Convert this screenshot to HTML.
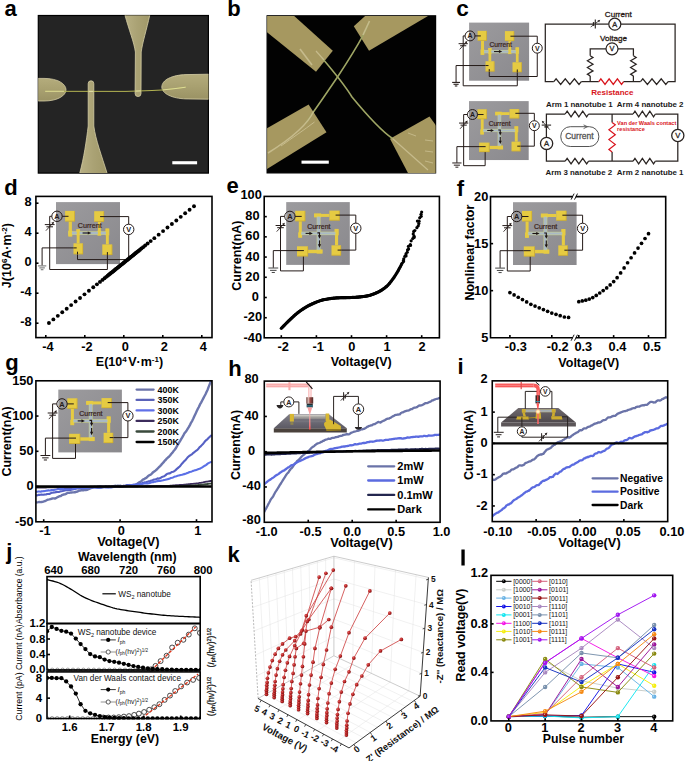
<!DOCTYPE html>
<html><head><meta charset="utf-8"><title>Figure</title>
<style>
html,body{margin:0;padding:0;background:#fff;}
body{width:685px;height:761px;overflow:hidden;font-family:"Liberation Sans",sans-serif;}
svg{display:block;}
svg text{font-family:"Liberation Sans",sans-serif;}
</style></head><body>
<svg width="685" height="761" viewBox="0 0 685 761">
<rect x="0" y="0" width="685" height="761" fill="#ffffff"/>
<text x="4.6" y="16.3" font-size="22" font-weight="bold" text-anchor="start" fill="#000" >a</text>
<defs><clipPath id="ca"><rect x="38.3" y="15.5" width="170.1" height="157.6"/></clipPath>
<linearGradient id="gel" x1="0" y1="0" x2="0" y2="1"><stop offset="0" stop-color="#b4ac7c"/><stop offset="0.5" stop-color="#a8a070"/><stop offset="1" stop-color="#9a9264"/></linearGradient>
<linearGradient id="gev" x1="0" y1="0" x2="1" y2="0"><stop offset="0" stop-color="#b8b084"/><stop offset="0.5" stop-color="#aaa274"/><stop offset="1" stop-color="#a09868"/></linearGradient></defs>
<rect x="38.3" y="15.5" width="170.1" height="157.6" fill="#242424" stroke="#000" stroke-width="1.2" />
<g clip-path="url(#ca)">
<path d="M124.9 15 L149.8 15 C146.5 30 142.6 42 141.2 52 L141 93.6 A2.95 2.95 0 0 1 135.1 93.6 L135.4 52 C134 42 129 30 124.9 15 Z" fill="url(#gev)" stroke="#d6cea6" stroke-width="0.8" />
<path d="M79.5 174 L107.3 174 C101.5 155 95.6 140 93.8 126 L93.8 83.6 A2.8 2.8 0 0 0 88.2 83.6 L88.2 126 C86.5 140 84 158 79.5 174 Z" fill="url(#gev)" stroke="#d6cea6" stroke-width="0.8" />
<path d="M38 78.4 L44 78.4 C58 78.4 66 84 66 89.7 C66 95.4 58 101 44 101 L38 101 Z" fill="url(#gel)" stroke="#d6cea6" stroke-width="0.8" />
<path d="M209 74.2 L186 74.6 C172 75 161.8 80 161.8 87 C161.8 93.5 172 98.5 186 98.9 L209 99.2 Z" fill="url(#gel)" stroke="#d6cea6" stroke-width="0.8" />
<polyline points="45.2,91.3 126,91.4 150,90.6 162,90 175,88.6 185.7,87.2" fill="none" stroke="#b4b452" stroke-width="1" />
<polyline points="45.2,91.3 64,91.3" fill="none" stroke="#e2e0a0" stroke-width="0.9" />
<polyline points="163,89.9 175,88.6 185.7,87.2" fill="none" stroke="#e2e0a0" stroke-width="0.9" />
<line x1="88.4" y1="91.35" x2="93.6" y2="91.35" stroke="#e8e6b0" stroke-width="1" />
<line x1="135.3" y1="91.1" x2="140.9" y2="90.9" stroke="#e8e6b0" stroke-width="1" />
</g>
<rect x="172.3" y="161.2" width="24.8" height="3.1" fill="#fff" stroke="none" stroke-width="1" />
<text x="227.3" y="16.2" font-size="22" font-weight="bold" text-anchor="start" fill="#000" >b</text>
<defs><clipPath id="cb"><rect x="267.1" y="15.8" width="168.5" height="157.1"/></clipPath></defs>
<rect x="267.1" y="15.8" width="168.5" height="157.1" fill="#020202" stroke="#000" stroke-width="1.2" />
<g clip-path="url(#cb)">
<polygon points="266,16 294.2,16 332.8,50.7 316,71.7 266,31.5" fill="#a69860" stroke="none" stroke-width="1" />
<polygon points="365.1,16 428,16 369,50.7 353.8,26.3" fill="#a69860" stroke="none" stroke-width="1" />
<polygon points="266,128.8 308.6,104.6 326.5,132.2 266,169.5" fill="#a69860" stroke="none" stroke-width="1" />
<polygon points="390,138.7 429.5,116.4 437,127 437,174 408.5,174" fill="#a69860" stroke="none" stroke-width="1" />
<path d="M322 58 C334 72 344 84 352 97 C366 114 380 130 392.5 138.5" fill="none" stroke="#9ea564" stroke-width="1.6" />
<path d="M369.2 21.6 C367 28 365 32 362.5 36.3 C355 50 346 64 337.5 77 C330 88 322 100 313.9 111.2 L306 123" fill="none" stroke="#9ea564" stroke-width="1.6" />
<line x1="300" y1="49" x2="312" y2="65" stroke="#c6bb8c" stroke-width="1.6" />
<line x1="316" y1="51" x2="324" y2="60" stroke="#c6bb8c" stroke-width="1.2" />
<line x1="369.5" y1="21" x2="363" y2="35" stroke="#c6bb8c" stroke-width="1.6" />
<path d="M313.5 111.5 C308 124 292 138 268 153" fill="none" stroke="#c6bb8c" stroke-width="1.5" />
<path d="M314.5 122 C304 130 292 138 281 146" fill="none" stroke="#c6bb8c" stroke-width="1" />
<line x1="392.5" y1="138.5" x2="428" y2="170" stroke="#c6bb8c" stroke-width="1.2" />
<line x1="408" y1="133" x2="416" y2="136" stroke="#c6bb8c" stroke-width="0.9" />
<line x1="425" y1="140" x2="433" y2="141" stroke="#c6bb8c" stroke-width="0.9" />
<line x1="425" y1="151" x2="433" y2="152" stroke="#c6bb8c" stroke-width="0.9" />
<line x1="425" y1="161" x2="433" y2="163" stroke="#c6bb8c" stroke-width="0.9" />
</g>
<rect x="301.5" y="160.6" width="27.3" height="3.1" fill="#fff" stroke="none" stroke-width="1" />
<text x="456.2" y="16.4" font-size="22.5" font-weight="bold" text-anchor="start" fill="#000" >c</text>
<defs><linearGradient id="gd1" x1="0" y1="0" x2="1" y2="1"><stop offset="0" stop-color="#9c9b9e"/><stop offset="1" stop-color="#8a898d"/></linearGradient></defs><rect x="469.1" y="22.6" width="60" height="58.12" fill="url(#gd1)" stroke="none" stroke-width="1" /><polyline points="465.06,35.91 463.19,35.91 463.19,85.79 517.29,85.79 517.29,69.47" fill="none" stroke="#241a18" stroke-width="1" /><line x1="458.6" y1="43.69" x2="467.79" y2="43.69" stroke="#241a18" stroke-width="1" /><line x1="460.1" y1="45.76" x2="466.29" y2="45.76" stroke="#241a18" stroke-width="1" /><line x1="459.63" y1="49.41" x2="466.01" y2="42.48" stroke="#241a18" stroke-width="0.85" /><polygon points="467.23,41.07 464.69,42.01 466.57,43.69" fill="#241a18" stroke="none" stroke-width="1" /><polyline points="488.51,65.54 456.07,65.54 456.07,82.04" fill="none" stroke="#241a18" stroke-width="1" /><line x1="452.15" y1="82.41" x2="459.99" y2="82.41" stroke="#241a18" stroke-width="1.1" /><line x1="453.49" y1="84.28" x2="458.65" y2="84.28" stroke="#241a18" stroke-width="1.1" /><line x1="454.82" y1="85.97" x2="457.32" y2="85.97" stroke="#241a18" stroke-width="1.1" /><polyline points="537.26,53.17 537.26,76.51 489.26,76.51 489.26,69.1" fill="none" stroke="#241a18" stroke-width="1" /><rect x="481.01" y="40.69" width="3" height="13.97" fill="#e6cb42" stroke="none" stroke-width="1" /><rect x="508.38" y="40.98" width="2.72" height="12.66" fill="#e6cb42" stroke="none" stroke-width="1" /><rect x="488.51" y="48.19" width="2.72" height="13.03" fill="#e6cb42" stroke="none" stroke-width="1" /><rect x="515.88" y="47.54" width="2.72" height="14.72" fill="#e6cb42" stroke="none" stroke-width="1" /><rect x="480.54" y="49.41" width="3.84" height="5.44" fill="#e6cb42" stroke="none" stroke-width="1" /><rect x="507.91" y="49.41" width="3.56" height="4.69" fill="#e6cb42" stroke="none" stroke-width="1" /><rect x="488.13" y="48.01" width="3.56" height="5.72" fill="#e6cb42" stroke="none" stroke-width="1" /><rect x="515.41" y="47.35" width="3.66" height="6.38" fill="#e6cb42" stroke="none" stroke-width="1" /><rect x="481.01" y="49.98" width="37.59" height="3.28" fill="#c9cf8a" stroke="none" stroke-width="1" /><rect x="481.48" y="50.54" width="36.66" height="2.16" fill="#a9b9c6" stroke="none" stroke-width="1" /><rect x="481.01" y="49.79" width="3" height="3.66" fill="#e6cb42" stroke="none" stroke-width="1" /><rect x="488.51" y="49.79" width="2.72" height="3.66" fill="#e6cb42" stroke="none" stroke-width="1" /><rect x="508.38" y="49.79" width="2.72" height="3.66" fill="#e6cb42" stroke="none" stroke-width="1" /><rect x="515.88" y="49.79" width="2.72" height="3.66" fill="#e6cb42" stroke="none" stroke-width="1" /><rect x="477.63" y="30.85" width="9.09" height="9.84" fill="#e6cb42" stroke="none" stroke-width="1" /><line x1="477.91" y1="40.46" x2="486.73" y2="40.46" stroke="#c8a426" stroke-width="0.56" /><line x1="486.49" y1="31.13" x2="486.49" y2="40.69" stroke="#c8a426" stroke-width="0.56" /><rect x="504.91" y="31.13" width="9.19" height="9.84" fill="#e6cb42" stroke="none" stroke-width="1" /><line x1="505.19" y1="40.74" x2="514.1" y2="40.74" stroke="#c8a426" stroke-width="0.56" /><line x1="513.87" y1="31.41" x2="513.87" y2="40.98" stroke="#c8a426" stroke-width="0.56" /><rect x="485.51" y="61.23" width="8.91" height="10.22" fill="#e6cb42" stroke="none" stroke-width="1" /><line x1="485.79" y1="71.21" x2="494.41" y2="71.21" stroke="#c8a426" stroke-width="0.56" /><line x1="494.18" y1="61.51" x2="494.18" y2="71.44" stroke="#c8a426" stroke-width="0.56" /><rect x="512.51" y="62.26" width="9.28" height="9.84" fill="#e6cb42" stroke="none" stroke-width="1" /><line x1="512.79" y1="71.87" x2="521.79" y2="71.87" stroke="#c8a426" stroke-width="0.56" /><line x1="521.55" y1="62.54" x2="521.55" y2="72.1" stroke="#c8a426" stroke-width="0.56" /><text x="500.69" y="46.79" font-size="6.75"  text-anchor="middle" fill="#3a2420" stroke="#3a2420" stroke-width="0.22">Current</text><line x1="494.04" y1="51.57" x2="499.66" y2="51.57" stroke="#1c1210" stroke-width="1.03" /><polygon points="502.19,51.57 498.91,50.07 498.91,53.07" fill="#1c1210" stroke="none" stroke-width="1" /><polyline points="475.01,35.91 480.82,35.91" fill="none" stroke="#241a18" stroke-width="1" /><polyline points="510.44,36.19 537.26,36.19 537.26,43.22" fill="none" stroke="#241a18" stroke-width="1" /><line x1="488.51" y1="65.54" x2="485.51" y2="65.54" stroke="#241a18" stroke-width="1" /><line x1="489.26" y1="69.1" x2="489.26" y2="71.44" stroke="#241a18" stroke-width="1" /><line x1="517.29" y1="69.47" x2="517.29" y2="72.1" stroke="#241a18" stroke-width="1" /><circle cx="470.04" cy="35.91" r="4.97" fill="none" stroke="#241a18" stroke-width="1" /><text x="470.04" y="38.41" font-size="6.94" font-weight="bold" text-anchor="middle" fill="#241a18" >A</text><circle cx="537.26" cy="48.19" r="4.97" fill="none" stroke="#241a18" stroke-width="1" /><text x="537.26" y="50.69" font-size="6.94" font-weight="bold" text-anchor="middle" fill="#241a18" >V</text>
<polyline points="553.8,81.6 545.3,81.6 545.3,24.1 593.6,24.1" fill="none" stroke="#2a2422" stroke-width="1.25" />
<polyline points="595.3,24.1 608.8,24.1" fill="none" stroke="#2a2422" stroke-width="1.25" />
<polyline points="620.2,24.1 675.1,24.1 675.1,81.6 668.1,81.6" fill="none" stroke="#2a2422" stroke-width="1.25" />
<line x1="595.3" y1="19.4" x2="595.3" y2="28.6" stroke="#2a2422" stroke-width="1.1" /><line x1="593.6" y1="22.1" x2="593.6" y2="25.9" stroke="#2a2422" stroke-width="1.5" /><line x1="590.7" y1="27" x2="598.9" y2="20.8" stroke="#2a2422" stroke-width="0.8" /><polygon points="600.2,19.8 597.5,20.5 599.1,22.4" fill="#2a2422" stroke="none" stroke-width="1" />
<circle cx="614.8" cy="24.2" r="6" fill="#fff" stroke="#2a2422" stroke-width="1.2" /><text x="614.8" y="26.86" font-size="7.4"  text-anchor="middle" fill="#2a2422" stroke="#2a2422" stroke-width="0.3">A</text>
<text x="618.3" y="16.6" font-size="8.1"  text-anchor="middle" fill="#2a1a16" stroke="#2a1a16" stroke-width="0.3">Current</text>
<text x="613.5" y="41.4" font-size="8.1"  text-anchor="middle" fill="#2a1a16" stroke="#2a1a16" stroke-width="0.3">Voltage</text>
<polyline points="606.3,48.8 590.2,48.8 590.2,55.8" fill="none" stroke="#2a2422" stroke-width="1.25" />
<polyline points="617.7,48.8 633.4,48.8 633.4,55.8" fill="none" stroke="#2a2422" stroke-width="1.25" />
<circle cx="612" cy="48.8" r="6" fill="#fff" stroke="#2a2422" stroke-width="1.2" /><text x="612" y="51.46" font-size="7.4"  text-anchor="middle" fill="#2a2422" stroke="#2a2422" stroke-width="0.3">V</text>
<polyline points="590.2,55.8 593,57.47 587.4,60.83 593,64.17 587.4,67.53 593,70.88 587.4,74.23 590.2,75.9" fill="none" stroke="#2a2422" stroke-width="1.25" stroke-linejoin="miter"/>
<polyline points="633.4,55.8 636.2,57.47 630.6,60.83 636.2,64.17 630.6,67.53 636.2,70.88 630.6,74.23 633.4,75.9" fill="none" stroke="#2a2422" stroke-width="1.25" stroke-linejoin="miter"/>
<line x1="590.2" y1="75.9" x2="590.2" y2="81.6" stroke="#2a2422" stroke-width="1.25" />
<line x1="633.4" y1="75.9" x2="633.4" y2="81.6" stroke="#2a2422" stroke-width="1.25" />
<polyline points="553.8,81.6 556.09,78.8 560.67,84.4 565.26,78.8 569.84,84.4 574.42,78.8 579.01,84.4 581.3,81.6" fill="none" stroke="#2a2422" stroke-width="1.25" stroke-linejoin="miter"/>
<line x1="581.3" y1="81.6" x2="598.8" y2="81.6" stroke="#2a2422" stroke-width="1.25" />
<polyline points="598.8,81.6 600.87,78.8 605,84.4 609.13,78.8 613.27,84.4 617.4,78.8 621.53,84.4 623.6,81.6" fill="none" stroke="#d8141c" stroke-width="1.3" stroke-linejoin="miter"/>
<line x1="623.6" y1="81.6" x2="640.5" y2="81.6" stroke="#2a2422" stroke-width="1.25" />
<polyline points="640.5,81.6 642.8,78.8 647.4,84.4 652,78.8 656.6,84.4 661.2,78.8 665.8,84.4 668.1,81.6" fill="none" stroke="#2a2422" stroke-width="1.25" stroke-linejoin="miter"/>
<text x="612.4" y="95" font-size="8" font-weight="bold" text-anchor="middle" fill="#d8141c" >Resistance</text>
<defs><linearGradient id="gd2" x1="0" y1="0" x2="1" y2="1"><stop offset="0" stop-color="#9c9b9e"/><stop offset="1" stop-color="#8a898d"/></linearGradient></defs><rect x="469" y="101.1" width="59.7" height="58.95" fill="url(#gd2)" stroke="none" stroke-width="1" /><polyline points="467.49,114.52 463.65,114.52 463.65,165.68 485.15,165.68 485.15,151.79" fill="none" stroke="#241a18" stroke-width="1" /><line x1="459.05" y1="123.07" x2="468.25" y2="123.07" stroke="#241a18" stroke-width="1" /><line x1="460.55" y1="125.13" x2="466.75" y2="125.13" stroke="#241a18" stroke-width="1" /><line x1="460.08" y1="128.79" x2="466.47" y2="121.84" stroke="#241a18" stroke-width="0.85" /><polygon points="467.69,120.44 465.15,121.38 467.03,123.07" fill="#241a18" stroke="none" stroke-width="1" /><polyline points="485.61,146.63 456.89,146.63 456.89,162.77" fill="none" stroke="#241a18" stroke-width="1" /><line x1="452.27" y1="162.96" x2="461.52" y2="162.96" stroke="#241a18" stroke-width="1" /><line x1="453.84" y1="165.17" x2="459.94" y2="165.17" stroke="#241a18" stroke-width="1" /><line x1="455.42" y1="167.16" x2="458.36" y2="167.16" stroke="#241a18" stroke-width="1" /><polyline points="534.33,130.67 534.33,146.16 517.25,146.16" fill="none" stroke="#241a18" stroke-width="1" /><rect x="480.83" y="119.03" width="2.82" height="15.21" fill="#e6cb42" stroke="none" stroke-width="1" /><rect x="480.26" y="129.45" width="3.66" height="5.07" fill="#e6cb42" stroke="none" stroke-width="1" /><rect x="495.19" y="112.18" width="14.36" height="2.82" fill="#e6cb42" stroke="none" stroke-width="1" /><rect x="495.19" y="111.71" width="6.57" height="3.75" fill="#e6cb42" stroke="none" stroke-width="1" /><rect x="489.46" y="145.88" width="13.42" height="3.19" fill="#e6cb42" stroke="none" stroke-width="1" /><rect x="497.63" y="145.5" width="5.44" height="3.94" fill="#e6cb42" stroke="none" stroke-width="1" /><rect x="514.81" y="126.54" width="2.91" height="15.11" fill="#e6cb42" stroke="none" stroke-width="1" /><rect x="514.34" y="126.26" width="3.94" height="6.01" fill="#e6cb42" stroke="none" stroke-width="1" /><rect x="482.99" y="128.88" width="32.38" height="3.19" fill="#c9cf8a" stroke="none" stroke-width="1" /><rect x="497.63" y="114.52" width="3.57" height="31.63" fill="#c9cf8a" stroke="none" stroke-width="1" /><rect x="483.46" y="129.45" width="31.45" height="2.07" fill="#a9b9c6" stroke="none" stroke-width="1" /><rect x="498.19" y="114.99" width="2.44" height="30.69" fill="#a9b9c6" stroke="none" stroke-width="1" /><rect x="477.45" y="109.27" width="9.39" height="9.76" fill="#e6cb42" stroke="none" stroke-width="1" /><line x1="477.73" y1="118.79" x2="486.83" y2="118.79" stroke="#c8a426" stroke-width="0.56" /><line x1="486.6" y1="109.55" x2="486.6" y2="119.03" stroke="#c8a426" stroke-width="0.56" /><rect x="509.55" y="109.08" width="9.57" height="9.29" fill="#e6cb42" stroke="none" stroke-width="1" /><line x1="509.83" y1="118.14" x2="519.13" y2="118.14" stroke="#c8a426" stroke-width="0.56" /><line x1="518.89" y1="109.36" x2="518.89" y2="118.37" stroke="#c8a426" stroke-width="0.56" /><rect x="479.14" y="142.59" width="10.33" height="9.39" fill="#e6cb42" stroke="none" stroke-width="1" /><line x1="479.42" y1="151.74" x2="489.46" y2="151.74" stroke="#c8a426" stroke-width="0.56" /><line x1="489.23" y1="142.87" x2="489.23" y2="151.98" stroke="#c8a426" stroke-width="0.56" /><rect x="511.52" y="141.65" width="8.92" height="9.57" fill="#e6cb42" stroke="none" stroke-width="1" /><line x1="511.8" y1="150.99" x2="520.44" y2="150.99" stroke="#c8a426" stroke-width="0.56" /><line x1="520.2" y1="141.93" x2="520.2" y2="151.23" stroke="#c8a426" stroke-width="0.56" /><text x="499.6" y="126.26" font-size="6.57"  text-anchor="middle" fill="#3a2420" stroke="#3a2420" stroke-width="0.22">Current</text><line x1="487.21" y1="130.48" x2="491.53" y2="130.48" stroke="#1c1210" stroke-width="1.03" /><polygon points="493.97,130.48 490.78,128.98 490.78,131.98" fill="#1c1210" stroke="none" stroke-width="1" /><polyline points="498.29,130.01 500.26,130.01 500.26,133.02" fill="none" stroke="#1c1210" stroke-width="1.03" /><polygon points="500.26,135.46 498.76,132.26 501.76,132.26" fill="#1c1210" stroke="none" stroke-width="1" /><line x1="500.26" y1="137.05" x2="500.26" y2="141.46" stroke="#1c1210" stroke-width="1.03" /><polygon points="500.26,143.9 498.76,140.71 501.76,140.71" fill="#1c1210" stroke="none" stroke-width="1" /><polyline points="477.45,114.52 483.55,114.52" fill="none" stroke="#241a18" stroke-width="1" /><polyline points="515.37,113.3 534.33,113.3 534.33,120.71" fill="none" stroke="#241a18" stroke-width="1" /><line x1="485.61" y1="146.63" x2="479.14" y2="146.63" stroke="#241a18" stroke-width="1" /><line x1="517.25" y1="146.16" x2="520.44" y2="146.16" stroke="#241a18" stroke-width="1" /><circle cx="472.47" cy="114.52" r="4.98" fill="none" stroke="#241a18" stroke-width="1" /><text x="472.47" y="117.02" font-size="6.95" font-weight="bold" text-anchor="middle" fill="#241a18" >A</text><circle cx="534.33" cy="125.69" r="4.98" fill="none" stroke="#241a18" stroke-width="1" /><text x="534.33" y="128.19" font-size="6.95" font-weight="bold" text-anchor="middle" fill="#241a18" >V</text>
<polyline points="565.2,114 546.4,114 546.4,137.3" fill="none" stroke="#2a2422" stroke-width="1.25" />
<polyline points="546.4,149.5 546.4,161.1 565.2,161.1" fill="none" stroke="#2a2422" stroke-width="1.25" />
<polyline points="565.2,114 567.15,111.2 571.05,116.8 574.95,111.2 578.85,116.8 582.75,111.2 586.65,116.8 588.6,114" fill="none" stroke="#2a2422" stroke-width="1.25" stroke-linejoin="miter"/>
<line x1="588.6" y1="114" x2="633.1" y2="114" stroke="#2a2422" stroke-width="1.25" />
<polyline points="633.1,114 634.96,111.2 638.67,116.8 642.39,111.2 646.11,116.8 649.83,111.2 653.54,116.8 655.4,114" fill="none" stroke="#2a2422" stroke-width="1.25" stroke-linejoin="miter"/>
<polyline points="655.4,114 677.8,114 677.8,129.4" fill="none" stroke="#2a2422" stroke-width="1.25" />
<polyline points="565.2,161.1 567.15,158.3 571.05,163.9 574.95,158.3 578.85,163.9 582.75,158.3 586.65,163.9 588.6,161.1" fill="none" stroke="#2a2422" stroke-width="1.25" stroke-linejoin="miter"/>
<line x1="588.6" y1="161.1" x2="633.1" y2="161.1" stroke="#2a2422" stroke-width="1.25" />
<polyline points="633.1,161.1 634.96,158.3 638.67,163.9 642.39,158.3 646.11,163.9 649.83,158.3 653.54,163.9 655.4,161.1" fill="none" stroke="#2a2422" stroke-width="1.25" stroke-linejoin="miter"/>
<polyline points="655.4,161.1 677.8,161.1 677.8,141.6" fill="none" stroke="#2a2422" stroke-width="1.25" />
<line x1="612.1" y1="114" x2="612.1" y2="122.4" stroke="#2a2422" stroke-width="1.25" />
<line x1="612.1" y1="151.9" x2="612.1" y2="161.1" stroke="#2a2422" stroke-width="1.25" />
<polyline points="612.1,122.4 615.3,124.86 608.9,129.78 615.3,134.69 608.9,139.61 615.3,144.53 608.9,149.44 612.1,151.9" fill="none" stroke="#d8141c" stroke-width="1.2" stroke-linejoin="miter"/>
<line x1="541.7" y1="125.1" x2="551.1" y2="125.1" stroke="#2a2422" stroke-width="1.1" /><line x1="544.4" y1="126.9" x2="548.4" y2="126.9" stroke="#2a2422" stroke-width="1.5" /><line x1="543" y1="122.1" x2="549.8" y2="129.7" stroke="#2a2422" stroke-width="0.8" /><polygon points="541.8,120.7 544.5,121.8 542.6,123.5" fill="#2a2422" stroke="none" stroke-width="1" />
<circle cx="546.6" cy="143.4" r="6.1" fill="#fff" stroke="#2a2422" stroke-width="1.3" /><text x="546.6" y="146.14" font-size="7.6"  text-anchor="middle" fill="#2a2422" stroke="#2a2422" stroke-width="0.3">A</text>
<circle cx="677.8" cy="135.5" r="6.1" fill="#fff" stroke="#2a2422" stroke-width="1.3" /><text x="677.8" y="138.24" font-size="7.6"  text-anchor="middle" fill="#2a2422" stroke="#2a2422" stroke-width="0.3">V</text>
<rect x="560.8" y="126.7" width="38" height="19.8" fill="none" stroke="#555" stroke-width="1" rx="9.5"/>
<polyline points="583.6,124.9 587.4,126.7 583.6,128.6" fill="none" stroke="#555" stroke-width="0.9" />
<text x="579.4" y="138.6" font-size="8.5"  text-anchor="middle" fill="#555" stroke="#555" stroke-width="0.3">Current</text>
<text x="617.1" y="125" font-size="5.6" font-weight="bold" text-anchor="start" fill="#d8141c" >Van der Waals contact</text>
<text x="617.1" y="131.4" font-size="5.6" font-weight="bold" text-anchor="start" fill="#d8141c" >resistance</text>
<text x="579.3" y="106.6" font-size="7.9" font-weight="bold" text-anchor="middle" fill="#1a1a1a" >Arm 1 nanotube 1</text>
<text x="650.2" y="106.6" font-size="7.9" font-weight="bold" text-anchor="middle" fill="#1a1a1a" >Arm 4 nanotube 2</text>
<text x="578.8" y="175" font-size="7.9" font-weight="bold" text-anchor="middle" fill="#1a1a1a" >Arm 3 nanotube 2</text>
<text x="650.2" y="175" font-size="7.9" font-weight="bold" text-anchor="middle" fill="#1a1a1a" >Arm 2 nanotube 1</text>
<text x="4.3" y="194.5" font-size="22" font-weight="bold" text-anchor="start" fill="#000" >d</text>
<defs><linearGradient id="gd3" x1="0" y1="0" x2="1" y2="1"><stop offset="0" stop-color="#9c9b9e"/><stop offset="1" stop-color="#8a898d"/></linearGradient></defs><rect x="56" y="202.1" width="64" height="62" fill="url(#gd3)" stroke="none" stroke-width="1" /><polyline points="51.8,216.3 49.7,216.3 49.7,269.5 107.4,269.5 107.4,252.1" fill="none" stroke="#241a18" stroke-width="1" /><line x1="44.8" y1="224.6" x2="54.6" y2="224.6" stroke="#241a18" stroke-width="1" /><line x1="46.4" y1="226.8" x2="53" y2="226.8" stroke="#241a18" stroke-width="1" /><line x1="45.9" y1="230.7" x2="52.7" y2="223.3" stroke="#241a18" stroke-width="0.85" /><polygon points="54,221.8 51.3,222.8 53.3,224.6" fill="#241a18" stroke="none" stroke-width="1" /><polyline points="76.7,247.9 42.1,247.9 42.1,265.5" fill="none" stroke="#241a18" stroke-width="1" /><line x1="37.92" y1="265.9" x2="46.28" y2="265.9" stroke="#777" stroke-width="1.1" /><line x1="39.34" y1="267.89" x2="44.86" y2="267.89" stroke="#777" stroke-width="1.1" /><line x1="40.77" y1="269.7" x2="43.43" y2="269.7" stroke="#777" stroke-width="1.1" /><polyline points="128.7,234.6 128.7,259.6 77.5,259.6 77.5,251.7" fill="none" stroke="#241a18" stroke-width="1" /><rect x="68.7" y="221.4" width="3.2" height="14.9" fill="#e6cb42" stroke="none" stroke-width="1" /><rect x="97.9" y="221.7" width="2.9" height="13.5" fill="#e6cb42" stroke="none" stroke-width="1" /><rect x="76.7" y="229.4" width="2.9" height="13.9" fill="#e6cb42" stroke="none" stroke-width="1" /><rect x="105.9" y="228.7" width="2.9" height="15.7" fill="#e6cb42" stroke="none" stroke-width="1" /><rect x="68.2" y="230.7" width="4.1" height="5.8" fill="#e6cb42" stroke="none" stroke-width="1" /><rect x="97.4" y="230.7" width="3.8" height="5" fill="#e6cb42" stroke="none" stroke-width="1" /><rect x="76.3" y="229.2" width="3.8" height="6.1" fill="#e6cb42" stroke="none" stroke-width="1" /><rect x="105.4" y="228.5" width="3.9" height="6.8" fill="#e6cb42" stroke="none" stroke-width="1" /><rect x="68.7" y="231.3" width="40.1" height="3.5" fill="#c9cf8a" stroke="none" stroke-width="1" /><rect x="69.2" y="231.9" width="39.1" height="2.3" fill="#a9b9c6" stroke="none" stroke-width="1" /><rect x="68.7" y="231.1" width="3.2" height="3.9" fill="#e6cb42" stroke="none" stroke-width="1" /><rect x="76.7" y="231.1" width="2.9" height="3.9" fill="#e6cb42" stroke="none" stroke-width="1" /><rect x="97.9" y="231.1" width="2.9" height="3.9" fill="#e6cb42" stroke="none" stroke-width="1" /><rect x="105.9" y="231.1" width="2.9" height="3.9" fill="#e6cb42" stroke="none" stroke-width="1" /><rect x="65.1" y="210.9" width="9.7" height="10.5" fill="#e6cb42" stroke="none" stroke-width="1" /><line x1="65.4" y1="221.15" x2="74.8" y2="221.15" stroke="#c8a426" stroke-width="0.6" /><line x1="74.55" y1="211.2" x2="74.55" y2="221.4" stroke="#c8a426" stroke-width="0.6" /><rect x="94.2" y="211.2" width="9.8" height="10.5" fill="#e6cb42" stroke="none" stroke-width="1" /><line x1="94.5" y1="221.45" x2="104" y2="221.45" stroke="#c8a426" stroke-width="0.6" /><line x1="103.75" y1="211.5" x2="103.75" y2="221.7" stroke="#c8a426" stroke-width="0.6" /><rect x="73.5" y="243.3" width="9.5" height="10.9" fill="#e6cb42" stroke="none" stroke-width="1" /><line x1="73.8" y1="253.95" x2="83" y2="253.95" stroke="#c8a426" stroke-width="0.6" /><line x1="82.75" y1="243.6" x2="82.75" y2="254.2" stroke="#c8a426" stroke-width="0.6" /><rect x="102.3" y="244.4" width="9.9" height="10.5" fill="#e6cb42" stroke="none" stroke-width="1" /><line x1="102.6" y1="254.65" x2="112.2" y2="254.65" stroke="#c8a426" stroke-width="0.6" /><line x1="111.95" y1="244.7" x2="111.95" y2="254.9" stroke="#c8a426" stroke-width="0.6" /><text x="89.7" y="227.9" font-size="7.2"  text-anchor="middle" fill="#3a2420" stroke="#3a2420" stroke-width="0.22">Current</text><line x1="82.6" y1="233" x2="88.6" y2="233" stroke="#1c1210" stroke-width="1.1" /><polygon points="91.3,233 87.8,231.4 87.8,234.6" fill="#1c1210" stroke="none" stroke-width="1" /><polyline points="62.2,216.3 68.5,216.3" fill="none" stroke="#241a18" stroke-width="1" /><polyline points="100.1,216.6 128.7,216.6 128.7,224.2" fill="none" stroke="#241a18" stroke-width="1" /><line x1="76.7" y1="247.9" x2="73.5" y2="247.9" stroke="#241a18" stroke-width="1" /><line x1="77.5" y1="251.7" x2="77.5" y2="254.2" stroke="#241a18" stroke-width="1" /><line x1="107.4" y1="252.1" x2="107.4" y2="254.9" stroke="#241a18" stroke-width="1" /><circle cx="57" cy="216.3" r="5.2" fill="none" stroke="#241a18" stroke-width="1" /><text x="57" y="218.96" font-size="7.4" font-weight="bold" text-anchor="middle" fill="#241a18" >A</text><circle cx="128.7" cy="229.4" r="5.2" fill="none" stroke="#241a18" stroke-width="1" /><text x="128.7" y="232.06" font-size="7.4" font-weight="bold" text-anchor="middle" fill="#241a18" >V</text>
<circle cx="122.92" cy="263.42" r="1.95" fill="#000" stroke="none" stroke-width="1" />
<circle cx="122.05" cy="264.13" r="1.95" fill="#000" stroke="none" stroke-width="1" />
<circle cx="121.17" cy="264.83" r="1.95" fill="#000" stroke="none" stroke-width="1" />
<circle cx="120.29" cy="265.54" r="1.95" fill="#000" stroke="none" stroke-width="1" />
<circle cx="119.41" cy="266.24" r="1.95" fill="#000" stroke="none" stroke-width="1" />
<circle cx="118.53" cy="266.95" r="1.95" fill="#000" stroke="none" stroke-width="1" />
<circle cx="117.66" cy="267.66" r="1.95" fill="#000" stroke="none" stroke-width="1" />
<circle cx="116.78" cy="268.36" r="1.95" fill="#000" stroke="none" stroke-width="1" />
<circle cx="115.9" cy="269.07" r="1.95" fill="#000" stroke="none" stroke-width="1" />
<circle cx="115.03" cy="269.78" r="1.95" fill="#000" stroke="none" stroke-width="1" />
<circle cx="114.15" cy="270.48" r="1.95" fill="#000" stroke="none" stroke-width="1" />
<circle cx="113.27" cy="271.19" r="1.95" fill="#000" stroke="none" stroke-width="1" />
<circle cx="112.39" cy="271.9" r="1.95" fill="#000" stroke="none" stroke-width="1" />
<circle cx="111.52" cy="272.6" r="1.95" fill="#000" stroke="none" stroke-width="1" />
<circle cx="110.64" cy="273.31" r="1.95" fill="#000" stroke="none" stroke-width="1" />
<circle cx="109.76" cy="274.01" r="1.95" fill="#000" stroke="none" stroke-width="1" />
<circle cx="108.8" cy="274.79" r="1.95" fill="#000" stroke="none" stroke-width="1" />
<circle cx="107.64" cy="275.72" r="1.95" fill="#000" stroke="none" stroke-width="1" />
<circle cx="106.23" cy="276.86" r="1.95" fill="#000" stroke="none" stroke-width="1" />
<circle cx="104.52" cy="278.23" r="1.95" fill="#000" stroke="none" stroke-width="1" />
<circle cx="102.46" cy="279.89" r="1.95" fill="#000" stroke="none" stroke-width="1" />
<circle cx="99.96" cy="281.9" r="1.95" fill="#000" stroke="none" stroke-width="1" />
<circle cx="96.93" cy="284.34" r="1.95" fill="#000" stroke="none" stroke-width="1" />
<circle cx="93.26" cy="287.3" r="1.95" fill="#000" stroke="none" stroke-width="1" />
<circle cx="88.93" cy="290.78" r="1.95" fill="#000" stroke="none" stroke-width="1" />
<circle cx="84.49" cy="294.36" r="1.95" fill="#000" stroke="none" stroke-width="1" />
<circle cx="80.04" cy="297.94" r="1.95" fill="#000" stroke="none" stroke-width="1" />
<circle cx="75.59" cy="301.52" r="1.95" fill="#000" stroke="none" stroke-width="1" />
<circle cx="71.15" cy="305.1" r="1.95" fill="#000" stroke="none" stroke-width="1" />
<circle cx="66.7" cy="308.68" r="1.95" fill="#000" stroke="none" stroke-width="1" />
<circle cx="62.26" cy="312.25" r="1.95" fill="#000" stroke="none" stroke-width="1" />
<circle cx="57.81" cy="315.83" r="1.95" fill="#000" stroke="none" stroke-width="1" />
<circle cx="53.37" cy="319.41" r="1.95" fill="#000" stroke="none" stroke-width="1" />
<circle cx="48.92" cy="322.99" r="1.95" fill="#000" stroke="none" stroke-width="1" />
<circle cx="123.8" cy="262.71" r="1.95" fill="#000" stroke="none" stroke-width="1" />
<circle cx="124.68" cy="262.01" r="1.95" fill="#000" stroke="none" stroke-width="1" />
<circle cx="125.55" cy="261.3" r="1.95" fill="#000" stroke="none" stroke-width="1" />
<circle cx="126.43" cy="260.59" r="1.95" fill="#000" stroke="none" stroke-width="1" />
<circle cx="127.31" cy="259.89" r="1.95" fill="#000" stroke="none" stroke-width="1" />
<circle cx="128.19" cy="259.18" r="1.95" fill="#000" stroke="none" stroke-width="1" />
<circle cx="129.06" cy="258.47" r="1.95" fill="#000" stroke="none" stroke-width="1" />
<circle cx="129.94" cy="257.77" r="1.95" fill="#000" stroke="none" stroke-width="1" />
<circle cx="130.82" cy="257.06" r="1.95" fill="#000" stroke="none" stroke-width="1" />
<circle cx="131.7" cy="256.36" r="1.95" fill="#000" stroke="none" stroke-width="1" />
<circle cx="132.57" cy="255.65" r="1.95" fill="#000" stroke="none" stroke-width="1" />
<circle cx="133.45" cy="254.94" r="1.95" fill="#000" stroke="none" stroke-width="1" />
<circle cx="134.33" cy="254.24" r="1.95" fill="#000" stroke="none" stroke-width="1" />
<circle cx="135.21" cy="253.53" r="1.95" fill="#000" stroke="none" stroke-width="1" />
<circle cx="136.09" cy="252.82" r="1.95" fill="#000" stroke="none" stroke-width="1" />
<circle cx="136.96" cy="252.12" r="1.95" fill="#000" stroke="none" stroke-width="1" />
<circle cx="137.84" cy="251.41" r="1.95" fill="#000" stroke="none" stroke-width="1" />
<circle cx="138.8" cy="250.64" r="1.95" fill="#000" stroke="none" stroke-width="1" />
<circle cx="139.96" cy="249.7" r="1.95" fill="#000" stroke="none" stroke-width="1" />
<circle cx="141.37" cy="248.57" r="1.95" fill="#000" stroke="none" stroke-width="1" />
<circle cx="143.08" cy="247.2" r="1.95" fill="#000" stroke="none" stroke-width="1" />
<circle cx="145.14" cy="245.53" r="1.95" fill="#000" stroke="none" stroke-width="1" />
<circle cx="147.64" cy="243.52" r="1.95" fill="#000" stroke="none" stroke-width="1" />
<circle cx="150.67" cy="241.08" r="1.95" fill="#000" stroke="none" stroke-width="1" />
<circle cx="154.34" cy="238.13" r="1.95" fill="#000" stroke="none" stroke-width="1" />
<circle cx="158.65" cy="234.66" r="1.95" fill="#000" stroke="none" stroke-width="1" />
<circle cx="163.07" cy="231.1" r="1.95" fill="#000" stroke="none" stroke-width="1" />
<circle cx="167.49" cy="227.55" r="1.95" fill="#000" stroke="none" stroke-width="1" />
<circle cx="171.9" cy="223.99" r="1.95" fill="#000" stroke="none" stroke-width="1" />
<circle cx="176.32" cy="220.43" r="1.95" fill="#000" stroke="none" stroke-width="1" />
<circle cx="180.74" cy="216.87" r="1.95" fill="#000" stroke="none" stroke-width="1" />
<circle cx="185.16" cy="213.32" r="1.95" fill="#000" stroke="none" stroke-width="1" />
<circle cx="189.58" cy="209.76" r="1.95" fill="#000" stroke="none" stroke-width="1" />
<circle cx="194" cy="206.2" r="1.95" fill="#000" stroke="none" stroke-width="1" />
<rect x="35.9" y="196.4" width="176.1" height="141.2" fill="none" stroke="#000" stroke-width="1.6" />
<line x1="35.9" y1="203.2" x2="38.5" y2="203.2" stroke="#000" stroke-width="1.6" /><line x1="35.9" y1="233.2" x2="38.5" y2="233.2" stroke="#000" stroke-width="1.6" /><line x1="35.9" y1="263.2" x2="38.5" y2="263.2" stroke="#000" stroke-width="1.6" /><line x1="35.9" y1="293.2" x2="38.5" y2="293.2" stroke="#000" stroke-width="1.6" /><line x1="35.9" y1="323.2" x2="38.5" y2="323.2" stroke="#000" stroke-width="1.6" />
<line x1="45.8" y1="337.6" x2="45.8" y2="335" stroke="#000" stroke-width="1.6" /><line x1="84.8" y1="337.6" x2="84.8" y2="335" stroke="#000" stroke-width="1.6" /><line x1="123.8" y1="337.6" x2="123.8" y2="335" stroke="#000" stroke-width="1.6" /><line x1="162.8" y1="337.6" x2="162.8" y2="335" stroke="#000" stroke-width="1.6" /><line x1="201.8" y1="337.6" x2="201.8" y2="335" stroke="#000" stroke-width="1.6" />
<text x="31.6" y="206.4" font-size="12.8" font-weight="bold" text-anchor="end" fill="#000" >8</text>
<text x="31.6" y="236.4" font-size="12.8" font-weight="bold" text-anchor="end" fill="#000" >4</text>
<text x="31.6" y="266.4" font-size="12.8" font-weight="bold" text-anchor="end" fill="#000" >0</text>
<text x="31.6" y="296.4" font-size="12.8" font-weight="bold" text-anchor="end" fill="#000" >-4</text>
<text x="31.6" y="326.4" font-size="12.8" font-weight="bold" text-anchor="end" fill="#000" >-8</text>
<text x="48" y="350.7" font-size="12.8" font-weight="bold" text-anchor="middle" fill="#000" >-4</text>
<text x="87" y="350.7" font-size="12.8" font-weight="bold" text-anchor="middle" fill="#000" >-2</text>
<text x="125.3" y="350.7" font-size="12.8" font-weight="bold" text-anchor="middle" fill="#000" >0</text>
<text x="164.3" y="350.7" font-size="12.8" font-weight="bold" text-anchor="middle" fill="#000" >2</text>
<text x="203.3" y="350.7" font-size="12.8" font-weight="bold" text-anchor="middle" fill="#000" >4</text>
<text x="10.6" y="255.6" font-size="12.5" font-weight="bold" text-anchor="middle" fill="#000" transform="rotate(-90 10.6 255.6)" >J(10<tspan font-size="8" dy="-4">6</tspan><tspan dy="4">A·m</tspan><tspan font-size="8" dy="-4">-2</tspan><tspan dy="4">)</tspan></text>
<text x="129.5" y="366.3" font-size="12.5" font-weight="bold" text-anchor="middle" fill="#000" >E(10<tspan font-size="8" dy="-4">4</tspan><tspan dy="4" dx="1.5">V·m</tspan><tspan font-size="8" dy="-4">-1</tspan><tspan dy="4">)</tspan></text>
<text x="226.6" y="193.3" font-size="22" font-weight="bold" text-anchor="start" fill="#000" >e</text>
<defs><linearGradient id="gd4" x1="0" y1="0" x2="1" y2="1"><stop offset="0" stop-color="#9c9b9e"/><stop offset="1" stop-color="#8a898d"/></linearGradient></defs><rect x="286.2" y="202.1" width="63.6" height="62.8" fill="url(#gd4)" stroke="none" stroke-width="1" /><polyline points="284.7,216.4 280.5,216.4 280.5,270.9 303.4,270.9 303.4,256.1" fill="none" stroke="#241a18" stroke-width="1" /><line x1="275.6" y1="225.5" x2="285.4" y2="225.5" stroke="#241a18" stroke-width="1" /><line x1="277.2" y1="227.7" x2="283.8" y2="227.7" stroke="#241a18" stroke-width="1" /><line x1="276.7" y1="231.6" x2="283.5" y2="224.2" stroke="#241a18" stroke-width="0.85" /><polygon points="284.8,222.7 282.1,223.7 284.1,225.5" fill="#241a18" stroke="none" stroke-width="1" /><polyline points="303.9,250.6 273.3,250.6 273.3,267.8" fill="none" stroke="#241a18" stroke-width="1" /><line x1="268.37" y1="268" x2="278.23" y2="268" stroke="#444" stroke-width="1" /><line x1="270.05" y1="270.35" x2="276.55" y2="270.35" stroke="#444" stroke-width="1" /><line x1="271.73" y1="272.48" x2="274.87" y2="272.48" stroke="#444" stroke-width="1" /><polyline points="355.8,233.5 355.8,250.1 337.6,250.1" fill="none" stroke="#241a18" stroke-width="1" /><rect x="298.8" y="221.2" width="3" height="16.2" fill="#e6cb42" stroke="none" stroke-width="1" /><rect x="298.2" y="232.3" width="3.9" height="5.4" fill="#e6cb42" stroke="none" stroke-width="1" /><rect x="314.1" y="213.9" width="15.3" height="3" fill="#e6cb42" stroke="none" stroke-width="1" /><rect x="314.1" y="213.4" width="7" height="4" fill="#e6cb42" stroke="none" stroke-width="1" /><rect x="308" y="249.8" width="14.3" height="3.4" fill="#e6cb42" stroke="none" stroke-width="1" /><rect x="316.7" y="249.4" width="5.8" height="4.2" fill="#e6cb42" stroke="none" stroke-width="1" /><rect x="335" y="229.2" width="3.1" height="16.1" fill="#e6cb42" stroke="none" stroke-width="1" /><rect x="334.5" y="228.9" width="4.2" height="6.4" fill="#e6cb42" stroke="none" stroke-width="1" /><rect x="301.1" y="231.7" width="34.5" height="3.4" fill="#c9cf8a" stroke="none" stroke-width="1" /><rect x="316.7" y="216.4" width="3.8" height="33.7" fill="#c9cf8a" stroke="none" stroke-width="1" /><rect x="301.6" y="232.3" width="33.5" height="2.2" fill="#a9b9c6" stroke="none" stroke-width="1" /><rect x="317.3" y="216.9" width="2.6" height="32.7" fill="#a9b9c6" stroke="none" stroke-width="1" /><rect x="295.2" y="210.8" width="10" height="10.4" fill="#e6cb42" stroke="none" stroke-width="1" /><line x1="295.5" y1="220.95" x2="305.2" y2="220.95" stroke="#c8a426" stroke-width="0.6" /><line x1="304.95" y1="211.1" x2="304.95" y2="221.2" stroke="#c8a426" stroke-width="0.6" /><rect x="329.4" y="210.6" width="10.2" height="9.9" fill="#e6cb42" stroke="none" stroke-width="1" /><line x1="329.7" y1="220.25" x2="339.6" y2="220.25" stroke="#c8a426" stroke-width="0.6" /><line x1="339.35" y1="210.9" x2="339.35" y2="220.5" stroke="#c8a426" stroke-width="0.6" /><rect x="297" y="246.3" width="11" height="10" fill="#e6cb42" stroke="none" stroke-width="1" /><line x1="297.3" y1="256.05" x2="308" y2="256.05" stroke="#c8a426" stroke-width="0.6" /><line x1="307.75" y1="246.6" x2="307.75" y2="256.3" stroke="#c8a426" stroke-width="0.6" /><rect x="331.5" y="245.3" width="9.5" height="10.2" fill="#e6cb42" stroke="none" stroke-width="1" /><line x1="331.8" y1="255.25" x2="341" y2="255.25" stroke="#c8a426" stroke-width="0.6" /><line x1="340.75" y1="245.6" x2="340.75" y2="255.5" stroke="#c8a426" stroke-width="0.6" /><text x="318.8" y="228.9" font-size="7"  text-anchor="middle" fill="#3a2420" stroke="#3a2420" stroke-width="0.22">Current</text><line x1="305.6" y1="233.4" x2="310.2" y2="233.4" stroke="#1c1210" stroke-width="1.1" /><polygon points="312.8,233.4 309.4,231.8 309.4,235" fill="#1c1210" stroke="none" stroke-width="1" /><polyline points="317.4,232.9 319.5,232.9 319.5,236.1" fill="none" stroke="#1c1210" stroke-width="1.1" /><polygon points="319.5,238.7 317.9,235.3 321.1,235.3" fill="#1c1210" stroke="none" stroke-width="1" /><line x1="319.5" y1="240.4" x2="319.5" y2="245.1" stroke="#1c1210" stroke-width="1.1" /><polygon points="319.5,247.7 317.9,244.3 321.1,244.3" fill="#1c1210" stroke="none" stroke-width="1" /><polyline points="295.1,216.4 301.7,216.4" fill="none" stroke="#241a18" stroke-width="1" /><polyline points="335.6,215.1 355.8,215.1 355.8,223.1" fill="none" stroke="#241a18" stroke-width="1" /><line x1="303.9" y1="250.6" x2="297" y2="250.6" stroke="#241a18" stroke-width="1" /><line x1="337.6" y1="250.1" x2="341" y2="250.1" stroke="#241a18" stroke-width="1" /><circle cx="289.9" cy="216.4" r="5.2" fill="none" stroke="#241a18" stroke-width="1" /><text x="289.9" y="219.06" font-size="7.4" font-weight="bold" text-anchor="middle" fill="#241a18" >A</text><circle cx="355.8" cy="228.3" r="5.2" fill="none" stroke="#241a18" stroke-width="1" /><text x="355.8" y="230.96" font-size="7.4" font-weight="bold" text-anchor="middle" fill="#241a18" >V</text>
<circle cx="281.3" cy="328.34" r="1.6" fill="#000" stroke="none" stroke-width="1" />
<circle cx="282" cy="327.62" r="1.6" fill="#000" stroke="none" stroke-width="1" />
<circle cx="282.7" cy="326.91" r="1.6" fill="#000" stroke="none" stroke-width="1" />
<circle cx="283.41" cy="326.19" r="1.6" fill="#000" stroke="none" stroke-width="1" />
<circle cx="284.11" cy="325.46" r="1.6" fill="#000" stroke="none" stroke-width="1" />
<circle cx="284.81" cy="324.74" r="1.6" fill="#000" stroke="none" stroke-width="1" />
<circle cx="285.51" cy="324.02" r="1.6" fill="#000" stroke="none" stroke-width="1" />
<circle cx="286.21" cy="323.31" r="1.6" fill="#000" stroke="none" stroke-width="1" />
<circle cx="286.92" cy="322.6" r="1.6" fill="#000" stroke="none" stroke-width="1" />
<circle cx="287.62" cy="321.91" r="1.6" fill="#000" stroke="none" stroke-width="1" />
<circle cx="288.32" cy="321.22" r="1.6" fill="#000" stroke="none" stroke-width="1" />
<circle cx="289.02" cy="320.55" r="1.6" fill="#000" stroke="none" stroke-width="1" />
<circle cx="289.72" cy="319.89" r="1.6" fill="#000" stroke="none" stroke-width="1" />
<circle cx="290.43" cy="319.22" r="1.6" fill="#000" stroke="none" stroke-width="1" />
<circle cx="291.13" cy="318.56" r="1.6" fill="#000" stroke="none" stroke-width="1" />
<circle cx="291.83" cy="317.89" r="1.6" fill="#000" stroke="none" stroke-width="1" />
<circle cx="292.53" cy="317.24" r="1.6" fill="#000" stroke="none" stroke-width="1" />
<circle cx="293.23" cy="316.58" r="1.6" fill="#000" stroke="none" stroke-width="1" />
<circle cx="293.94" cy="315.94" r="1.6" fill="#000" stroke="none" stroke-width="1" />
<circle cx="294.64" cy="315.31" r="1.6" fill="#000" stroke="none" stroke-width="1" />
<circle cx="295.34" cy="314.69" r="1.6" fill="#000" stroke="none" stroke-width="1" />
<circle cx="296.04" cy="314.09" r="1.6" fill="#000" stroke="none" stroke-width="1" />
<circle cx="296.74" cy="313.5" r="1.6" fill="#000" stroke="none" stroke-width="1" />
<circle cx="297.45" cy="312.93" r="1.6" fill="#000" stroke="none" stroke-width="1" />
<circle cx="298.15" cy="312.38" r="1.6" fill="#000" stroke="none" stroke-width="1" />
<circle cx="298.85" cy="311.86" r="1.6" fill="#000" stroke="none" stroke-width="1" />
<circle cx="299.55" cy="311.35" r="1.6" fill="#000" stroke="none" stroke-width="1" />
<circle cx="300.25" cy="310.84" r="1.6" fill="#000" stroke="none" stroke-width="1" />
<circle cx="300.96" cy="310.35" r="1.6" fill="#000" stroke="none" stroke-width="1" />
<circle cx="301.66" cy="309.86" r="1.6" fill="#000" stroke="none" stroke-width="1" />
<circle cx="302.36" cy="309.38" r="1.6" fill="#000" stroke="none" stroke-width="1" />
<circle cx="303.06" cy="308.91" r="1.6" fill="#000" stroke="none" stroke-width="1" />
<circle cx="303.76" cy="308.45" r="1.6" fill="#000" stroke="none" stroke-width="1" />
<circle cx="304.47" cy="308" r="1.6" fill="#000" stroke="none" stroke-width="1" />
<circle cx="305.17" cy="307.56" r="1.6" fill="#000" stroke="none" stroke-width="1" />
<circle cx="305.87" cy="307.14" r="1.6" fill="#000" stroke="none" stroke-width="1" />
<circle cx="306.57" cy="306.73" r="1.6" fill="#000" stroke="none" stroke-width="1" />
<circle cx="307.27" cy="306.33" r="1.6" fill="#000" stroke="none" stroke-width="1" />
<circle cx="307.98" cy="305.94" r="1.6" fill="#000" stroke="none" stroke-width="1" />
<circle cx="308.68" cy="305.57" r="1.6" fill="#000" stroke="none" stroke-width="1" />
<circle cx="309.38" cy="305.22" r="1.6" fill="#000" stroke="none" stroke-width="1" />
<circle cx="310.08" cy="304.88" r="1.6" fill="#000" stroke="none" stroke-width="1" />
<circle cx="310.78" cy="304.55" r="1.6" fill="#000" stroke="none" stroke-width="1" />
<circle cx="311.49" cy="304.22" r="1.6" fill="#000" stroke="none" stroke-width="1" />
<circle cx="312.19" cy="303.9" r="1.6" fill="#000" stroke="none" stroke-width="1" />
<circle cx="312.89" cy="303.57" r="1.6" fill="#000" stroke="none" stroke-width="1" />
<circle cx="313.59" cy="303.25" r="1.6" fill="#000" stroke="none" stroke-width="1" />
<circle cx="314.29" cy="302.94" r="1.6" fill="#000" stroke="none" stroke-width="1" />
<circle cx="315" cy="302.64" r="1.6" fill="#000" stroke="none" stroke-width="1" />
<circle cx="315.7" cy="302.34" r="1.6" fill="#000" stroke="none" stroke-width="1" />
<circle cx="316.4" cy="302.04" r="1.6" fill="#000" stroke="none" stroke-width="1" />
<circle cx="317.1" cy="301.76" r="1.6" fill="#000" stroke="none" stroke-width="1" />
<circle cx="317.8" cy="301.49" r="1.6" fill="#000" stroke="none" stroke-width="1" />
<circle cx="318.51" cy="301.23" r="1.6" fill="#000" stroke="none" stroke-width="1" />
<circle cx="319.21" cy="300.98" r="1.6" fill="#000" stroke="none" stroke-width="1" />
<circle cx="319.91" cy="300.74" r="1.6" fill="#000" stroke="none" stroke-width="1" />
<circle cx="320.61" cy="300.51" r="1.6" fill="#000" stroke="none" stroke-width="1" />
<circle cx="321.31" cy="300.3" r="1.6" fill="#000" stroke="none" stroke-width="1" />
<circle cx="322.02" cy="300.11" r="1.6" fill="#000" stroke="none" stroke-width="1" />
<circle cx="322.72" cy="299.93" r="1.6" fill="#000" stroke="none" stroke-width="1" />
<circle cx="323.42" cy="299.77" r="1.6" fill="#000" stroke="none" stroke-width="1" />
<circle cx="324.12" cy="299.62" r="1.6" fill="#000" stroke="none" stroke-width="1" />
<circle cx="324.82" cy="299.49" r="1.6" fill="#000" stroke="none" stroke-width="1" />
<circle cx="325.53" cy="299.36" r="1.6" fill="#000" stroke="none" stroke-width="1" />
<circle cx="326.23" cy="299.23" r="1.6" fill="#000" stroke="none" stroke-width="1" />
<circle cx="326.93" cy="299.11" r="1.6" fill="#000" stroke="none" stroke-width="1" />
<circle cx="327.63" cy="298.98" r="1.6" fill="#000" stroke="none" stroke-width="1" />
<circle cx="328.33" cy="298.87" r="1.6" fill="#000" stroke="none" stroke-width="1" />
<circle cx="329.04" cy="298.75" r="1.6" fill="#000" stroke="none" stroke-width="1" />
<circle cx="329.74" cy="298.65" r="1.6" fill="#000" stroke="none" stroke-width="1" />
<circle cx="330.44" cy="298.54" r="1.6" fill="#000" stroke="none" stroke-width="1" />
<circle cx="331.14" cy="298.44" r="1.6" fill="#000" stroke="none" stroke-width="1" />
<circle cx="331.84" cy="298.35" r="1.6" fill="#000" stroke="none" stroke-width="1" />
<circle cx="332.55" cy="298.26" r="1.6" fill="#000" stroke="none" stroke-width="1" />
<circle cx="333.25" cy="298.18" r="1.6" fill="#000" stroke="none" stroke-width="1" />
<circle cx="333.95" cy="298.11" r="1.6" fill="#000" stroke="none" stroke-width="1" />
<circle cx="334.65" cy="298.04" r="1.6" fill="#000" stroke="none" stroke-width="1" />
<circle cx="335.35" cy="297.98" r="1.6" fill="#000" stroke="none" stroke-width="1" />
<circle cx="336.06" cy="297.92" r="1.6" fill="#000" stroke="none" stroke-width="1" />
<circle cx="336.76" cy="297.87" r="1.6" fill="#000" stroke="none" stroke-width="1" />
<circle cx="337.46" cy="297.83" r="1.6" fill="#000" stroke="none" stroke-width="1" />
<circle cx="338.16" cy="297.8" r="1.6" fill="#000" stroke="none" stroke-width="1" />
<circle cx="338.86" cy="297.78" r="1.6" fill="#000" stroke="none" stroke-width="1" />
<circle cx="339.57" cy="297.76" r="1.6" fill="#000" stroke="none" stroke-width="1" />
<circle cx="340.27" cy="297.74" r="1.6" fill="#000" stroke="none" stroke-width="1" />
<circle cx="340.97" cy="297.72" r="1.6" fill="#000" stroke="none" stroke-width="1" />
<circle cx="341.67" cy="297.7" r="1.6" fill="#000" stroke="none" stroke-width="1" />
<circle cx="342.37" cy="297.69" r="1.6" fill="#000" stroke="none" stroke-width="1" />
<circle cx="343.08" cy="297.68" r="1.6" fill="#000" stroke="none" stroke-width="1" />
<circle cx="343.78" cy="297.66" r="1.6" fill="#000" stroke="none" stroke-width="1" />
<circle cx="344.48" cy="297.65" r="1.6" fill="#000" stroke="none" stroke-width="1" />
<circle cx="345.18" cy="297.64" r="1.6" fill="#000" stroke="none" stroke-width="1" />
<circle cx="345.88" cy="297.63" r="1.6" fill="#000" stroke="none" stroke-width="1" />
<circle cx="346.59" cy="297.62" r="1.6" fill="#000" stroke="none" stroke-width="1" />
<circle cx="347.29" cy="297.61" r="1.6" fill="#000" stroke="none" stroke-width="1" />
<circle cx="347.99" cy="297.6" r="1.6" fill="#000" stroke="none" stroke-width="1" />
<circle cx="348.69" cy="297.58" r="1.6" fill="#000" stroke="none" stroke-width="1" />
<circle cx="349.39" cy="297.56" r="1.6" fill="#000" stroke="none" stroke-width="1" />
<circle cx="350.1" cy="297.55" r="1.6" fill="#000" stroke="none" stroke-width="1" />
<circle cx="350.8" cy="297.52" r="1.6" fill="#000" stroke="none" stroke-width="1" />
<circle cx="351.5" cy="297.5" r="1.6" fill="#000" stroke="none" stroke-width="1" />
<circle cx="352.2" cy="297.47" r="1.6" fill="#000" stroke="none" stroke-width="1" />
<circle cx="352.9" cy="297.44" r="1.6" fill="#000" stroke="none" stroke-width="1" />
<circle cx="353.61" cy="297.4" r="1.6" fill="#000" stroke="none" stroke-width="1" />
<circle cx="354.31" cy="297.36" r="1.6" fill="#000" stroke="none" stroke-width="1" />
<circle cx="355.01" cy="297.32" r="1.6" fill="#000" stroke="none" stroke-width="1" />
<circle cx="355.71" cy="297.27" r="1.6" fill="#000" stroke="none" stroke-width="1" />
<circle cx="356.41" cy="297.22" r="1.6" fill="#000" stroke="none" stroke-width="1" />
<circle cx="357.12" cy="297.16" r="1.6" fill="#000" stroke="none" stroke-width="1" />
<circle cx="357.82" cy="297.1" r="1.6" fill="#000" stroke="none" stroke-width="1" />
<circle cx="358.52" cy="297.04" r="1.6" fill="#000" stroke="none" stroke-width="1" />
<circle cx="359.22" cy="296.97" r="1.6" fill="#000" stroke="none" stroke-width="1" />
<circle cx="359.92" cy="296.9" r="1.6" fill="#000" stroke="none" stroke-width="1" />
<circle cx="360.63" cy="296.83" r="1.6" fill="#000" stroke="none" stroke-width="1" />
<circle cx="361.33" cy="296.75" r="1.6" fill="#000" stroke="none" stroke-width="1" />
<circle cx="362.03" cy="296.66" r="1.6" fill="#000" stroke="none" stroke-width="1" />
<circle cx="362.73" cy="296.58" r="1.6" fill="#000" stroke="none" stroke-width="1" />
<circle cx="363.43" cy="296.48" r="1.6" fill="#000" stroke="none" stroke-width="1" />
<circle cx="364.14" cy="296.39" r="1.6" fill="#000" stroke="none" stroke-width="1" />
<circle cx="364.84" cy="296.29" r="1.6" fill="#000" stroke="none" stroke-width="1" />
<circle cx="365.54" cy="296.19" r="1.6" fill="#000" stroke="none" stroke-width="1" />
<circle cx="366.24" cy="296.08" r="1.6" fill="#000" stroke="none" stroke-width="1" />
<circle cx="366.94" cy="295.97" r="1.6" fill="#000" stroke="none" stroke-width="1" />
<circle cx="367.65" cy="295.83" r="1.6" fill="#000" stroke="none" stroke-width="1" />
<circle cx="368.35" cy="295.67" r="1.6" fill="#000" stroke="none" stroke-width="1" />
<circle cx="369.05" cy="295.49" r="1.6" fill="#000" stroke="none" stroke-width="1" />
<circle cx="369.75" cy="295.29" r="1.6" fill="#000" stroke="none" stroke-width="1" />
<circle cx="370.45" cy="295.08" r="1.6" fill="#000" stroke="none" stroke-width="1" />
<circle cx="371.16" cy="294.85" r="1.6" fill="#000" stroke="none" stroke-width="1" />
<circle cx="371.86" cy="294.61" r="1.6" fill="#000" stroke="none" stroke-width="1" />
<circle cx="372.56" cy="294.36" r="1.6" fill="#000" stroke="none" stroke-width="1" />
<circle cx="373.26" cy="294.09" r="1.6" fill="#000" stroke="none" stroke-width="1" />
<circle cx="373.96" cy="293.82" r="1.6" fill="#000" stroke="none" stroke-width="1" />
<circle cx="374.67" cy="293.54" r="1.6" fill="#000" stroke="none" stroke-width="1" />
<circle cx="375.37" cy="293.25" r="1.6" fill="#000" stroke="none" stroke-width="1" />
<circle cx="376.07" cy="292.95" r="1.6" fill="#000" stroke="none" stroke-width="1" />
<circle cx="376.77" cy="292.65" r="1.6" fill="#000" stroke="none" stroke-width="1" />
<circle cx="377.47" cy="292.33" r="1.6" fill="#000" stroke="none" stroke-width="1" />
<circle cx="378.18" cy="292" r="1.6" fill="#000" stroke="none" stroke-width="1" />
<circle cx="378.88" cy="291.65" r="1.6" fill="#000" stroke="none" stroke-width="1" />
<circle cx="379.58" cy="291.27" r="1.6" fill="#000" stroke="none" stroke-width="1" />
<circle cx="380.28" cy="290.88" r="1.6" fill="#000" stroke="none" stroke-width="1" />
<circle cx="380.98" cy="290.47" r="1.6" fill="#000" stroke="none" stroke-width="1" />
<circle cx="381.69" cy="290.03" r="1.6" fill="#000" stroke="none" stroke-width="1" />
<circle cx="382.39" cy="289.58" r="1.6" fill="#000" stroke="none" stroke-width="1" />
<circle cx="383.09" cy="289.1" r="1.6" fill="#000" stroke="none" stroke-width="1" />
<circle cx="383.79" cy="288.6" r="1.6" fill="#000" stroke="none" stroke-width="1" />
<circle cx="384.49" cy="288.08" r="1.6" fill="#000" stroke="none" stroke-width="1" />
<circle cx="385.2" cy="287.54" r="1.6" fill="#000" stroke="none" stroke-width="1" />
<circle cx="385.9" cy="286.97" r="1.6" fill="#000" stroke="none" stroke-width="1" />
<circle cx="386.6" cy="286.38" r="1.6" fill="#000" stroke="none" stroke-width="1" />
<circle cx="387.3" cy="285.73" r="1.6" fill="#000" stroke="none" stroke-width="1" />
<circle cx="388" cy="285.02" r="1.6" fill="#000" stroke="none" stroke-width="1" />
<circle cx="388.71" cy="284.26" r="1.6" fill="#000" stroke="none" stroke-width="1" />
<circle cx="389.41" cy="283.46" r="1.6" fill="#000" stroke="none" stroke-width="1" />
<circle cx="390.11" cy="282.6" r="1.6" fill="#000" stroke="none" stroke-width="1" />
<circle cx="390.81" cy="281.72" r="1.6" fill="#000" stroke="none" stroke-width="1" />
<circle cx="391.51" cy="280.79" r="1.6" fill="#000" stroke="none" stroke-width="1" />
<circle cx="392.22" cy="279.84" r="1.6" fill="#000" stroke="none" stroke-width="1" />
<circle cx="392.92" cy="278.87" r="1.6" fill="#000" stroke="none" stroke-width="1" />
<circle cx="393.62" cy="277.88" r="1.6" fill="#000" stroke="none" stroke-width="1" />
<circle cx="394.32" cy="276.88" r="1.6" fill="#000" stroke="none" stroke-width="1" />
<circle cx="395.02" cy="275.84" r="1.6" fill="#000" stroke="none" stroke-width="1" />
<circle cx="395.73" cy="274.75" r="1.6" fill="#000" stroke="none" stroke-width="1" />
<circle cx="396.43" cy="273.62" r="1.6" fill="#000" stroke="none" stroke-width="1" />
<circle cx="397.13" cy="272.44" r="1.6" fill="#000" stroke="none" stroke-width="1" />
<circle cx="397.83" cy="271.22" r="1.6" fill="#000" stroke="none" stroke-width="1" />
<circle cx="398.53" cy="269.96" r="1.6" fill="#000" stroke="none" stroke-width="1" />
<circle cx="399.24" cy="268.67" r="1.6" fill="#000" stroke="none" stroke-width="1" />
<circle cx="399.94" cy="267.35" r="1.6" fill="#000" stroke="none" stroke-width="1" />
<circle cx="400.64" cy="266.01" r="1.6" fill="#000" stroke="none" stroke-width="1" />
<circle cx="401.34" cy="264.64" r="1.6" fill="#000" stroke="none" stroke-width="1" />
<circle cx="402.04" cy="263.25" r="1.6" fill="#000" stroke="none" stroke-width="1" />
<circle cx="403.51" cy="261.57" r="1.6" fill="#000" stroke="none" stroke-width="1" />
<circle cx="403.46" cy="260.53" r="1.6" fill="#000" stroke="none" stroke-width="1" />
<circle cx="403.79" cy="258.81" r="1.6" fill="#000" stroke="none" stroke-width="1" />
<circle cx="404.85" cy="256.37" r="1.6" fill="#000" stroke="none" stroke-width="1" />
<circle cx="406.01" cy="255.95" r="1.6" fill="#000" stroke="none" stroke-width="1" />
<circle cx="405.97" cy="253.94" r="1.6" fill="#000" stroke="none" stroke-width="1" />
<circle cx="407.19" cy="252.24" r="1.6" fill="#000" stroke="none" stroke-width="1" />
<circle cx="407.55" cy="249.96" r="1.6" fill="#000" stroke="none" stroke-width="1" />
<circle cx="408.61" cy="249.03" r="1.6" fill="#000" stroke="none" stroke-width="1" />
<circle cx="408.39" cy="246.45" r="1.6" fill="#000" stroke="none" stroke-width="1" />
<circle cx="410.51" cy="245.46" r="1.6" fill="#000" stroke="none" stroke-width="1" />
<circle cx="410.29" cy="244.52" r="1.6" fill="#000" stroke="none" stroke-width="1" />
<circle cx="411.15" cy="240.85" r="1.6" fill="#000" stroke="none" stroke-width="1" />
<circle cx="412.79" cy="238.48" r="1.6" fill="#000" stroke="none" stroke-width="1" />
<circle cx="414.15" cy="237.44" r="1.6" fill="#000" stroke="none" stroke-width="1" />
<circle cx="414.04" cy="236.2" r="1.6" fill="#000" stroke="none" stroke-width="1" />
<circle cx="413.24" cy="233.95" r="1.6" fill="#000" stroke="none" stroke-width="1" />
<circle cx="413.75" cy="231.38" r="1.6" fill="#000" stroke="none" stroke-width="1" />
<circle cx="414.84" cy="230.49" r="1.6" fill="#000" stroke="none" stroke-width="1" />
<circle cx="416.88" cy="227.66" r="1.6" fill="#000" stroke="none" stroke-width="1" />
<circle cx="418.26" cy="225.8" r="1.6" fill="#000" stroke="none" stroke-width="1" />
<circle cx="418.84" cy="223.57" r="1.6" fill="#000" stroke="none" stroke-width="1" />
<circle cx="417.42" cy="221.1" r="1.6" fill="#000" stroke="none" stroke-width="1" />
<circle cx="419.06" cy="221.18" r="1.6" fill="#000" stroke="none" stroke-width="1" />
<circle cx="419.72" cy="217.85" r="1.6" fill="#000" stroke="none" stroke-width="1" />
<circle cx="421.16" cy="216.28" r="1.6" fill="#000" stroke="none" stroke-width="1" />
<circle cx="421.04" cy="214.34" r="1.6" fill="#000" stroke="none" stroke-width="1" />
<circle cx="421.64" cy="212.12" r="1.6" fill="#000" stroke="none" stroke-width="1" />
<rect x="264.2" y="196.4" width="175.2" height="141.4" fill="none" stroke="#000" stroke-width="1.6" />
<line x1="264.2" y1="216.62" x2="266.8" y2="216.62" stroke="#000" stroke-width="1.6" /><line x1="264.2" y1="236.84" x2="266.8" y2="236.84" stroke="#000" stroke-width="1.6" /><line x1="264.2" y1="257.06" x2="266.8" y2="257.06" stroke="#000" stroke-width="1.6" /><line x1="264.2" y1="277.28" x2="266.8" y2="277.28" stroke="#000" stroke-width="1.6" /><line x1="264.2" y1="297.5" x2="266.8" y2="297.5" stroke="#000" stroke-width="1.6" /><line x1="264.2" y1="317.72" x2="266.8" y2="317.72" stroke="#000" stroke-width="1.6" />
<line x1="281.3" y1="337.8" x2="281.3" y2="335.2" stroke="#000" stroke-width="1.6" /><line x1="316.4" y1="337.8" x2="316.4" y2="335.2" stroke="#000" stroke-width="1.6" /><line x1="351.5" y1="337.8" x2="351.5" y2="335.2" stroke="#000" stroke-width="1.6" /><line x1="386.6" y1="337.8" x2="386.6" y2="335.2" stroke="#000" stroke-width="1.6" /><line x1="421.7" y1="337.8" x2="421.7" y2="335.2" stroke="#000" stroke-width="1.6" />
<text x="261.8" y="198.9" font-size="12.8" font-weight="bold" text-anchor="end" fill="#000" >100</text>
<text x="259.5" y="220.22" font-size="12.8" font-weight="bold" text-anchor="end" fill="#000" >80</text>
<text x="259.5" y="240.44" font-size="12.8" font-weight="bold" text-anchor="end" fill="#000" >60</text>
<text x="259.5" y="260.66" font-size="12.8" font-weight="bold" text-anchor="end" fill="#000" >40</text>
<text x="259.5" y="280.88" font-size="12.8" font-weight="bold" text-anchor="end" fill="#000" >20</text>
<text x="258.9" y="301.1" font-size="12.8" font-weight="bold" text-anchor="end" fill="#000" >0</text>
<text x="262" y="321.32" font-size="12.8" font-weight="bold" text-anchor="end" fill="#000" >-20</text>
<text x="262" y="341.54" font-size="12.8" font-weight="bold" text-anchor="end" fill="#000" >-40</text>
<text x="283.1" y="350.7" font-size="12.8" font-weight="bold" text-anchor="middle" fill="#000" >-2</text>
<text x="318.2" y="350.7" font-size="12.8" font-weight="bold" text-anchor="middle" fill="#000" >-1</text>
<text x="351.9" y="350.7" font-size="12.8" font-weight="bold" text-anchor="middle" fill="#000" >0</text>
<text x="387" y="350.7" font-size="12.8" font-weight="bold" text-anchor="middle" fill="#000" >1</text>
<text x="422.1" y="350.7" font-size="12.8" font-weight="bold" text-anchor="middle" fill="#000" >2</text>
<text x="241" y="255.6" font-size="12.5" font-weight="bold" text-anchor="middle" fill="#000" transform="rotate(-90 241 255.6)" >Current(nA)</text>
<text x="361.2" y="366.3" font-size="12.5" font-weight="bold" text-anchor="middle" fill="#000" >Voltage(V)</text>
<text x="456.8" y="196.1" font-size="22" font-weight="bold" text-anchor="start" fill="#000" >f</text>
<defs><linearGradient id="gd5" x1="0" y1="0" x2="1" y2="1"><stop offset="0" stop-color="#9c9b9e"/><stop offset="1" stop-color="#8a898d"/></linearGradient></defs><rect x="513" y="202.2" width="63.6" height="62.8" fill="url(#gd5)" stroke="none" stroke-width="1" /><polyline points="511.5,216.5 507.3,216.5 507.3,271 530.2,271 530.2,256.2" fill="none" stroke="#241a18" stroke-width="1" /><line x1="502.4" y1="225.6" x2="512.2" y2="225.6" stroke="#241a18" stroke-width="1" /><line x1="504" y1="227.8" x2="510.6" y2="227.8" stroke="#241a18" stroke-width="1" /><line x1="503.5" y1="231.7" x2="510.3" y2="224.3" stroke="#241a18" stroke-width="0.85" /><polygon points="511.6,222.8 508.9,223.8 510.9,225.6" fill="#241a18" stroke="none" stroke-width="1" /><polyline points="530.7,250.7 500.1,250.7 500.1,267.9" fill="none" stroke="#241a18" stroke-width="1" /><line x1="495.17" y1="268.1" x2="505.03" y2="268.1" stroke="#444" stroke-width="1" /><line x1="496.85" y1="270.45" x2="503.35" y2="270.45" stroke="#444" stroke-width="1" /><line x1="498.53" y1="272.58" x2="501.67" y2="272.58" stroke="#444" stroke-width="1" /><polyline points="582.6,233.6 582.6,250.2 564.4,250.2" fill="none" stroke="#241a18" stroke-width="1" /><rect x="525.6" y="221.3" width="3" height="16.2" fill="#e6cb42" stroke="none" stroke-width="1" /><rect x="525" y="232.4" width="3.9" height="5.4" fill="#e6cb42" stroke="none" stroke-width="1" /><rect x="540.9" y="214" width="15.3" height="3" fill="#e6cb42" stroke="none" stroke-width="1" /><rect x="540.9" y="213.5" width="7" height="4" fill="#e6cb42" stroke="none" stroke-width="1" /><rect x="534.8" y="249.9" width="14.3" height="3.4" fill="#e6cb42" stroke="none" stroke-width="1" /><rect x="543.5" y="249.5" width="5.8" height="4.2" fill="#e6cb42" stroke="none" stroke-width="1" /><rect x="561.8" y="229.3" width="3.1" height="16.1" fill="#e6cb42" stroke="none" stroke-width="1" /><rect x="561.3" y="229" width="4.2" height="6.4" fill="#e6cb42" stroke="none" stroke-width="1" /><rect x="527.9" y="231.8" width="34.5" height="3.4" fill="#c9cf8a" stroke="none" stroke-width="1" /><rect x="543.5" y="216.5" width="3.8" height="33.7" fill="#c9cf8a" stroke="none" stroke-width="1" /><rect x="528.4" y="232.4" width="33.5" height="2.2" fill="#a9b9c6" stroke="none" stroke-width="1" /><rect x="544.1" y="217" width="2.6" height="32.7" fill="#a9b9c6" stroke="none" stroke-width="1" /><rect x="522" y="210.9" width="10" height="10.4" fill="#e6cb42" stroke="none" stroke-width="1" /><line x1="522.3" y1="221.05" x2="532" y2="221.05" stroke="#c8a426" stroke-width="0.6" /><line x1="531.75" y1="211.2" x2="531.75" y2="221.3" stroke="#c8a426" stroke-width="0.6" /><rect x="556.2" y="210.7" width="10.2" height="9.9" fill="#e6cb42" stroke="none" stroke-width="1" /><line x1="556.5" y1="220.35" x2="566.4" y2="220.35" stroke="#c8a426" stroke-width="0.6" /><line x1="566.15" y1="211" x2="566.15" y2="220.6" stroke="#c8a426" stroke-width="0.6" /><rect x="523.8" y="246.4" width="11" height="10" fill="#e6cb42" stroke="none" stroke-width="1" /><line x1="524.1" y1="256.15" x2="534.8" y2="256.15" stroke="#c8a426" stroke-width="0.6" /><line x1="534.55" y1="246.7" x2="534.55" y2="256.4" stroke="#c8a426" stroke-width="0.6" /><rect x="558.3" y="245.4" width="9.5" height="10.2" fill="#e6cb42" stroke="none" stroke-width="1" /><line x1="558.6" y1="255.35" x2="567.8" y2="255.35" stroke="#c8a426" stroke-width="0.6" /><line x1="567.55" y1="245.7" x2="567.55" y2="255.6" stroke="#c8a426" stroke-width="0.6" /><text x="545.6" y="229" font-size="7"  text-anchor="middle" fill="#3a2420" stroke="#3a2420" stroke-width="0.22">Current</text><line x1="532.4" y1="233.5" x2="537" y2="233.5" stroke="#1c1210" stroke-width="1.1" /><polygon points="539.6,233.5 536.2,231.9 536.2,235.1" fill="#1c1210" stroke="none" stroke-width="1" /><polyline points="544.2,233 546.3,233 546.3,236.2" fill="none" stroke="#1c1210" stroke-width="1.1" /><polygon points="546.3,238.8 544.7,235.4 547.9,235.4" fill="#1c1210" stroke="none" stroke-width="1" /><line x1="546.3" y1="240.5" x2="546.3" y2="245.2" stroke="#1c1210" stroke-width="1.1" /><polygon points="546.3,247.8 544.7,244.4 547.9,244.4" fill="#1c1210" stroke="none" stroke-width="1" /><polyline points="521.9,216.5 528.5,216.5" fill="none" stroke="#241a18" stroke-width="1" /><polyline points="562.4,215.2 582.6,215.2 582.6,223.2" fill="none" stroke="#241a18" stroke-width="1" /><line x1="530.7" y1="250.7" x2="523.8" y2="250.7" stroke="#241a18" stroke-width="1" /><line x1="564.4" y1="250.2" x2="567.8" y2="250.2" stroke="#241a18" stroke-width="1" /><circle cx="516.7" cy="216.5" r="5.2" fill="none" stroke="#241a18" stroke-width="1" /><text x="516.7" y="219.16" font-size="7.4" font-weight="bold" text-anchor="middle" fill="#241a18" >A</text><circle cx="582.6" cy="228.4" r="5.2" fill="none" stroke="#241a18" stroke-width="1" /><text x="582.6" y="231.06" font-size="7.4" font-weight="bold" text-anchor="middle" fill="#241a18" >V</text>
<circle cx="509.9" cy="292.55" r="1.85" fill="#000" stroke="none" stroke-width="1" />
<circle cx="514.09" cy="294.9" r="1.85" fill="#000" stroke="none" stroke-width="1" />
<circle cx="518.28" cy="297.25" r="1.85" fill="#000" stroke="none" stroke-width="1" />
<circle cx="522.47" cy="299.6" r="1.85" fill="#000" stroke="none" stroke-width="1" />
<circle cx="526.66" cy="301.95" r="1.85" fill="#000" stroke="none" stroke-width="1" />
<circle cx="530.85" cy="304.31" r="1.85" fill="#000" stroke="none" stroke-width="1" />
<circle cx="535.04" cy="306.05" r="1.85" fill="#000" stroke="none" stroke-width="1" />
<circle cx="539.23" cy="307.8" r="1.85" fill="#000" stroke="none" stroke-width="1" />
<circle cx="543.42" cy="309.55" r="1.85" fill="#000" stroke="none" stroke-width="1" />
<circle cx="547.61" cy="311.3" r="1.85" fill="#000" stroke="none" stroke-width="1" />
<circle cx="551.8" cy="313.05" r="1.85" fill="#000" stroke="none" stroke-width="1" />
<circle cx="555.99" cy="314.37" r="1.85" fill="#000" stroke="none" stroke-width="1" />
<circle cx="560.18" cy="315.69" r="1.85" fill="#000" stroke="none" stroke-width="1" />
<circle cx="564.37" cy="317" r="1.85" fill="#000" stroke="none" stroke-width="1" />
<circle cx="568.56" cy="317.47" r="1.85" fill="#000" stroke="none" stroke-width="1" />
<circle cx="578.8" cy="301.67" r="1.85" fill="#000" stroke="none" stroke-width="1" />
<circle cx="582.28" cy="300.9" r="1.85" fill="#000" stroke="none" stroke-width="1" />
<circle cx="585.77" cy="300.13" r="1.85" fill="#000" stroke="none" stroke-width="1" />
<circle cx="589.25" cy="299.12" r="1.85" fill="#000" stroke="none" stroke-width="1" />
<circle cx="592.74" cy="297.53" r="1.85" fill="#000" stroke="none" stroke-width="1" />
<circle cx="596.23" cy="295.38" r="1.85" fill="#000" stroke="none" stroke-width="1" />
<circle cx="599.71" cy="293.02" r="1.85" fill="#000" stroke="none" stroke-width="1" />
<circle cx="603.19" cy="290.57" r="1.85" fill="#000" stroke="none" stroke-width="1" />
<circle cx="606.68" cy="287.91" r="1.85" fill="#000" stroke="none" stroke-width="1" />
<circle cx="610.16" cy="284.96" r="1.85" fill="#000" stroke="none" stroke-width="1" />
<circle cx="613.65" cy="281.62" r="1.85" fill="#000" stroke="none" stroke-width="1" />
<circle cx="617.13" cy="277.65" r="1.85" fill="#000" stroke="none" stroke-width="1" />
<circle cx="620.62" cy="272.97" r="1.85" fill="#000" stroke="none" stroke-width="1" />
<circle cx="624.11" cy="267.91" r="1.85" fill="#000" stroke="none" stroke-width="1" />
<circle cx="627.59" cy="262.73" r="1.85" fill="#000" stroke="none" stroke-width="1" />
<circle cx="631.08" cy="257.75" r="1.85" fill="#000" stroke="none" stroke-width="1" />
<circle cx="634.56" cy="252.94" r="1.85" fill="#000" stroke="none" stroke-width="1" />
<circle cx="638.04" cy="248.12" r="1.85" fill="#000" stroke="none" stroke-width="1" />
<circle cx="641.53" cy="243.3" r="1.85" fill="#000" stroke="none" stroke-width="1" />
<circle cx="645.01" cy="238.48" r="1.85" fill="#000" stroke="none" stroke-width="1" />
<circle cx="648.5" cy="233.66" r="1.85" fill="#000" stroke="none" stroke-width="1" />
<polyline points="572.8,196.6 490.5,196.6 490.5,337.7 572.8,337.7" fill="none" stroke="#000" stroke-width="1.6" />
<polyline points="575.8,196.6 665.7,196.6 665.7,337.7 575.8,337.7" fill="none" stroke="#000" stroke-width="1.6" />
<line x1="571.1" y1="199.6" x2="574.1" y2="193.6" stroke="#000" stroke-width="0.9" />
<line x1="574.5" y1="199.6" x2="577.5" y2="193.6" stroke="#000" stroke-width="0.9" />
<line x1="571.1" y1="340.7" x2="574.1" y2="334.7" stroke="#000" stroke-width="0.9" />
<line x1="574.5" y1="340.7" x2="577.5" y2="334.7" stroke="#000" stroke-width="0.9" />
<line x1="490.5" y1="243.63" x2="493.1" y2="243.63" stroke="#000" stroke-width="1.6" /><line x1="490.5" y1="290.66" x2="493.1" y2="290.66" stroke="#000" stroke-width="1.6" />
<line x1="509.9" y1="337.7" x2="509.9" y2="335.1" stroke="#000" stroke-width="1.6" /><line x1="551.8" y1="337.7" x2="551.8" y2="335.1" stroke="#000" stroke-width="1.6" /><line x1="578.8" y1="337.7" x2="578.8" y2="335.1" stroke="#000" stroke-width="1.6" /><line x1="613.65" y1="337.7" x2="613.65" y2="335.1" stroke="#000" stroke-width="1.6" /><line x1="648.5" y1="337.7" x2="648.5" y2="335.1" stroke="#000" stroke-width="1.6" />
<text x="488.3" y="200.5" font-size="12.8" font-weight="bold" text-anchor="end" fill="#000" >20</text>
<text x="488.3" y="247.53" font-size="12.8" font-weight="bold" text-anchor="end" fill="#000" >15</text>
<text x="488.3" y="294.56" font-size="12.8" font-weight="bold" text-anchor="end" fill="#000" >10</text>
<text x="488.3" y="341.6" font-size="12.8" font-weight="bold" text-anchor="end" fill="#000" >5</text>
<text x="515.9" y="350.7" font-size="12.8" font-weight="bold" text-anchor="middle" fill="#000" >-0.3</text>
<text x="557.7" y="350.7" font-size="12.8" font-weight="bold" text-anchor="middle" fill="#000" >-0.2</text>
<text x="583.3" y="350.7" font-size="12.8" font-weight="bold" text-anchor="middle" fill="#000" >0.3</text>
<text x="617.5" y="350.7" font-size="12.8" font-weight="bold" text-anchor="middle" fill="#000" >0.4</text>
<text x="652" y="350.7" font-size="12.8" font-weight="bold" text-anchor="middle" fill="#000" >0.5</text>
<text x="473.8" y="252.6" font-size="12.5" font-weight="bold" text-anchor="middle" fill="#000" transform="rotate(-90 473.8 252.6)" >Nonlinear factor</text>
<text x="588.8" y="366.5" font-size="12.5" font-weight="bold" text-anchor="middle" fill="#000" >Voltage(V)</text>
<text x="5.2" y="370.2" font-size="22" font-weight="bold" text-anchor="start" fill="#000" >g</text>
<defs><clipPath id="cg"><rect x="35.9" y="380.8" width="176.1" height="141"/></clipPath></defs>
<defs><linearGradient id="gd6" x1="0" y1="0" x2="1" y2="1"><stop offset="0" stop-color="#9c9b9e"/><stop offset="1" stop-color="#8a898d"/></linearGradient></defs><rect x="58.3" y="389.6" width="63.6" height="62.8" fill="url(#gd6)" stroke="none" stroke-width="1" /><polyline points="56.8,403.9 52.6,403.9 52.6,458.4 75.5,458.4 75.5,443.6" fill="none" stroke="#241a18" stroke-width="1" /><line x1="47.7" y1="413" x2="57.5" y2="413" stroke="#241a18" stroke-width="1" /><line x1="49.3" y1="415.2" x2="55.9" y2="415.2" stroke="#241a18" stroke-width="1" /><line x1="48.8" y1="419.1" x2="55.6" y2="411.7" stroke="#241a18" stroke-width="0.85" /><polygon points="56.9,410.2 54.2,411.2 56.2,413" fill="#241a18" stroke="none" stroke-width="1" /><polyline points="76,438.1 45.4,438.1 45.4,455.3" fill="none" stroke="#241a18" stroke-width="1" /><line x1="40.47" y1="455.5" x2="50.33" y2="455.5" stroke="#241a18" stroke-width="1" /><line x1="42.15" y1="457.85" x2="48.65" y2="457.85" stroke="#241a18" stroke-width="1" /><line x1="43.83" y1="459.98" x2="46.97" y2="459.98" stroke="#241a18" stroke-width="1" /><polyline points="127.9,421 127.9,437.6 109.7,437.6" fill="none" stroke="#241a18" stroke-width="1" /><rect x="70.9" y="408.7" width="3" height="16.2" fill="#e6cb42" stroke="none" stroke-width="1" /><rect x="70.3" y="419.8" width="3.9" height="5.4" fill="#e6cb42" stroke="none" stroke-width="1" /><rect x="86.2" y="401.4" width="15.3" height="3" fill="#e6cb42" stroke="none" stroke-width="1" /><rect x="86.2" y="400.9" width="7" height="4" fill="#e6cb42" stroke="none" stroke-width="1" /><rect x="80.1" y="437.3" width="14.3" height="3.4" fill="#e6cb42" stroke="none" stroke-width="1" /><rect x="88.8" y="436.9" width="5.8" height="4.2" fill="#e6cb42" stroke="none" stroke-width="1" /><rect x="107.1" y="416.7" width="3.1" height="16.1" fill="#e6cb42" stroke="none" stroke-width="1" /><rect x="106.6" y="416.4" width="4.2" height="6.4" fill="#e6cb42" stroke="none" stroke-width="1" /><rect x="73.2" y="419.2" width="34.5" height="3.4" fill="#c9cf8a" stroke="none" stroke-width="1" /><rect x="88.8" y="403.9" width="3.8" height="33.7" fill="#c9cf8a" stroke="none" stroke-width="1" /><rect x="73.7" y="419.8" width="33.5" height="2.2" fill="#a9b9c6" stroke="none" stroke-width="1" /><rect x="89.4" y="404.4" width="2.6" height="32.7" fill="#a9b9c6" stroke="none" stroke-width="1" /><rect x="67.3" y="398.3" width="10" height="10.4" fill="#e6cb42" stroke="none" stroke-width="1" /><line x1="67.6" y1="408.45" x2="77.3" y2="408.45" stroke="#c8a426" stroke-width="0.6" /><line x1="77.05" y1="398.6" x2="77.05" y2="408.7" stroke="#c8a426" stroke-width="0.6" /><rect x="101.5" y="398.1" width="10.2" height="9.9" fill="#e6cb42" stroke="none" stroke-width="1" /><line x1="101.8" y1="407.75" x2="111.7" y2="407.75" stroke="#c8a426" stroke-width="0.6" /><line x1="111.45" y1="398.4" x2="111.45" y2="408" stroke="#c8a426" stroke-width="0.6" /><rect x="69.1" y="433.8" width="11" height="10" fill="#e6cb42" stroke="none" stroke-width="1" /><line x1="69.4" y1="443.55" x2="80.1" y2="443.55" stroke="#c8a426" stroke-width="0.6" /><line x1="79.85" y1="434.1" x2="79.85" y2="443.8" stroke="#c8a426" stroke-width="0.6" /><rect x="103.6" y="432.8" width="9.5" height="10.2" fill="#e6cb42" stroke="none" stroke-width="1" /><line x1="103.9" y1="442.75" x2="113.1" y2="442.75" stroke="#c8a426" stroke-width="0.6" /><line x1="112.85" y1="433.1" x2="112.85" y2="443" stroke="#c8a426" stroke-width="0.6" /><text x="90.9" y="416.4" font-size="7"  text-anchor="middle" fill="#3a2420" stroke="#3a2420" stroke-width="0.22">Current</text><line x1="77.7" y1="420.9" x2="82.3" y2="420.9" stroke="#1c1210" stroke-width="1.1" /><polygon points="84.9,420.9 81.5,419.3 81.5,422.5" fill="#1c1210" stroke="none" stroke-width="1" /><polyline points="89.5,420.4 91.6,420.4 91.6,423.6" fill="none" stroke="#1c1210" stroke-width="1.1" /><polygon points="91.6,426.2 90,422.8 93.2,422.8" fill="#1c1210" stroke="none" stroke-width="1" /><line x1="91.6" y1="427.9" x2="91.6" y2="432.6" stroke="#1c1210" stroke-width="1.1" /><polygon points="91.6,435.2 90,431.8 93.2,431.8" fill="#1c1210" stroke="none" stroke-width="1" /><polyline points="67.2,403.9 73.8,403.9" fill="none" stroke="#241a18" stroke-width="1" /><polyline points="107.7,402.6 127.9,402.6 127.9,410.6" fill="none" stroke="#241a18" stroke-width="1" /><line x1="76" y1="438.1" x2="69.1" y2="438.1" stroke="#241a18" stroke-width="1" /><line x1="109.7" y1="437.6" x2="113.1" y2="437.6" stroke="#241a18" stroke-width="1" /><circle cx="62" cy="403.9" r="5.2" fill="none" stroke="#241a18" stroke-width="1" /><text x="62" y="406.56" font-size="7.4" font-weight="bold" text-anchor="middle" fill="#241a18" >A</text><circle cx="127.9" cy="415.8" r="5.2" fill="none" stroke="#241a18" stroke-width="1" /><text x="127.9" y="418.46" font-size="7.4" font-weight="bold" text-anchor="middle" fill="#241a18" >V</text>
<g clip-path="url(#cg)">
<polyline points="36.06,502.54 37.17,502.34 38.28,502.15 39.38,501.92 40.49,502.12 41.6,501.97 42.71,501.83 43.81,501.48 44.92,501.02 46.03,500.54 47.14,499.95 48.24,499.56 49.35,499.33 50.46,499.04 51.57,498.76 52.67,498.39 53.78,498.38 54.89,498.51 56,498.14 57.1,497.37 58.21,496.8 59.32,496.27 60.43,496.14 61.53,495.4 62.64,494.8 63.75,494.49 64.86,494.41 65.96,493.96 67.07,493.07 68.18,492.85 69.29,492.76 70.39,492.57 71.5,492.56 72.61,492.39 73.72,492.41 74.82,492.28 75.93,491.8 77.04,491.72 78.15,491.2 79.25,490.58 80.36,490.49 81.47,490.19 82.58,490.3 83.69,490.24 84.79,489.77 85.9,490.12 87.01,489.94 88.12,489.28 89.22,488.86 90.33,488.41 91.44,487.9 92.55,487.5 93.65,487.17 94.76,486.84 95.87,487.25 96.98,487.4 98.08,487.85 99.19,487.77 100.3,487.72 101.41,487.47 102.51,487.24 103.62,486.96 104.73,486.77 105.84,486.35 106.94,486.69 108.05,486.81 109.16,486.39 110.27,486.86 111.37,486.54 112.48,486.56 113.59,486.23 114.7,485.91 115.8,485.82 116.91,486 118.02,485.72 119.13,486.07 120.23,485.72 121.34,486.21 122.45,486.17 123.56,486.06 124.66,486.18 125.77,486.03 126.88,485.36 127.99,485.4 129.1,485.07 130.2,485.38 131.31,485.39 132.42,485.06 133.53,484.87 134.63,484.93 135.74,484.53 136.85,484.1 137.96,483.15 139.06,482.36 140.17,481.87 141.28,481.26 142.39,480.08 143.49,479.35 144.6,478.82 145.71,478.13 146.82,477.43 147.92,476.26 149.03,475.33 150.14,474.94 151.25,474.3 152.35,473 153.46,471.96 154.57,471.17 155.68,470.44 156.78,469.53 157.89,468.25 159,467.17 160.11,466.09 161.21,464.87 162.32,463.53 163.43,462.48 164.54,460.96 165.64,460.01 166.75,458.59 167.86,457.57 168.97,456.78 170.07,455.54 171.18,454.02 172.29,452.91 173.4,451.33 174.5,450.06 175.61,448.53 176.72,446.63 177.83,444.64 178.94,442.79 180.04,441.06 181.15,439.17 182.26,437.28 183.37,435.35 184.47,433.3 185.58,431.89 186.69,430.49 187.8,428.69 188.9,426.88 190.01,424.85 191.12,422.58 192.23,420.85 193.33,418.56 194.44,416.03 195.55,413.67 196.66,411.27 197.76,408.93 198.87,407.02 199.98,404.44 201.09,402.58 202.19,400.5 203.3,398.35 204.41,396.28 205.52,394.28 206.62,391.79 207.73,389.46 208.84,386.34 209.95,383.61 211.05,380.96 212.16,378.48" fill="none" stroke="#6c76ad" stroke-width="2.4" stroke-linejoin="round"/>
<polyline points="36.06,495.58 37.17,495.36 38.27,494.91 39.38,494.84 40.48,494.78 41.59,494.49 42.69,494.69 43.8,494.61 44.9,494.44 46.01,494.51 47.11,494.06 48.22,494 49.32,493.92 50.43,493.47 51.53,492.79 52.64,492.78 53.74,492.41 54.85,492.44 55.95,492.11 57.06,491.93 58.16,491.97 59.27,491.91 60.37,491.38 61.48,491.29 62.58,491.02 63.69,490.72 64.79,490.44 65.9,490.1 67,490.19 68.11,490.16 69.21,490.04 70.32,489.85 71.43,489.67 72.53,489.48 73.64,489.26 74.74,489.04 75.85,488.66 76.95,488.55 78.06,488.48 79.16,488.37 80.27,488.21 81.37,488.25 82.48,487.91 83.58,487.85 84.69,487.61 85.79,487.47 86.9,487.39 88,487.12 89.11,487.03 90.21,487.32 91.32,487.5 92.42,487.58 93.53,487.27 94.63,487.2 95.74,487 96.84,486.87 97.95,486.59 99.05,486.51 100.16,486.23 101.26,486.41 102.37,486.49 103.47,486.72 104.58,486.79 105.68,486.61 106.79,486.54 107.9,487.1 109,486.93 110.11,487.08 111.21,486.92 112.32,486.63 113.42,486.86 114.53,487.01 115.63,486.77 116.74,486.73 117.84,486.46 118.95,486.75 120.05,487.03 121.16,486.61 122.26,486.32 123.37,485.92 124.47,485.84 125.58,485.54 126.68,485.17 127.79,485.1 128.89,485.3 130,485.31 131.1,485.35 132.21,485.11 133.31,485.15 134.42,485.11 135.52,484.9 136.63,484.73 137.73,484.27 138.84,483.99 139.94,483.99 141.05,483.59 142.16,483.25 143.26,482.77 144.37,482.4 145.47,482.52 146.58,482.09 147.68,481.68 148.79,481.32 149.89,481.23 151,480.65 152.1,480.52 153.21,479.79 154.31,479.51 155.42,479.27 156.52,478.89 157.63,478.38 158.73,478.67 159.84,478.2 160.94,477.76 162.05,476.94 163.15,476.59 164.26,476.19 165.36,475.4 166.47,474.4 167.57,473.72 168.68,473.41 169.78,473.38 170.89,472.59 171.99,471.92 173.1,471.72 174.2,471.28 175.31,470.36 176.41,469.36 177.52,468.33 178.63,467.39 179.73,466.54 180.84,465.14 181.94,463.7 183.05,462.48 184.15,461.36 185.26,460.18 186.36,458.94 187.47,457.6 188.57,456.55 189.68,455.61 190.78,454.98 191.89,454.27 192.99,453.17 194.1,452.31 195.2,451.47 196.31,450.71 197.41,449.97 198.52,448.54 199.62,447.12 200.73,446.31 201.83,445.15 202.94,444 204.04,442.69 205.15,441.06 206.25,440.17 207.36,439.33 208.46,438.06 209.57,437.02 210.67,435.96 211.78,434.94" fill="none" stroke="#5560c4" stroke-width="2.1" stroke-linejoin="round"/>
<polyline points="36.06,491.73 37.17,491.69 38.27,491.57 39.38,491.44 40.48,491.68 41.59,491.39 42.69,491.19 43.8,491.16 44.9,490.96 46.01,490.77 47.11,490.66 48.22,490.36 49.32,490.49 50.43,490.36 51.53,490.14 52.64,489.96 53.74,490.05 54.85,489.72 55.95,489.55 57.06,489.32 58.16,489.05 59.27,488.95 60.37,489.03 61.48,488.8 62.58,489.12 63.69,488.94 64.79,488.86 65.9,489.07 67,488.88 68.11,488.84 69.21,488.68 70.32,488.6 71.43,488.72 72.53,488.75 73.64,488.47 74.74,488.35 75.85,488.16 76.95,488.09 78.06,487.85 79.16,487.67 80.27,487.59 81.37,487.89 82.48,488.23 83.58,488.12 84.69,487.94 85.79,487.85 86.9,487.94 88,487.63 89.11,487.39 90.21,487.16 91.32,487.14 92.42,487.36 93.53,487.4 94.63,487.46 95.74,487.58 96.84,487.59 97.95,487.44 99.05,487.48 100.16,487.63 101.26,487.58 102.37,487.21 103.47,487.27 104.58,487.32 105.68,487.54 106.79,487.57 107.9,487.36 109,487.44 110.11,487.41 111.21,487.36 112.32,487.21 113.42,486.88 114.53,486.56 115.63,486.49 116.74,486.28 117.84,486.3 118.95,486.23 120.05,486.36 121.16,486.37 122.26,486.36 123.37,486.21 124.47,486.25 125.58,486.25 126.68,486.19 127.79,485.92 128.89,485.73 130,485.55 131.1,485.39 132.21,485.1 133.31,484.87 134.42,484.67 135.52,484.5 136.63,484.56 137.73,484.58 138.84,484.26 139.94,484.07 141.05,484.01 142.16,483.9 143.26,483.82 144.37,483.54 145.47,483.33 146.58,483.55 147.68,483.42 148.79,483.27 149.89,482.89 151,482.6 152.1,482.27 153.21,482.16 154.31,481.84 155.42,481.65 156.52,481.27 157.63,481.14 158.73,481.06 159.84,480.99 160.94,480.7 162.05,480.47 163.15,480.31 164.26,479.98 165.36,479.82 166.47,479.51 167.57,479.18 168.68,478.88 169.78,478.53 170.89,478.05 171.99,477.84 173.1,477.4 174.2,476.84 175.31,476.5 176.41,476.19 177.52,475.83 178.63,475.57 179.73,475.19 180.84,474.93 181.94,474.82 183.05,474.43 184.15,474.1 185.26,473.87 186.36,473.38 187.47,473.08 188.57,472.54 189.68,472.02 190.78,471.78 191.89,471.4 192.99,470.88 194.1,470.57 195.2,470.2 196.31,469.89 197.41,469.59 198.52,469.05 199.62,468.67 200.73,468.18 201.83,467.6 202.94,466.87 204.04,466.1 205.15,465.53 206.25,464.85 207.36,463.92 208.46,463.17 209.57,462.63 210.67,462.14 211.78,461.73" fill="none" stroke="#5a6fe6" stroke-width="2.1" stroke-linejoin="round"/>
<polyline points="36.06,487.65 37.17,487.65 38.27,487.65 39.38,487.68 40.48,487.68 41.59,487.67 42.69,487.64 43.8,487.6 44.9,487.53 46.01,487.49 47.11,487.41 48.22,487.32 49.32,487.29 50.43,487.21 51.53,487.24 52.64,487.28 53.74,487.24 54.85,487.23 55.95,487.27 57.06,487.24 58.16,487.26 59.27,487.2 60.37,487.19 61.48,487.21 62.58,487.21 63.69,487.21 64.79,487.29 65.9,487.29 67,487.21 68.11,487.27 69.21,487.29 70.32,487.29 71.43,487.25 72.53,487.14 73.64,487.09 74.74,487.11 75.85,486.98 76.95,486.96 78.06,486.94 79.16,486.95 80.27,486.95 81.37,486.98 82.48,487.03 83.58,487 84.69,486.97 85.79,486.98 86.9,486.92 88,486.96 89.11,486.95 90.21,486.93 91.32,487.03 92.42,487.09 93.53,487.06 94.63,487.09 95.74,487.06 96.84,487.01 97.95,487 99.05,486.88 100.16,486.84 101.26,486.91 102.37,486.88 103.47,486.83 104.58,486.79 105.68,486.77 106.79,486.82 107.9,486.76 109,486.59 110.11,486.62 111.21,486.61 112.32,486.65 113.42,486.65 114.53,486.63 115.63,486.61 116.74,486.7 117.84,486.63 118.95,486.61 120.05,486.57 121.16,486.54 122.26,486.53 123.37,486.52 124.47,486.46 125.58,486.44 126.68,486.41 127.79,486.41 128.89,486.43 130,486.39 131.1,486.4 132.21,486.4 133.31,486.39 134.42,486.39 135.52,486.4 136.63,486.34 137.73,486.41 138.84,486.34 139.94,486.34 141.05,486.34 142.16,486.32 143.26,486.3 144.37,486.28 145.47,486.2 146.58,486.23 147.68,486.25 148.79,486.27 149.89,486.26 151,486.23 152.1,486.21 153.21,486.2 154.31,486.15 155.42,486.07 156.52,486 157.63,485.97 158.73,485.96 159.84,485.97 160.94,485.92 162.05,485.95 163.15,486.02 164.26,485.97 165.36,485.97 166.47,485.89 167.57,485.86 168.68,485.8 169.78,485.72 170.89,485.59 171.99,485.58 173.1,485.43 174.2,485.43 175.31,485.27 176.41,485.23 177.52,485.19 178.63,485.15 179.73,485 180.84,485.01 181.94,484.93 183.05,484.86 184.15,484.73 185.26,484.62 186.36,484.5 187.47,484.38 188.57,484.26 189.68,484.12 190.78,484.02 191.89,483.96 192.99,483.79 194.1,483.66 195.2,483.57 196.31,483.43 197.41,483.3 198.52,483.15 199.62,482.92 200.73,482.79 201.83,482.6 202.94,482.39 204.04,482.15 205.15,481.95 206.25,481.73 207.36,481.59 208.46,481.35 209.57,481.16 210.67,481.01 211.78,480.86" fill="none" stroke="#3c2c5c" stroke-width="1.8" stroke-linejoin="round"/>
<polyline points="36.06,487.16 37.17,487.16 38.27,487.16 39.38,487.17 40.48,487.2 41.59,487.18 42.69,487.19 43.8,487.12 44.9,487.13 46.01,487.09 47.11,487.05 48.22,487.09 49.32,487.13 50.43,487.07 51.53,486.99 52.64,486.97 53.74,487 54.85,486.98 55.95,486.94 57.06,486.87 58.16,486.84 59.27,486.86 60.37,486.85 61.48,486.8 62.58,486.84 63.69,486.83 64.79,486.86 65.9,486.91 67,486.94 68.11,486.94 69.21,486.96 70.32,486.93 71.43,486.92 72.53,486.88 73.64,486.83 74.74,486.85 75.85,486.8 76.95,486.78 78.06,486.82 79.16,486.82 80.27,486.81 81.37,486.82 82.48,486.79 83.58,486.82 84.69,486.8 85.79,486.81 86.9,486.83 88,486.81 89.11,486.81 90.21,486.74 91.32,486.72 92.42,486.71 93.53,486.64 94.63,486.56 95.74,486.6 96.84,486.62 97.95,486.63 99.05,486.69 100.16,486.65 101.26,486.67 102.37,486.71 103.47,486.61 104.58,486.62 105.68,486.64 106.79,486.54 107.9,486.61 109,486.59 110.11,486.57 111.21,486.61 112.32,486.56 113.42,486.53 114.53,486.53 115.63,486.46 116.74,486.42 117.84,486.45 118.95,486.48 120.05,486.55 121.16,486.53 122.26,486.62 123.37,486.62 124.47,486.58 125.58,486.59 126.68,486.58 127.79,486.53 128.89,486.53 130,486.49 131.1,486.52 132.21,486.59 133.31,486.56 134.42,486.5 135.52,486.51 136.63,486.53 137.73,486.49 138.84,486.45 139.94,486.47 141.05,486.43 142.16,486.45 143.26,486.39 144.37,486.39 145.47,486.44 146.58,486.48 147.68,486.42 148.79,486.44 149.89,486.45 151,486.42 152.1,486.35 153.21,486.3 154.31,486.21 155.42,486.29 156.52,486.35 157.63,486.32 158.73,486.37 159.84,486.41 160.94,486.39 162.05,486.44 163.15,486.35 164.26,486.28 165.36,486.34 166.47,486.32 167.57,486.32 168.68,486.26 169.78,486.27 170.89,486.27 171.99,486.27 173.1,486.2 174.2,486.12 175.31,486.09 176.41,486.12 177.52,486.05 178.63,485.98 179.73,485.96 180.84,485.92 181.94,485.88 183.05,485.82 184.15,485.75 185.26,485.72 186.36,485.69 187.47,485.66 188.57,485.56 189.68,485.54 190.78,485.5 191.89,485.48 192.99,485.42 194.1,485.33 195.2,485.21 196.31,485.19 197.41,485.11 198.52,485 199.62,484.88 200.73,484.75 201.83,484.67 202.94,484.58 204.04,484.4 205.15,484.26 206.25,484.13 207.36,484 208.46,483.87 209.57,483.7 210.67,483.53 211.78,483.42" fill="none" stroke="#3a4a3c" stroke-width="1.8" stroke-linejoin="round"/>
<polyline points="36.06,486.55 211.78,486.55" fill="none" stroke="#000" stroke-width="2.6" stroke-linejoin="round"/>
</g>
<rect x="35.9" y="380.8" width="176.1" height="141" fill="none" stroke="#000" stroke-width="1.6" />
<line x1="35.9" y1="416.05" x2="38.5" y2="416.05" stroke="#000" stroke-width="1.6" /><line x1="35.9" y1="451.3" x2="38.5" y2="451.3" stroke="#000" stroke-width="1.6" /><line x1="35.9" y1="486.55" x2="38.5" y2="486.55" stroke="#000" stroke-width="1.6" />
<line x1="43.7" y1="521.8" x2="43.7" y2="519.2" stroke="#000" stroke-width="1.6" /><line x1="120.1" y1="521.8" x2="120.1" y2="519.2" stroke="#000" stroke-width="1.6" /><line x1="196.5" y1="521.8" x2="196.5" y2="519.2" stroke="#000" stroke-width="1.6" />
<text x="33.5" y="384.7" font-size="12.8" font-weight="bold" text-anchor="end" fill="#000" >150</text>
<text x="33.5" y="419.95" font-size="12.8" font-weight="bold" text-anchor="end" fill="#000" >100</text>
<text x="33.5" y="455.2" font-size="12.8" font-weight="bold" text-anchor="end" fill="#000" >50</text>
<text x="33.5" y="490.45" font-size="12.8" font-weight="bold" text-anchor="end" fill="#000" >0</text>
<text x="33.5" y="525.7" font-size="12.8" font-weight="bold" text-anchor="end" fill="#000" >-50</text>
<text x="45" y="534.8" font-size="12.8" font-weight="bold" text-anchor="middle" fill="#000" >-1</text>
<text x="121.4" y="534.8" font-size="12.8" font-weight="bold" text-anchor="middle" fill="#000" >0</text>
<text x="197.8" y="534.8" font-size="12.8" font-weight="bold" text-anchor="middle" fill="#000" >1</text>
<text x="10.9" y="441.5" font-size="12.5" font-weight="bold" text-anchor="middle" fill="#000" transform="rotate(-90 10.9 441.5)" >Current(nA)</text>
<text x="128.4" y="546.2" font-size="12.8" font-weight="bold" text-anchor="middle" fill="#000" >Voltage(V)</text>
<line x1="136.6" y1="389.6" x2="153.6" y2="389.6" stroke="#6a72a8" stroke-width="2.3" stroke-linecap="round"/>
<text x="157.6" y="392.9" font-size="8.9" font-weight="bold" text-anchor="start" fill="#000" >400K</text>
<line x1="136.6" y1="399.9" x2="153.6" y2="399.9" stroke="#5a62b8" stroke-width="2.3" stroke-linecap="round"/>
<text x="157.6" y="403.2" font-size="8.9" font-weight="bold" text-anchor="start" fill="#000" >350K</text>
<line x1="136.6" y1="410.4" x2="153.6" y2="410.4" stroke="#6070e8" stroke-width="2.3" stroke-linecap="round"/>
<text x="157.6" y="413.7" font-size="8.9" font-weight="bold" text-anchor="start" fill="#000" >300K</text>
<line x1="136.6" y1="420.9" x2="153.6" y2="420.9" stroke="#3c2c5c" stroke-width="2.3" stroke-linecap="round"/>
<text x="157.6" y="424.2" font-size="8.9" font-weight="bold" text-anchor="start" fill="#000" >250K</text>
<line x1="136.6" y1="431.5" x2="153.6" y2="431.5" stroke="#3a4a3c" stroke-width="2.3" stroke-linecap="round"/>
<text x="157.6" y="434.8" font-size="8.9" font-weight="bold" text-anchor="start" fill="#000" >200K</text>
<line x1="136.6" y1="442" x2="153.6" y2="442" stroke="#000" stroke-width="2.3" stroke-linecap="round"/>
<text x="157.6" y="445.3" font-size="8.9" font-weight="bold" text-anchor="start" fill="#000" >150K</text>
<text x="228.2" y="375.6" font-size="22" font-weight="bold" text-anchor="start" fill="#000" >h</text>
<defs><clipPath id="ch"><rect x="264.3" y="381.1" width="175.8" height="141.2"/></clipPath></defs>
<g clip-path="url(#ch)">
<polyline points="264.3,511.93 265.1,510.12 265.91,508.93 266.71,507.16 267.51,505.85 268.31,504.18 269.12,502.77 269.92,501.27 270.72,499.61 271.52,498.46 272.33,497.59 273.13,496.37 273.93,494.78 274.74,493.2 275.54,491.8 276.34,490.68 277.14,489.49 277.95,488.2 278.75,486.95 279.55,485.39 280.35,484.23 281.16,483.01 281.96,481.74 282.76,480.46 283.57,479.15 284.37,477.97 285.17,476.62 285.97,475.25 286.78,474.14 287.58,473.12 288.38,472.53 289.18,471.09 289.99,470.07 290.79,468.73 291.59,468.25 292.4,467.28 293.2,466.08 294,464.87 294.8,463.9 295.61,463.02 296.41,462.2 297.21,460.93 298.02,460.35 298.82,459.6 299.62,459.01 300.42,458.04 301.23,457.06 302.03,456.24 302.83,455.43 303.63,454.86 304.44,454.24 305.24,453.48 306.04,452.65 306.85,452.1 307.65,451.68 308.45,450.94 309.25,450.28 310.06,449.44 310.86,448.58 311.66,447.76 312.46,447.04 313.27,446.67 314.07,446.15 314.87,445.27 315.68,444.72 316.48,444.04 317.28,443.64 318.08,443.26 318.89,443.03 319.69,442.73 320.49,442.37 321.29,441.81 322.1,441.54 322.9,440.89 323.7,440.84 324.51,440.1 325.31,439.94 326.11,439.5 326.91,439.32 327.72,439.03 328.52,438.66 329.32,438.85 330.12,438.84 330.93,438.57 331.73,438.02 332.53,437.83 333.34,437.88 334.14,437.82 334.94,437.47 335.74,437.15 336.55,437.1 337.35,436.88 338.15,436.82 338.95,436.27 339.76,436.18 340.56,435.81 341.36,435.83 342.17,435.64 342.97,435.02 343.77,435.02 344.57,434.69 345.38,434.65 346.18,434.33 346.98,434.01 347.78,434.34 348.59,434.33 349.39,434.21 350.19,433.48 351,432.87 351.8,432.51 352.6,432.29 353.4,431.99 354.21,431.7 355.01,431.49 355.81,431.28 356.62,431 357.42,430.63 358.22,430.82 359.02,430.43 359.83,430.13 360.63,429.52 361.43,429.4 362.23,429.32 363.04,429.06 363.84,428.97 364.64,428.68 365.45,428.07 366.25,427.69 367.05,426.96 367.85,426.73 368.66,426.13 369.46,425.88 370.26,425.62 371.06,425.32 371.87,425.28 372.67,424.63 373.47,424.45 374.28,424.05 375.08,423.98 375.88,423.33 376.68,422.91 377.49,422.36 378.29,421.97 379.09,422.2 379.89,422.29 380.7,422.57 381.5,421.72 382.3,421.37 383.11,420.9 383.91,420.74 384.71,420.32 385.51,419.85 386.32,419.11 387.12,418.85 387.92,418.58 388.72,418.69 389.53,418.18 390.33,418 391.13,417.38 391.94,416.85 392.74,416.35 393.54,415.96 394.34,415.59 395.15,415.1 395.95,414.92 396.75,414.8 397.55,414.52 398.36,414.69 399.16,414.46 399.96,414.3 400.77,413.08 401.57,412.71 402.37,412.29 403.17,412.23 403.98,411.75 404.78,411.4 405.58,411.11 406.38,410.85 407.19,410.67 407.99,410.61 408.79,410.44 409.6,409.88 410.4,409.45 411.2,409.21 412,409.06 412.81,408.45 413.61,407.95 414.41,407.59 415.22,407.59 416.02,407.46 416.82,407.2 417.62,406.62 418.43,406.05 419.23,405.44 420.03,405.56 420.83,405.38 421.64,405.33 422.44,404.9 423.24,404.51 424.05,403.95 424.85,403.42 425.65,403.14 426.45,403.22 427.26,403.11 428.06,402.66 428.86,402.22 429.66,401.89 430.47,401.58 431.27,401.14 432.07,400.44 432.88,400.33 433.68,399.97 434.48,399.72 435.28,399.24 436.09,398.99 436.89,398.78 437.69,398.59 438.49,398.31 439.3,397.93 440.1,397.56" fill="none" stroke="#6a73a8" stroke-width="2.3" stroke-linejoin="round"/>
<polyline points="264.3,484.06 265.1,483.37 265.91,482.84 266.71,482.15 267.51,481.5 268.31,480.77 269.12,480.28 269.92,479.89 270.72,479.25 271.52,478.68 272.33,478.06 273.13,477.65 273.93,477.05 274.74,476.37 275.54,475.8 276.34,475.15 277.14,474.86 277.95,474.35 278.75,473.87 279.55,473.08 280.35,472.48 281.16,471.96 281.96,471.41 282.76,471.1 283.57,470.6 284.37,470.37 285.17,469.53 285.97,469.15 286.78,468.34 287.58,467.89 288.38,467.29 289.18,466.94 289.99,466.29 290.79,465.65 291.59,465.25 292.4,465.23 293.2,464.96 294,464.39 294.8,463.8 295.61,463.15 296.41,462.78 297.21,462.13 298.02,461.82 298.82,461.34 299.62,461.16 300.42,460.73 301.23,460.48 302.03,460 302.83,459.74 303.63,459.34 304.44,458.81 305.24,458.38 306.04,457.96 306.85,457.73 307.65,457.41 308.45,456.93 309.25,456.75 310.06,456.47 310.86,456.34 311.66,456.23 312.46,455.91 313.27,455.6 314.07,454.99 314.87,454.69 315.68,454.31 316.48,454.22 317.28,453.84 318.08,453.66 318.89,453.44 319.69,453.33 320.49,453.05 321.29,452.69 322.1,452.28 322.9,452.06 323.7,451.64 324.51,451.28 325.31,450.98 326.11,450.82 326.91,450.63 327.72,450.24 328.52,449.85 329.32,449.42 330.12,449.24 330.93,448.96 331.73,449.18 332.53,448.97 333.34,448.71 334.14,448.39 334.94,448.23 335.74,448.19 336.55,447.93 337.35,447.79 338.15,447.56 338.95,447.47 339.76,447.33 340.56,447.16 341.36,446.89 342.17,446.6 342.97,446.53 343.77,446.48 344.57,446.5 345.38,446.39 346.18,446.17 346.98,446.13 347.78,445.91 348.59,445.79 349.39,445.46 350.19,445.34 351,445.17 351.8,445.27 352.6,445.16 353.4,444.87 354.21,444.48 355.01,444.15 355.81,444.26 356.62,444.29 357.42,444.24 358.22,444.07 359.02,443.77 359.83,443.71 360.63,443.68 361.43,443.52 362.23,443.22 363.04,442.98 363.84,442.93 364.64,442.99 365.45,442.88 366.25,442.63 367.05,442.24 367.85,442.12 368.66,442.02 369.46,441.98 370.26,441.64 371.06,441.68 371.87,441.7 372.67,441.74 373.47,441.6 374.28,441.4 375.08,441.15 375.88,440.88 376.68,440.73 377.49,440.71 378.29,440.6 379.09,440.61 379.89,440.49 380.7,440.47 381.5,440.43 382.3,440.53 383.11,440.59 383.91,440.44 384.71,440.23 385.51,439.93 386.32,439.92 387.12,439.96 387.92,439.86 388.72,439.75 389.53,439.47 390.33,439.42 391.13,439.28 391.94,439.18 392.74,439.2 393.54,438.95 394.34,438.83 395.15,438.65 395.95,438.61 396.75,438.63 397.55,438.41 398.36,438.44 399.16,438.18 399.96,438.23 400.77,438.2 401.57,438.49 402.37,438.53 403.17,438.56 403.98,438.27 404.78,438.3 405.58,438.03 406.38,437.92 407.19,437.51 407.99,437.48 408.79,437.53 409.6,437.52 410.4,437.38 411.2,437.15 412,437.11 412.81,437.01 413.61,436.85 414.41,436.95 415.22,436.74 416.02,436.71 416.82,436.54 417.62,436.76 418.43,436.76 419.23,436.63 420.03,436.46 420.83,436.38 421.64,436.43 422.44,436.3 423.24,436.16 424.05,435.95 424.85,435.94 425.65,436.09 426.45,436.22 427.26,436.1 428.06,435.75 428.86,435.38 429.66,435.55 430.47,435.58 431.27,435.69 432.07,435.59 432.88,435.48 433.68,435.34 434.48,435.01 435.28,434.89 436.09,434.91 436.89,434.99 437.69,434.84 438.49,434.78 439.3,434.57 440.1,434.67" fill="none" stroke="#5b6be0" stroke-width="2.3" stroke-linejoin="round"/>
<polyline points="264.3,454.82 265.1,454.79 265.91,454.73 266.71,454.57 267.51,454.56 268.31,454.61 269.12,454.61 269.92,454.61 270.72,454.51 271.52,454.64 272.33,454.56 273.13,454.53 273.93,454.44 274.74,454.38 275.54,454.36 276.34,454.28 277.14,454.24 277.95,454.22 278.75,454.21 279.55,454.2 280.35,454.21 281.16,454.08 281.96,454.02 282.76,453.94 283.57,453.91 284.37,453.95 285.17,453.91 285.97,453.92 286.78,453.84 287.58,453.75 288.38,453.66 289.18,453.64 289.99,453.66 290.79,453.69 291.59,453.62 292.4,453.46 293.2,453.38 294,453.33 294.8,453.38 295.61,453.44 296.41,453.4 297.21,453.32 298.02,453.27 298.82,453.24 299.62,453.18 300.42,453.16 301.23,453.09 302.03,453.09 302.83,452.96 303.63,452.97 304.44,453 305.24,452.99 306.04,452.96 306.85,452.86 307.65,452.93 308.45,452.94 309.25,452.9 310.06,452.79 310.86,452.73 311.66,452.73 312.46,452.65 313.27,452.57 314.07,452.54 314.87,452.55 315.68,452.49 316.48,452.44 317.28,452.35 318.08,452.26 318.89,452.22 319.69,452.26 320.49,452.33 321.29,452.34 322.1,452.34 322.9,452.3 323.7,452.18 324.51,452.08 325.31,451.97 326.11,451.96 326.91,451.92 327.72,451.95 328.52,451.97 329.32,451.85 330.12,451.84 330.93,451.74 331.73,451.82 332.53,451.77 333.34,451.72 334.14,451.69 334.94,451.62 335.74,451.65 336.55,451.56 337.35,451.53 338.15,451.49 338.95,451.55 339.76,451.57 340.56,451.53 341.36,451.49 342.17,451.43 342.97,451.39 343.77,451.26 344.57,451.23 345.38,451.22 346.18,451.2 346.98,451.09 347.78,451.05 348.59,451.05 349.39,451.08 350.19,451.02 351,450.94 351.8,450.91 352.6,450.97 353.4,451 354.21,450.92 355.01,450.87 355.81,450.81 356.62,450.95 357.42,450.88 358.22,450.87 359.02,450.76 359.83,450.76 360.63,450.73 361.43,450.7 362.23,450.66 363.04,450.61 363.84,450.56 364.64,450.5 365.45,450.48 366.25,450.44 367.05,450.44 367.85,450.42 368.66,450.42 369.46,450.43 370.26,450.41 371.06,450.4 371.87,450.36 372.67,450.34 373.47,450.31 374.28,450.29 375.08,450.21 375.88,450.21 376.68,450.16 377.49,450.06 378.29,450.03 379.09,449.97 379.89,450.13 380.7,450.05 381.5,450.07 382.3,450.04 383.11,450.02 383.91,449.97 384.71,449.91 385.51,449.98 386.32,450.04 387.12,450.08 387.92,450.02 388.72,449.97 389.53,449.93 390.33,449.92 391.13,449.85 391.94,449.81 392.74,449.75 393.54,449.73 394.34,449.68 395.15,449.67 395.95,449.72 396.75,449.7 397.55,449.67 398.36,449.61 399.16,449.55 399.96,449.54 400.77,449.57 401.57,449.59 402.37,449.56 403.17,449.48 403.98,449.42 404.78,449.4 405.58,449.33 406.38,449.36 407.19,449.34 407.99,449.4 408.79,449.4 409.6,449.4 410.4,449.31 411.2,449.2 412,449.2 412.81,449.25 413.61,449.23 414.41,449.13 415.22,449.12 416.02,449.16 416.82,449.26 417.62,449.21 418.43,449.23 419.23,449.12 420.03,449.06 420.83,448.94 421.64,448.82 422.44,448.86 423.24,448.93 424.05,448.99 424.85,448.97 425.65,448.86 426.45,448.92 427.26,448.88 428.06,448.98 428.86,448.83 429.66,448.84 430.47,448.79 431.27,448.85 432.07,448.74 432.88,448.69 433.68,448.67 434.48,448.66 435.28,448.57 436.09,448.49 436.89,448.47 437.69,448.55 438.49,448.62 439.3,448.68 440.1,448.62" fill="none" stroke="#23264f" stroke-width="2" stroke-linejoin="round"/>
<polyline points="264.3,452.9 265.1,452.89 265.91,452.87 266.71,452.86 267.51,452.84 268.31,452.83 269.12,452.81 269.92,452.8 270.72,452.78 271.52,452.77 272.33,452.75 273.13,452.74 273.93,452.73 274.74,452.71 275.54,452.7 276.34,452.68 277.14,452.66 277.95,452.65 278.75,452.63 279.55,452.62 280.35,452.6 281.16,452.59 281.96,452.57 282.76,452.56 283.57,452.54 284.37,452.53 285.17,452.51 285.97,452.5 286.78,452.48 287.58,452.47 288.38,452.45 289.18,452.43 289.99,452.42 290.79,452.4 291.59,452.39 292.4,452.37 293.2,452.36 294,452.34 294.8,452.33 295.61,452.31 296.41,452.29 297.21,452.28 298.02,452.26 298.82,452.25 299.62,452.23 300.42,452.22 301.23,452.2 302.03,452.18 302.83,452.17 303.63,452.15 304.44,452.14 305.24,452.12 306.04,452.11 306.85,452.09 307.65,452.08 308.45,452.06 309.25,452.05 310.06,452.03 310.86,452.02 311.66,452 312.46,451.99 313.27,451.97 314.07,451.96 314.87,451.94 315.68,451.93 316.48,451.91 317.28,451.9 318.08,451.88 318.89,451.87 319.69,451.85 320.49,451.84 321.29,451.82 322.1,451.81 322.9,451.79 323.7,451.78 324.51,451.77 325.31,451.75 326.11,451.74 326.91,451.72 327.72,451.71 328.52,451.7 329.32,451.68 330.12,451.67 330.93,451.65 331.73,451.64 332.53,451.63 333.34,451.61 334.14,451.6 334.94,451.59 335.74,451.57 336.55,451.56 337.35,451.55 338.15,451.54 338.95,451.52 339.76,451.51 340.56,451.5 341.36,451.49 342.17,451.48 342.97,451.46 343.77,451.45 344.57,451.44 345.38,451.43 346.18,451.42 346.98,451.41 347.78,451.39 348.59,451.38 349.39,451.37 350.19,451.36 351,451.35 351.8,451.34 352.6,451.33 353.4,451.32 354.21,451.31 355.01,451.3 355.81,451.29 356.62,451.28 357.42,451.27 358.22,451.26 359.02,451.25 359.83,451.24 360.63,451.23 361.43,451.22 362.23,451.21 363.04,451.21 363.84,451.2 364.64,451.19 365.45,451.18 366.25,451.17 367.05,451.16 367.85,451.15 368.66,451.14 369.46,451.14 370.26,451.13 371.06,451.12 371.87,451.11 372.67,451.1 373.47,451.09 374.28,451.09 375.08,451.08 375.88,451.07 376.68,451.06 377.49,451.05 378.29,451.05 379.09,451.04 379.89,451.03 380.7,451.02 381.5,451.02 382.3,451.01 383.11,451 383.91,450.99 384.71,450.99 385.51,450.98 386.32,450.97 387.12,450.96 387.92,450.96 388.72,450.95 389.53,450.94 390.33,450.93 391.13,450.93 391.94,450.92 392.74,450.91 393.54,450.91 394.34,450.9 395.15,450.89 395.95,450.88 396.75,450.88 397.55,450.87 398.36,450.86 399.16,450.86 399.96,450.85 400.77,450.84 401.57,450.84 402.37,450.83 403.17,450.82 403.98,450.81 404.78,450.81 405.58,450.8 406.38,450.79 407.19,450.79 407.99,450.78 408.79,450.77 409.6,450.77 410.4,450.76 411.2,450.75 412,450.75 412.81,450.74 413.61,450.73 414.41,450.73 415.22,450.72 416.02,450.71 416.82,450.71 417.62,450.7 418.43,450.69 419.23,450.69 420.03,450.68 420.83,450.67 421.64,450.66 422.44,450.66 423.24,450.65 424.05,450.64 424.85,450.64 425.65,450.63 426.45,450.62 427.26,450.62 428.06,450.61 428.86,450.6 429.66,450.59 430.47,450.59 431.27,450.58 432.07,450.57 432.88,450.57 433.68,450.56 434.48,450.55 435.28,450.54 436.09,450.54 436.89,450.53 437.69,450.52 438.49,450.52 439.3,450.51 440.1,450.5" fill="none" stroke="#000" stroke-width="2.6" stroke-linejoin="round"/>
</g>
<defs><linearGradient id="lh" x1="0" y1="0" x2="0" y2="1"><stop offset="0" stop-color="#f99c9c"/><stop offset="0.5" stop-color="#fbc0c0"/><stop offset="1" stop-color="#f99c9c"/></linearGradient><linearGradient id="lv" x1="0" y1="0" x2="1" y2="0"><stop offset="0" stop-color="#fbbcbc"/><stop offset="0.5" stop-color="#fde4e4"/><stop offset="1" stop-color="#fbbcbc"/></linearGradient><linearGradient id="lv2" x1="0" y1="0" x2="0" y2="1"><stop offset="0" stop-color="#f9b0b0"/><stop offset="0.75" stop-color="#f77"/><stop offset="1" stop-color="#f44"/></linearGradient><linearGradient id="obj" x1="0" y1="0" x2="1" y2="0"><stop offset="0" stop-color="#6a3a36"/><stop offset="0.3" stop-color="#d8b8b0"/><stop offset="0.55" stop-color="#a04a44"/><stop offset="1" stop-color="#4a2a28"/></linearGradient><linearGradient id="ntg" x1="0" y1="0" x2="0" y2="1"><stop offset="0" stop-color="#d9d7cf"/><stop offset="0.5" stop-color="#a8a6a2"/><stop offset="1" stop-color="#8a8888"/></linearGradient><linearGradient id="plh" x1="0" y1="0" x2="0" y2="1"><stop offset="0" stop-color="#807e88"/><stop offset="1" stop-color="#5c5a64"/></linearGradient></defs><polygon points="273.8,428.2 346.8,428.2 346.8,432.6 273.8,432.6" fill="#4a423c" stroke="none" stroke-width="1" /><polygon points="289.1,414.3 328.9,414.3 346.8,428.2 273.8,428.2" fill="url(#plh)" stroke="none" stroke-width="1" /><rect x="293.9" y="414.8" width="31.7" height="4.2" fill="url(#ntg)" stroke="none" stroke-width="1" /><rect x="293.9" y="420.6" width="31.7" height="1.6" fill="#75737c" stroke="none" stroke-width="1" /><polygon points="289.8,413.9 293.9,413.9 293.9,421.6 289.8,421.6" fill="#d8b832" stroke="none" stroke-width="1" /><rect x="290.4" y="422.2" width="3" height="2.6" fill="#8f8450" stroke="none" stroke-width="1" /><polygon points="325.6,413.6 329.2,413.6 329.4,420.9 325.6,420.9" fill="#d8b832" stroke="none" stroke-width="1" /><polygon points="324.1,423.1 327,420.5 330,419.4 340.9,426 340.9,428.9 326.3,429.6 324.1,425.3" fill="#d8b832" stroke="none" stroke-width="1" /><polygon points="326.3,429.6 340.9,428.9 340.9,430.4 326.3,431" fill="#a08418" stroke="none" stroke-width="1" /><rect x="266.2" y="383.6" width="43.5" height="3.7" fill="url(#lh)" stroke="none" stroke-width="1" /><rect x="288.4" y="382.2" width="2.1" height="8" fill="#f9a8a8" stroke="none" stroke-width="1" /><rect x="308" y="385.5" width="3.7" height="11.7" fill="url(#lv)" stroke="none" stroke-width="1" /><line x1="306.2" y1="381.8" x2="312.4" y2="388.8" stroke="#111" stroke-width="1.1" /><rect x="306.3" y="397.2" width="6.9" height="6.4" fill="url(#obj)" stroke="none" stroke-width="1" /><rect x="306.7" y="403.6" width="6.1" height="3.8" fill="#2c2a2c" stroke="none" stroke-width="1" /><rect x="306.7" y="405.5" width="6.1" height="0.9" fill="#2aa0c0" stroke="none" stroke-width="1" /><polygon points="307.4,407.4 312.2,407.4 310.1,414.3 309.5,414.3" fill="#f9a0a0" stroke="none" stroke-width="1" /><polygon points="309.4,414.3 310.2,414.3 310.6,429.6 309,429.6" fill="url(#lv2)" stroke="none" stroke-width="1" /><polyline points="293.9,401.9 298.9,401.9 298.9,413.9" fill="none" stroke="#2a2422" stroke-width="1" /><polyline points="283.7,401.9 280.8,401.9 280.8,405.3" fill="none" stroke="#2a2422" stroke-width="1" /><path d="M276.5 405.1 L283.4 405.1 C283 407.4 281.4 408.6 280 408.6 C278.4 408.6 276.9 407.4 276.5 405.1 Z" fill="#2a2626" stroke="none" stroke-width="0" /><circle cx="288.8" cy="401.9" r="5" fill="#fff" stroke="#2a2422" stroke-width="1" /><text x="288.8" y="404.5" font-size="7.2" font-weight="bold" text-anchor="middle" fill="#2a2422" >A</text><polyline points="333.6,424.2 333.6,396.4 358.4,396.4 358.4,403.9" fill="none" stroke="#2a2422" stroke-width="1" /><line x1="343.6" y1="392.2" x2="343.6" y2="400.6" stroke="#2a2422" stroke-width="1" /><line x1="345.2" y1="394.4" x2="345.2" y2="398.4" stroke="#2a2422" stroke-width="1.3" /><line x1="340.8" y1="400.6" x2="348.2" y2="393" stroke="#2a2422" stroke-width="0.9" /><polygon points="349.4,391.8 346.6,392.8 348.4,394.6" fill="#2a2422" stroke="none" stroke-width="1" /><polyline points="358.4,414.5 358.4,427.2" fill="none" stroke="#2a2422" stroke-width="1" /><path d="M354.8 427 L362.1 427 C361.6 428.8 360 429.7 358.4 429.7 C356.8 429.7 355.2 428.8 354.8 427 Z" fill="#2a2626" stroke="none" stroke-width="0" /><circle cx="358.4" cy="409.2" r="5.3" fill="#fff" stroke="#2a2422" stroke-width="1" /><text x="358.4" y="411.9" font-size="7.4" font-weight="bold" text-anchor="middle" fill="#2a2422" >A</text>
<rect x="264.3" y="381.1" width="175.8" height="141.2" fill="none" stroke="#000" stroke-width="1.6" />
<line x1="264.3" y1="416.44" x2="266.9" y2="416.44" stroke="#000" stroke-width="1.6" /><line x1="264.3" y1="451.7" x2="266.9" y2="451.7" stroke="#000" stroke-width="1.6" /><line x1="264.3" y1="486.96" x2="266.9" y2="486.96" stroke="#000" stroke-width="1.6" />
<line x1="308.25" y1="522.3" x2="308.25" y2="519.7" stroke="#000" stroke-width="1.6" /><line x1="352.2" y1="522.3" x2="352.2" y2="519.7" stroke="#000" stroke-width="1.6" /><line x1="396.15" y1="522.3" x2="396.15" y2="519.7" stroke="#000" stroke-width="1.6" />
<text x="251.5" y="383.38" font-size="12.8" font-weight="bold" text-anchor="middle" fill="#000" >80</text>
<text x="251.5" y="419.74" font-size="12.8" font-weight="bold" text-anchor="middle" fill="#000" >40</text>
<text x="251.5" y="455" font-size="12.8" font-weight="bold" text-anchor="middle" fill="#000" >0</text>
<text x="251.5" y="490.26" font-size="12.8" font-weight="bold" text-anchor="middle" fill="#000" >-40</text>
<text x="251.5" y="524.42" font-size="12.8" font-weight="bold" text-anchor="middle" fill="#000" >-80</text>
<text x="266.7" y="535.7" font-size="12.8" font-weight="bold" text-anchor="middle" fill="#000" >-1.0</text>
<text x="310.65" y="535.7" font-size="12.8" font-weight="bold" text-anchor="middle" fill="#000" >-0.5</text>
<text x="352.2" y="535.7" font-size="12.8" font-weight="bold" text-anchor="middle" fill="#000" >0.0</text>
<text x="396.15" y="535.7" font-size="12.8" font-weight="bold" text-anchor="middle" fill="#000" >0.5</text>
<text x="441.6" y="535.7" font-size="12.8" font-weight="bold" text-anchor="middle" fill="#000" >1.0</text>
<text x="239.5" y="445" font-size="12.5" font-weight="bold" text-anchor="middle" fill="#000" transform="rotate(-90 239.5 445)" >Current(nA)</text>
<text x="361.5" y="547" font-size="12.8" font-weight="bold" text-anchor="middle" fill="#000" >Voltage(V)</text>
<line x1="368.2" y1="466.3" x2="394.2" y2="466.3" stroke="#6a73a8" stroke-width="2.3" stroke-linecap="round"/>
<text x="397.3" y="470.1" font-size="11" font-weight="bold" text-anchor="start" fill="#000" >2mW</text>
<line x1="368.2" y1="480.5" x2="394.2" y2="480.5" stroke="#5b6be0" stroke-width="2.3" stroke-linecap="round"/>
<text x="397.3" y="484.3" font-size="11" font-weight="bold" text-anchor="start" fill="#000" >1mW</text>
<line x1="368.2" y1="494.9" x2="394.2" y2="494.9" stroke="#23264f" stroke-width="2.3" stroke-linecap="round"/>
<text x="397.3" y="498.7" font-size="11" font-weight="bold" text-anchor="start" fill="#000" >0.1mW</text>
<line x1="368.2" y1="509.4" x2="394.2" y2="509.4" stroke="#000" stroke-width="2.3" stroke-linecap="round"/>
<text x="397.3" y="513.2" font-size="11" font-weight="bold" text-anchor="start" fill="#000" >Dark</text>
<text x="457.5" y="373.8" font-size="22" font-weight="bold" text-anchor="start" fill="#000" >i</text>
<defs><clipPath id="ci"><rect x="492.25" y="380.85" width="175.45" height="140.75"/></clipPath></defs>
<g clip-path="url(#ci)">
<polyline points="492.27,480.07 493.16,479.56 494.04,479.99 494.92,479.68 495.8,479.3 496.68,478.37 497.56,477.97 498.45,477.4 499.33,477.01 500.21,476.69 501.09,475.97 501.97,475.14 502.85,473.89 503.74,473.61 504.62,473.44 505.5,473.52 506.38,473.43 507.26,472.6 508.14,472.26 509.03,471.69 509.91,471.5 510.79,470.38 511.67,469.55 512.55,469.28 513.43,469.36 514.32,468.79 515.2,468.11 516.08,467.67 516.96,467.43 517.84,466.76 518.72,465.63 519.61,465.45 520.49,465.37 521.37,465.63 522.25,465.5 523.13,465.15 524.01,464.79 524.9,463.47 525.78,462.85 526.66,462.57 527.54,462.26 528.42,461.89 529.3,461.48 530.19,461.35 531.07,460.96 531.95,460.28 532.83,459.66 533.71,459.6 534.59,458.97 535.48,458.23 536.36,456.95 537.24,456.08 538.12,455.52 539,454.81 539.88,454.8 540.77,454.29 541.65,454.54 542.53,453.81 543.41,453.89 544.29,452.55 545.17,451.45 546.06,450.4 546.94,449.59 547.82,449.47 548.7,448.76 549.58,448.54 550.46,448.02 551.35,447.34 552.23,446.28 553.11,445.68 553.99,444.97 554.87,444.92 555.75,443.66 556.64,443.21 557.52,442.47 558.4,442.22 559.28,441.76 560.16,441.76 561.04,441.05 561.93,440.94 562.81,440.02 563.69,439.71 564.57,439.08 565.45,438.6 566.33,437.97 567.22,437.28 568.1,437.05 568.98,437.59 569.86,437.34 570.74,436.79 571.62,435.72 572.51,435.25 573.39,434.54 574.27,434.09 575.15,433.42 576.03,432.89 576.91,432.51 577.8,432.11 578.68,431.3 579.56,430.42 580.44,430.23 581.32,430.36 582.2,430.01 583.09,428.96 583.97,428.48 584.85,428.34 585.73,428.42 586.61,427.89 587.49,427.27 588.38,426.82 589.26,426.63 590.14,426.42 591.02,425.71 591.9,425.45 592.78,424.83 593.67,424.41 594.55,423.73 595.43,423.67 596.31,423.16 597.19,423.07 598.07,422.37 598.96,422.51 599.84,422.39 600.72,422.05 601.6,421.41 602.48,420.6 603.36,420.2 604.25,420.04 605.13,419.81 606.01,419.53 606.89,418.49 607.77,417.7 608.65,417.39 609.54,417.33 610.42,417.26 611.3,416.85 612.18,416.38 613.06,416 613.94,415.91 614.83,415.97 615.71,415.43 616.59,414.6 617.47,413.69 618.35,413.52 619.23,413 620.12,412.84 621,412.35 621.88,411.97 622.76,411.62 623.64,411.46 624.52,411.07 625.41,411.18 626.29,410.64 627.17,410.6 628.05,409.88 628.93,409.78 629.81,409.49 630.7,409.34 631.58,408.62 632.46,408.52 633.34,408.19 634.22,408.22 635.1,408.07 635.99,407.14 636.87,406.81 637.75,406.59 638.63,406.63 639.51,406.6 640.39,405.86 641.28,405.72 642.16,405.34 643.04,405.26 643.92,405.34 644.8,404.92 645.68,404.94 646.57,404.83 647.45,404.55 648.33,403.61 649.21,402.86 650.09,402.11 650.97,401.92 651.86,401.93 652.74,402.11 653.62,402.52 654.5,402.35 655.38,402.3 656.26,401.45 657.15,400.77 658.03,400.37 658.91,400.31 659.79,400.59 660.67,400.2 661.55,399.72 662.44,398.94 663.32,398.83 664.2,398.11 665.08,397.65 665.96,397.2 666.84,397.55 667.73,397.57" fill="none" stroke="#6a73a8" stroke-width="2.3" stroke-linejoin="round"/>
<polyline points="492.27,516.57 493.16,515.3 494.04,514.82 494.92,514.05 495.8,513.6 496.68,513.1 497.56,512.61 498.45,512.3 499.33,511.49 500.21,510.97 501.09,510.4 501.97,509.74 502.85,508.63 503.74,508.33 504.62,507.75 505.5,506.95 506.38,505.42 507.26,504.96 508.14,504.44 509.03,504.5 509.91,503.69 510.79,503.43 511.67,502.65 512.55,501.56 513.43,500.54 514.32,499.8 515.2,499.52 516.08,499.09 516.96,498.53 517.84,497.63 518.72,497.19 519.61,496.57 520.49,496.2 521.37,495.47 522.25,494.82 523.13,494.16 524.01,493.23 524.9,492.74 525.78,491.82 526.66,491.66 527.54,491.19 528.42,490.99 529.3,490.26 530.19,489.51 531.07,488.65 531.95,487.89 532.83,487.28 533.71,487.13 534.59,486.89 535.48,486.11 536.36,485.42 537.24,485.18 538.12,485.16 539,484.81 539.88,483.66 540.77,482.97 541.65,481.73 542.53,481.32 543.41,480.73 544.29,480.88 545.17,480.27 546.06,479.84 546.94,479.41 547.82,478.99 548.7,478.41 549.58,477.39 550.46,477.03 551.35,477.23 552.23,476.82 553.11,476.76 553.99,475.15 554.87,474.39 555.75,473.52 556.64,473.69 557.52,473.99 558.4,473.16 559.28,472.42 560.16,471.71 561.04,471.49 561.93,470.41 562.81,469.67 563.69,468.92 564.57,468.75 565.45,468.09 566.33,467.51 567.22,467.39 568.1,467.2 568.98,467.17 569.86,466.68 570.74,465.86 571.62,465.31 572.51,464.67 573.39,464.66 574.27,464.21 575.15,463.53 576.03,463 576.91,462.52 577.8,462.14 578.68,461.45 579.56,460.69 580.44,460.33 581.32,460.47 582.2,460.09 583.09,459.59 583.97,458.48 584.85,458.45 585.73,457.54 586.61,457.71 587.49,456.92 588.38,457.16 589.26,456.58 590.14,456.17 591.02,455.87 591.9,455.95 592.78,456.07 593.67,455.5 594.55,453.97 595.43,453.66 596.31,453.39 597.19,453.2 598.07,452.28 598.96,451.97 599.84,452.29 600.72,452.48 601.6,452.16 602.48,451.48 603.36,451.16 604.25,450.96 605.13,450.33 606.01,449.4 606.89,448.69 607.77,448.39 608.65,448.01 609.54,447.11 610.42,446.11 611.3,444.92 612.18,444.51 613.06,444.27 613.94,443.99 614.83,443.31 615.71,442.72 616.59,442.4 617.47,442.64 618.35,443.07 619.23,442.84 620.12,442.4 621,441.71 621.88,441.85 622.76,441.85 623.64,441.18 624.52,440.51 625.41,440.12 626.29,440.05 627.17,439.75 628.05,439.02 628.93,438.22 629.81,437.97 630.7,438.08 631.58,438.29 632.46,438.1 633.34,437.3 634.22,436.91 635.1,436.32 635.99,436.25 636.87,435.86 637.75,435.72 638.63,435.11 639.51,434.94 640.39,434.75 641.28,434.41 642.16,434.17 643.04,433.18 643.92,432.85 644.8,432.22 645.68,432.22 646.57,432 647.45,432.38 648.33,431.76 649.21,431.61 650.09,430.43 650.97,430.56 651.86,430.05 652.74,430.01 653.62,429.77 654.5,429.44 655.38,428.93 656.26,428.43 657.15,428.37 658.03,428.29 658.91,427.79 659.79,426.85 660.67,426.15 661.55,425.81 662.44,426 663.32,425.65 664.2,425.38 665.08,424.85 665.96,424.51 666.84,424.02 667.73,423.62" fill="none" stroke="#5b6be0" stroke-width="2.3" stroke-linejoin="round"/>
<line x1="492.25" y1="443.4" x2="667.7" y2="443.4" stroke="#000" stroke-width="2.2" />
</g>
<defs><linearGradient id="li" x1="0" y1="0" x2="0" y2="1"><stop offset="0" stop-color="#f53a3a"/><stop offset="0.5" stop-color="#fa8080"/><stop offset="1" stop-color="#f53a3a"/></linearGradient><linearGradient id="li2" x1="0" y1="0" x2="1" y2="0"><stop offset="0" stop-color="#f53a3a"/><stop offset="0.5" stop-color="#fa8080"/><stop offset="1" stop-color="#f53a3a"/></linearGradient><radialGradient id="glow"><stop offset="0" stop-color="#fffbe0"/><stop offset="0.5" stop-color="#ffe0a0"/><stop offset="1" stop-color="#f88" stop-opacity="0"/></radialGradient><linearGradient id="pli" x1="0" y1="0" x2="0" y2="1"><stop offset="0" stop-color="#706a6e"/><stop offset="1" stop-color="#4e484c"/></linearGradient></defs><polygon points="501.1,422.6 575.9,422.6 575.9,426.4 501.1,426.4" fill="#5c5659" stroke="none" stroke-width="1" /><polygon points="518.3,408 558.4,408 575.9,422.6 501.1,422.6" fill="url(#pli)" stroke="none" stroke-width="1" /><polyline points="540.5,391.4 525.3,391.4 525.3,408.8" fill="none" stroke="#2a2422" stroke-width="1" /><polyline points="550.1,391.4 551.9,391.4 551.9,408.8" fill="none" stroke="#2a2422" stroke-width="1" /><rect x="521.9" y="409.3" width="33.6" height="3" fill="#b9b48a" stroke="none" stroke-width="1" /><rect x="525.6" y="409.9" width="26.2" height="1.8" fill="#a4adb6" stroke="none" stroke-width="1" /><rect x="521.9" y="409.1" width="3.7" height="3.5" fill="#cdac2e" stroke="none" stroke-width="1" /><rect x="551.8" y="409.1" width="3.7" height="3.5" fill="#cdac2e" stroke="none" stroke-width="1" /><polygon points="522.4,412.6 524.8,412.6 526,416.5 523.4,416.5" fill="#cdac2e" stroke="none" stroke-width="1" /><polygon points="552.4,412.6 555,412.6 554.6,416.4 551.8,416.4" fill="#cdac2e" stroke="none" stroke-width="1" /><polygon points="516.8,416.5 528.5,416.5 528.9,419.4 516.2,419.4" fill="#cdac2e" stroke="none" stroke-width="1" /><polygon points="551.1,416.2 561.7,416.2 562.5,419.4 551.5,419.4" fill="#cdac2e" stroke="none" stroke-width="1" /><line x1="528.5" y1="418" x2="536" y2="417.4" stroke="#a88c24" stroke-width="1" /><polygon points="536,412.8 540.7,412.8 541.2,418.7 535.5,418.7" fill="#cdac2e" stroke="none" stroke-width="1" /><rect x="495.2" y="383.6" width="38.4" height="3.7" fill="url(#li)" stroke="none" stroke-width="1" /><path d="M533.5 383.6 Q539.9 383.6 539.9 390 L536.5 390 Q536.5 387.3 533.5 387.3 Z" fill="#f75c5c" stroke="none" stroke-width="0" /><rect x="536.5" y="389.9" width="3.4" height="5.5" fill="url(#li2)" stroke="none" stroke-width="1" /><rect x="520.6" y="381.8" width="1.2" height="7.4" fill="#e24a4a" stroke="none" stroke-width="1" /><line x1="535.8" y1="382.2" x2="539.4" y2="385.1" stroke="#1c1c1c" stroke-width="1" /><rect x="535.5" y="395.3" width="4.4" height="8.1" fill="#2e2222" stroke="none" stroke-width="1" /><rect x="536.9" y="395.3" width="1.7" height="8.1" fill="#d23a3a" stroke="none" stroke-width="1" /><rect x="535.5" y="401.2" width="4.4" height="0.9" fill="#2aa0c0" stroke="none" stroke-width="1" /><polygon points="536.4,403.4 539.2,403.4 538.3,409.5 537.5,409.5" fill="#f55" stroke="none" stroke-width="1" /><polygon points="537.4,409 538.6,409 538.8,424 537.2,424" fill="#f66" stroke="none" stroke-width="1" /><circle cx="538" cy="411.6" r="3" fill="url(#glow)" stroke="none" stroke-width="1" /><circle cx="545.3" cy="391.4" r="4.8" fill="#fff" stroke="#2a2422" stroke-width="1" /><text x="545.3" y="393.9" font-size="6.8" font-weight="bold" text-anchor="middle" fill="#2a2422" >V</text><polyline points="521.9,417.4 521.9,426.8" fill="none" stroke="#2a2422" stroke-width="1" /><polyline points="521.9,436 521.9,437.2 567.6,437.2 567.6,416.8 562,416.8" fill="none" stroke="#2a2422" stroke-width="1" /><line x1="541.6" y1="433.2" x2="541.6" y2="441.2" stroke="#2a2422" stroke-width="1" /><line x1="543.2" y1="435.3" x2="543.2" y2="439.1" stroke="#2a2422" stroke-width="1.3" /><line x1="539" y1="441.4" x2="546.2" y2="433.8" stroke="#2a2422" stroke-width="0.9" /><polygon points="547.4,432.6 544.6,433.6 546.4,435.4" fill="#2a2422" stroke="none" stroke-width="1" /><circle cx="521.9" cy="431.4" r="4.6" fill="#fff" stroke="#2a2422" stroke-width="1" /><text x="521.9" y="433.9" font-size="6.8" font-weight="bold" text-anchor="middle" fill="#2a2422" >A</text><polyline points="516.8,417.2 497.8,417.2 497.8,432.3" fill="none" stroke="#2a2422" stroke-width="1" /><line x1="493.8" y1="432.3" x2="503.7" y2="432.3" stroke="#2a2422" stroke-width="1" /><line x1="495.7" y1="434.7" x2="501.5" y2="434.7" stroke="#2a2422" stroke-width="1" /><line x1="497.1" y1="436.9" x2="500" y2="436.9" stroke="#2a2422" stroke-width="1" />
<rect x="492.25" y="380.85" width="175.45" height="140.75" fill="none" stroke="#000" stroke-width="1.6" />
<line x1="492.25" y1="412.12" x2="494.85" y2="412.12" stroke="#000" stroke-width="1.6" /><line x1="492.25" y1="443.4" x2="494.85" y2="443.4" stroke="#000" stroke-width="1.6" /><line x1="492.25" y1="474.68" x2="494.85" y2="474.68" stroke="#000" stroke-width="1.6" /><line x1="492.25" y1="505.96" x2="494.85" y2="505.96" stroke="#000" stroke-width="1.6" />
<line x1="536.14" y1="521.6" x2="536.14" y2="519" stroke="#000" stroke-width="1.6" /><line x1="580" y1="521.6" x2="580" y2="519" stroke="#000" stroke-width="1.6" /><line x1="623.86" y1="521.6" x2="623.86" y2="519" stroke="#000" stroke-width="1.6" />
<text x="487.7" y="382.74" font-size="12.8" font-weight="bold" text-anchor="end" fill="#000" >2</text>
<text x="487.7" y="415.72" font-size="12.8" font-weight="bold" text-anchor="end" fill="#000" >1</text>
<text x="487.7" y="447" font-size="12.8" font-weight="bold" text-anchor="end" fill="#000" >0</text>
<text x="487.7" y="478.28" font-size="12.8" font-weight="bold" text-anchor="end" fill="#000" >-1</text>
<text x="487.7" y="509.56" font-size="12.8" font-weight="bold" text-anchor="end" fill="#000" >-2</text>
<text x="497.88" y="535.6" font-size="12.8" font-weight="bold" text-anchor="middle" fill="#000" >-0.10</text>
<text x="541.74" y="535.6" font-size="12.8" font-weight="bold" text-anchor="middle" fill="#000" >-0.05</text>
<text x="584.2" y="535.6" font-size="12.8" font-weight="bold" text-anchor="middle" fill="#000" >0.00</text>
<text x="628.06" y="535.6" font-size="12.8" font-weight="bold" text-anchor="middle" fill="#000" >0.05</text>
<text x="671.93" y="535.6" font-size="12.8" font-weight="bold" text-anchor="middle" fill="#000" >0.10</text>
<text x="472.5" y="445" font-size="12.5" font-weight="bold" text-anchor="middle" fill="#000" transform="rotate(-90 472.5 445)" >Current(nA)</text>
<text x="589.5" y="547" font-size="12.8" font-weight="bold" text-anchor="middle" fill="#000" >Voltage(V)</text>
<line x1="592.6" y1="478.3" x2="617.6" y2="478.3" stroke="#6a73a8" stroke-width="2.3" stroke-linecap="round"/>
<text x="620" y="481.9" font-size="10.3" font-weight="bold" text-anchor="start" fill="#000" >Negative</text>
<line x1="592.6" y1="491.7" x2="617.6" y2="491.7" stroke="#5b6be0" stroke-width="2.3" stroke-linecap="round"/>
<text x="620" y="495.3" font-size="10.3" font-weight="bold" text-anchor="start" fill="#000" >Positive</text>
<line x1="592.6" y1="505" x2="617.6" y2="505" stroke="#000" stroke-width="2.3" stroke-linecap="round"/>
<text x="620" y="508.6" font-size="10.3" font-weight="bold" text-anchor="start" fill="#000" >Dark</text>
<text x="6.3" y="559" font-size="22" font-weight="bold" text-anchor="start" fill="#000" >j</text>
<text x="127.3" y="561.1" font-size="12.3" font-weight="bold" text-anchor="middle" fill="#000" >Wavelength (nm)</text>
<text x="53.7" y="573.6" font-size="11.4" font-weight="bold" text-anchor="middle" fill="#000" >640</text>
<text x="90.7" y="573.6" font-size="11.4" font-weight="bold" text-anchor="middle" fill="#000" >680</text>
<text x="128.6" y="573.6" font-size="11.4" font-weight="bold" text-anchor="middle" fill="#000" >720</text>
<text x="166.2" y="573.6" font-size="11.4" font-weight="bold" text-anchor="middle" fill="#000" >760</text>
<text x="203.2" y="573.6" font-size="11.4" font-weight="bold" text-anchor="middle" fill="#000" >800</text>
<defs><clipPath id="cj1"><rect x="47" y="623.5" width="153.2" height="48"/></clipPath><clipPath id="cj2"><rect x="47" y="671.9" width="153.2" height="47.5"/></clipPath></defs>
<polyline points="47,579.5 48.94,580.02 50.89,580.51 52.83,581 54.77,581.52 56.72,582.09 58.66,582.75 60.6,583.54 62.54,584.47 64.49,585.52 66.43,586.63 68.37,587.77 70.32,588.9 72.26,590.04 74.2,591.26 76.15,592.52 78.09,593.78 80.03,595 81.97,596.14 83.92,597.16 85.86,598.07 87.8,598.94 89.75,599.75 91.69,600.53 93.63,601.28 95.58,602 97.52,602.69 99.46,603.37 101.41,604.04 103.35,604.71 105.29,605.38 107.23,606.03 109.18,606.65 111.12,607.25 113.06,607.81 115.01,608.32 116.95,608.78 118.89,609.18 120.84,609.55 122.78,609.89 124.72,610.2 126.66,610.5 128.61,610.78 130.55,611.06 132.49,611.34 134.44,611.62 136.38,611.91 138.32,612.19 140.27,612.47 142.21,612.75 144.15,613.02 146.09,613.28 148.04,613.53 149.98,613.77 151.92,614 153.87,614.22 155.81,614.44 157.75,614.66 159.7,614.87 161.64,615.06 163.58,615.25 165.53,615.42 167.47,615.57 169.41,615.71 171.35,615.83 173.3,615.95 175.24,616.07 177.18,616.17 179.13,616.28 181.07,616.38 183.01,616.47 184.96,616.56 186.9,616.65 188.84,616.74 190.78,616.83 192.73,616.92 194.67,617.01 196.61,617.11 198.56,617.2 200.5,617.3" fill="none" stroke="#000" stroke-width="1.3" />
<line x1="102.4" y1="593.8" x2="115.8" y2="593.8" stroke="#000" stroke-width="1.2" />
<text x="118.2" y="596.6" font-size="8.2"  text-anchor="start" fill="#111" >WS<tspan font-size="5.5" dy="2">2</tspan><tspan dy="-2"> nanotube</tspan></text>
<g clip-path="url(#cj1)">
<polyline points="47,670 52.2,670 57.4,670 62.6,670 67.8,670 73,670 78.2,670 83.4,670 88.6,670 93.8,670 99,670 104.2,670 109.4,670 114.6,670 119.8,670 125,670 130.2,670 135.4,670 140.6,670 145.8,670 151.2,669.3 155.5,665.9 160.6,661.1 166.6,655.7 172.1,647.5 177.7,642.7 183.4,639.8 188.8,634.6 194.8,628.3 199.9,632.9" fill="none" stroke="#777" stroke-width="0.6" />
<circle cx="47" cy="670" r="1.9" fill="#fff" stroke="#777" stroke-width="0.7" />
<circle cx="52.2" cy="670" r="1.9" fill="#fff" stroke="#777" stroke-width="0.7" />
<circle cx="57.4" cy="670" r="1.9" fill="#fff" stroke="#777" stroke-width="0.7" />
<circle cx="62.6" cy="670" r="1.9" fill="#fff" stroke="#777" stroke-width="0.7" />
<circle cx="67.8" cy="670" r="1.9" fill="#fff" stroke="#777" stroke-width="0.7" />
<circle cx="73" cy="670" r="1.9" fill="#fff" stroke="#777" stroke-width="0.7" />
<circle cx="78.2" cy="670" r="1.9" fill="#fff" stroke="#777" stroke-width="0.7" />
<circle cx="83.4" cy="670" r="1.9" fill="#fff" stroke="#777" stroke-width="0.7" />
<circle cx="88.6" cy="670" r="1.9" fill="#fff" stroke="#777" stroke-width="0.7" />
<circle cx="93.8" cy="670" r="1.9" fill="#fff" stroke="#777" stroke-width="0.7" />
<circle cx="99" cy="670" r="1.9" fill="#fff" stroke="#777" stroke-width="0.7" />
<circle cx="104.2" cy="670" r="1.9" fill="#fff" stroke="#777" stroke-width="0.7" />
<circle cx="109.4" cy="670" r="1.9" fill="#fff" stroke="#777" stroke-width="0.7" />
<circle cx="114.6" cy="670" r="1.9" fill="#fff" stroke="#777" stroke-width="0.7" />
<circle cx="119.8" cy="670" r="1.9" fill="#fff" stroke="#777" stroke-width="0.7" />
<circle cx="125" cy="670" r="1.9" fill="#fff" stroke="#777" stroke-width="0.7" />
<circle cx="130.2" cy="670" r="1.9" fill="#fff" stroke="#777" stroke-width="0.7" />
<circle cx="135.4" cy="670" r="1.9" fill="#fff" stroke="#777" stroke-width="0.7" />
<circle cx="140.6" cy="670" r="1.9" fill="#fff" stroke="#777" stroke-width="0.7" />
<circle cx="145.8" cy="670" r="1.9" fill="#fff" stroke="#777" stroke-width="0.7" />
<circle cx="151.2" cy="669.3" r="2.45" fill="#fff" stroke="#2a2a2a" stroke-width="0.85" />
<circle cx="155.5" cy="665.9" r="2.45" fill="#fff" stroke="#2a2a2a" stroke-width="0.85" />
<circle cx="160.6" cy="661.1" r="2.45" fill="#fff" stroke="#2a2a2a" stroke-width="0.85" />
<circle cx="166.6" cy="655.7" r="2.45" fill="#fff" stroke="#2a2a2a" stroke-width="0.85" />
<circle cx="172.1" cy="647.5" r="2.45" fill="#fff" stroke="#2a2a2a" stroke-width="0.85" />
<circle cx="177.7" cy="642.7" r="2.45" fill="#fff" stroke="#2a2a2a" stroke-width="0.85" />
<circle cx="183.4" cy="639.8" r="2.45" fill="#fff" stroke="#2a2a2a" stroke-width="0.85" />
<circle cx="188.8" cy="634.6" r="2.45" fill="#fff" stroke="#2a2a2a" stroke-width="0.85" />
<circle cx="194.8" cy="628.3" r="2.45" fill="#fff" stroke="#2a2a2a" stroke-width="0.85" />
<circle cx="199.9" cy="632.9" r="2.45" fill="#fff" stroke="#2a2a2a" stroke-width="0.85" />
<line x1="151.2" y1="670.5" x2="195.6" y2="627" stroke="#e03418" stroke-width="1.25" stroke-dasharray="3.2 1.8"/>
<polyline points="47,631.25 51.8,626.99 56.6,628.92 61.4,630.86 66.2,631.64 71,633.58 75.8,638.61 80.6,644.04 85.4,649.08 90.2,654.11 95,656.44 99.8,657.21 104.6,659.54 109.4,661.09 114.2,661.86 119,662.64 123.8,663.8 128.6,664.96 133.4,666.12 138.2,666.9 143,667.67 147.8,668.45 152.6,668.84 157.4,669.23 162.2,669.23 167,669.61 171.8,669.61 176.6,669.81 181.4,670 186.2,670 191,670 195.8,670 200.6,670" fill="none" stroke="#000" stroke-width="0.8" />
<circle cx="47" cy="631.25" r="2.15" fill="#000" stroke="none" stroke-width="1" />
<circle cx="51.8" cy="626.99" r="2.15" fill="#000" stroke="none" stroke-width="1" />
<circle cx="56.6" cy="628.92" r="2.15" fill="#000" stroke="none" stroke-width="1" />
<circle cx="61.4" cy="630.86" r="2.15" fill="#000" stroke="none" stroke-width="1" />
<circle cx="66.2" cy="631.64" r="2.15" fill="#000" stroke="none" stroke-width="1" />
<circle cx="71" cy="633.58" r="2.15" fill="#000" stroke="none" stroke-width="1" />
<circle cx="75.8" cy="638.61" r="2.15" fill="#000" stroke="none" stroke-width="1" />
<circle cx="80.6" cy="644.04" r="2.15" fill="#000" stroke="none" stroke-width="1" />
<circle cx="85.4" cy="649.08" r="2.15" fill="#000" stroke="none" stroke-width="1" />
<circle cx="90.2" cy="654.11" r="2.15" fill="#000" stroke="none" stroke-width="1" />
<circle cx="95" cy="656.44" r="2.15" fill="#000" stroke="none" stroke-width="1" />
<circle cx="99.8" cy="657.21" r="2.15" fill="#000" stroke="none" stroke-width="1" />
<circle cx="104.6" cy="659.54" r="2.15" fill="#000" stroke="none" stroke-width="1" />
<circle cx="109.4" cy="661.09" r="2.15" fill="#000" stroke="none" stroke-width="1" />
<circle cx="114.2" cy="661.86" r="2.15" fill="#000" stroke="none" stroke-width="1" />
<circle cx="119" cy="662.64" r="2.15" fill="#000" stroke="none" stroke-width="1" />
<circle cx="123.8" cy="663.8" r="2.15" fill="#000" stroke="none" stroke-width="1" />
<circle cx="128.6" cy="664.96" r="2.15" fill="#000" stroke="none" stroke-width="1" />
<circle cx="133.4" cy="666.12" r="2.15" fill="#000" stroke="none" stroke-width="1" />
<circle cx="138.2" cy="666.9" r="2.15" fill="#000" stroke="none" stroke-width="1" />
<circle cx="143" cy="667.67" r="2.15" fill="#000" stroke="none" stroke-width="1" />
<circle cx="147.8" cy="668.45" r="2.15" fill="#000" stroke="none" stroke-width="1" />
<circle cx="152.6" cy="668.84" r="2.15" fill="#000" stroke="none" stroke-width="1" />
<circle cx="157.4" cy="669.23" r="2.15" fill="#000" stroke="none" stroke-width="1" />
<circle cx="162.2" cy="669.23" r="2.15" fill="#000" stroke="none" stroke-width="1" />
<circle cx="167" cy="669.61" r="2.15" fill="#000" stroke="none" stroke-width="1" />
<circle cx="171.8" cy="669.61" r="2.15" fill="#000" stroke="none" stroke-width="1" />
<circle cx="176.6" cy="669.81" r="2.15" fill="#000" stroke="none" stroke-width="1" />
<circle cx="181.4" cy="670" r="2.15" fill="#000" stroke="none" stroke-width="1" />
<circle cx="186.2" cy="670" r="2.15" fill="#000" stroke="none" stroke-width="1" />
<circle cx="191" cy="670" r="2.15" fill="#000" stroke="none" stroke-width="1" />
<circle cx="195.8" cy="670" r="2.15" fill="#000" stroke="none" stroke-width="1" />
<circle cx="200.6" cy="670" r="2.15" fill="#000" stroke="none" stroke-width="1" />
</g>
<text x="117" y="635.3" font-size="8.2"  text-anchor="middle" fill="#111" >WS<tspan font-size="5.5" dy="2">2</tspan><tspan dy="-2"> nanotube device</tspan></text>
<line x1="100.7" y1="639.9" x2="115.8" y2="639.9" stroke="#000" stroke-width="0.8" />
<circle cx="108.2" cy="639.9" r="2.1" fill="#000" stroke="none" stroke-width="1" />
<text x="117.6" y="642.4" font-size="7.6"  text-anchor="start" fill="#111" font-style="italic" >I<tspan font-size="5" dy="1.5" font-style="normal">ph</tspan></text>
<line x1="100.7" y1="652" x2="115.8" y2="652" stroke="#666" stroke-width="0.7" />
<circle cx="108.2" cy="652" r="2.1" fill="#fff" stroke="#333" stroke-width="0.8" />
<text x="115.6" y="654" font-size="6.9"  text-anchor="start" fill="#222" >(<tspan font-style="italic">I</tspan><tspan font-size="4.6" dy="1.3">ph</tspan><tspan dy="-1.3">(hv)</tspan><tspan font-size="4.6" dy="-2.4">2</tspan><tspan dy="2.4">)</tspan><tspan font-size="4.6" dy="-2.4">1/2</tspan></text>
<g clip-path="url(#cj2)">
<polyline points="47,718.4 52.1,718.4 57.2,718.4 62.3,718.4 67.4,718.4 72.5,718.4 77.6,718.4 82.7,718.4 87.8,718.4 92.9,718.4 98,718.4 103.4,717.5 108.5,717.5 113.7,717.5 118.8,717.2 123.9,716.6 129,716.1 134.2,714.9 138.9,713.6 144.1,712 149.2,709.8 154.3,707.2 159.4,704.2 164.6,699.9 170,695.6 175.2,691 181.1,686.4 187.1,682.5 193.1,679.9 199.1,677.9" fill="none" stroke="#777" stroke-width="0.6" />
<circle cx="47" cy="718.4" r="1.9" fill="#fff" stroke="#777" stroke-width="0.7" />
<circle cx="52.1" cy="718.4" r="1.9" fill="#fff" stroke="#777" stroke-width="0.7" />
<circle cx="57.2" cy="718.4" r="1.9" fill="#fff" stroke="#777" stroke-width="0.7" />
<circle cx="62.3" cy="718.4" r="1.9" fill="#fff" stroke="#777" stroke-width="0.7" />
<circle cx="67.4" cy="718.4" r="1.9" fill="#fff" stroke="#777" stroke-width="0.7" />
<circle cx="72.5" cy="718.4" r="1.9" fill="#fff" stroke="#777" stroke-width="0.7" />
<circle cx="77.6" cy="718.4" r="1.9" fill="#fff" stroke="#777" stroke-width="0.7" />
<circle cx="82.7" cy="718.4" r="1.9" fill="#fff" stroke="#777" stroke-width="0.7" />
<circle cx="87.8" cy="718.4" r="1.9" fill="#fff" stroke="#777" stroke-width="0.7" />
<circle cx="92.9" cy="718.4" r="1.9" fill="#fff" stroke="#777" stroke-width="0.7" />
<circle cx="98" cy="718.4" r="1.9" fill="#fff" stroke="#777" stroke-width="0.7" />
<circle cx="103.4" cy="717.5" r="2.45" fill="#fff" stroke="#2a2a2a" stroke-width="0.85" />
<circle cx="108.5" cy="717.5" r="2.45" fill="#fff" stroke="#2a2a2a" stroke-width="0.85" />
<circle cx="113.7" cy="717.5" r="2.45" fill="#fff" stroke="#2a2a2a" stroke-width="0.85" />
<circle cx="118.8" cy="717.2" r="2.45" fill="#fff" stroke="#2a2a2a" stroke-width="0.85" />
<circle cx="123.9" cy="716.6" r="2.45" fill="#fff" stroke="#2a2a2a" stroke-width="0.85" />
<circle cx="129" cy="716.1" r="2.45" fill="#fff" stroke="#2a2a2a" stroke-width="0.85" />
<circle cx="134.2" cy="714.9" r="2.45" fill="#fff" stroke="#2a2a2a" stroke-width="0.85" />
<circle cx="138.9" cy="713.6" r="2.45" fill="#fff" stroke="#2a2a2a" stroke-width="0.85" />
<circle cx="144.1" cy="712" r="2.45" fill="#fff" stroke="#2a2a2a" stroke-width="0.85" />
<circle cx="149.2" cy="709.8" r="2.45" fill="#fff" stroke="#2a2a2a" stroke-width="0.85" />
<circle cx="154.3" cy="707.2" r="2.45" fill="#fff" stroke="#2a2a2a" stroke-width="0.85" />
<circle cx="159.4" cy="704.2" r="2.45" fill="#fff" stroke="#2a2a2a" stroke-width="0.85" />
<circle cx="164.6" cy="699.9" r="2.45" fill="#fff" stroke="#2a2a2a" stroke-width="0.85" />
<circle cx="170" cy="695.6" r="2.45" fill="#fff" stroke="#2a2a2a" stroke-width="0.85" />
<circle cx="175.2" cy="691" r="2.45" fill="#fff" stroke="#2a2a2a" stroke-width="0.85" />
<circle cx="181.1" cy="686.4" r="2.45" fill="#fff" stroke="#2a2a2a" stroke-width="0.85" />
<circle cx="187.1" cy="682.5" r="2.45" fill="#fff" stroke="#2a2a2a" stroke-width="0.85" />
<circle cx="193.1" cy="679.9" r="2.45" fill="#fff" stroke="#2a2a2a" stroke-width="0.85" />
<circle cx="199.1" cy="677.9" r="2.45" fill="#fff" stroke="#2a2a2a" stroke-width="0.85" />
<line x1="141.9" y1="718.3" x2="198.2" y2="673.9" stroke="#e03418" stroke-width="1.25" stroke-dasharray="3.2 1.8"/>
<polyline points="47,677.9 51.8,677.9 56.6,678.15 61.4,678.15 66.2,681.44 71,686.51 75.8,693.59 80.6,704.23 85.4,710.81 90.2,713.34 95,714.86 99.8,716.12 104.6,717.03 109.4,717.54 114.2,717.89 119,718.1 123.8,718.25 128.6,718.35 133.4,718.4 138.2,718.4 143,718.4 147.8,718.4 152.6,718.4 157.4,718.4 162.2,718.4 167,718.4 171.8,718.4 176.6,718.4 181.4,718.4 186.2,718.4 191,718.4 195.8,718.4 200.6,718.4" fill="none" stroke="#000" stroke-width="0.8" />
<circle cx="47" cy="677.9" r="2.15" fill="#000" stroke="none" stroke-width="1" />
<circle cx="51.8" cy="677.9" r="2.15" fill="#000" stroke="none" stroke-width="1" />
<circle cx="56.6" cy="678.15" r="2.15" fill="#000" stroke="none" stroke-width="1" />
<circle cx="61.4" cy="678.15" r="2.15" fill="#000" stroke="none" stroke-width="1" />
<circle cx="66.2" cy="681.44" r="2.15" fill="#000" stroke="none" stroke-width="1" />
<circle cx="71" cy="686.51" r="2.15" fill="#000" stroke="none" stroke-width="1" />
<circle cx="75.8" cy="693.59" r="2.15" fill="#000" stroke="none" stroke-width="1" />
<circle cx="80.6" cy="704.23" r="2.15" fill="#000" stroke="none" stroke-width="1" />
<circle cx="85.4" cy="710.81" r="2.15" fill="#000" stroke="none" stroke-width="1" />
<circle cx="90.2" cy="713.34" r="2.15" fill="#000" stroke="none" stroke-width="1" />
<circle cx="95" cy="714.86" r="2.15" fill="#000" stroke="none" stroke-width="1" />
<circle cx="99.8" cy="716.12" r="2.15" fill="#000" stroke="none" stroke-width="1" />
<circle cx="104.6" cy="717.03" r="2.15" fill="#000" stroke="none" stroke-width="1" />
<circle cx="109.4" cy="717.54" r="2.15" fill="#000" stroke="none" stroke-width="1" />
<circle cx="114.2" cy="717.89" r="2.15" fill="#000" stroke="none" stroke-width="1" />
<circle cx="119" cy="718.1" r="2.15" fill="#000" stroke="none" stroke-width="1" />
<circle cx="123.8" cy="718.25" r="2.15" fill="#000" stroke="none" stroke-width="1" />
<circle cx="128.6" cy="718.35" r="2.15" fill="#000" stroke="none" stroke-width="1" />
<circle cx="133.4" cy="718.4" r="2.15" fill="#000" stroke="none" stroke-width="1" />
<circle cx="138.2" cy="718.4" r="2.15" fill="#000" stroke="none" stroke-width="1" />
<circle cx="143" cy="718.4" r="2.15" fill="#000" stroke="none" stroke-width="1" />
<circle cx="147.8" cy="718.4" r="2.15" fill="#000" stroke="none" stroke-width="1" />
<circle cx="152.6" cy="718.4" r="2.15" fill="#000" stroke="none" stroke-width="1" />
<circle cx="157.4" cy="718.4" r="2.15" fill="#000" stroke="none" stroke-width="1" />
<circle cx="162.2" cy="718.4" r="2.15" fill="#000" stroke="none" stroke-width="1" />
<circle cx="167" cy="718.4" r="2.15" fill="#000" stroke="none" stroke-width="1" />
<circle cx="171.8" cy="718.4" r="2.15" fill="#000" stroke="none" stroke-width="1" />
<circle cx="176.6" cy="718.4" r="2.15" fill="#000" stroke="none" stroke-width="1" />
<circle cx="181.4" cy="718.4" r="2.15" fill="#000" stroke="none" stroke-width="1" />
<circle cx="186.2" cy="718.4" r="2.15" fill="#000" stroke="none" stroke-width="1" />
<circle cx="191" cy="718.4" r="2.15" fill="#000" stroke="none" stroke-width="1" />
<circle cx="195.8" cy="718.4" r="2.15" fill="#000" stroke="none" stroke-width="1" />
<circle cx="200.6" cy="718.4" r="2.15" fill="#000" stroke="none" stroke-width="1" />
</g>
<text x="127.3" y="680.6" font-size="8.2"  text-anchor="middle" fill="#111" >Van der Waals contact device</text>
<line x1="100.7" y1="689.6" x2="115.8" y2="689.6" stroke="#000" stroke-width="0.8" />
<circle cx="108.2" cy="689.6" r="2.1" fill="#000" stroke="none" stroke-width="1" />
<text x="117.6" y="692.1" font-size="7.6"  text-anchor="start" fill="#111" font-style="italic" >I<tspan font-size="5" dy="1.5" font-style="normal">ph</tspan></text>
<line x1="100.7" y1="702" x2="115.8" y2="702" stroke="#666" stroke-width="0.7" />
<circle cx="108.2" cy="702" r="2.1" fill="#fff" stroke="#333" stroke-width="0.8" />
<text x="115.6" y="704" font-size="6.9"  text-anchor="start" fill="#222" >(<tspan font-style="italic">I</tspan><tspan font-size="4.6" dy="1.3">ph</tspan><tspan dy="-1.3">(hv)</tspan><tspan font-size="4.6" dy="-2.4">2</tspan><tspan dy="2.4">)</tspan><tspan font-size="4.6" dy="-2.4">1/2</tspan></text>
<rect x="47" y="576.6" width="153.2" height="46.9" fill="none" stroke="#000" stroke-width="1.6" />
<rect x="47" y="623.5" width="153.2" height="46.5" fill="none" stroke="#000" stroke-width="1.6" />
<rect x="47" y="671.9" width="153.2" height="46.6" fill="none" stroke="#000" stroke-width="1.6" />
<line x1="47" y1="670" x2="200.2" y2="670" stroke="#000" stroke-width="0.8" />
<line x1="47" y1="639" x2="50" y2="639" stroke="#000" stroke-width="1.6" /><line x1="47" y1="654.5" x2="50" y2="654.5" stroke="#000" stroke-width="1.6" />
<line x1="47" y1="677.9" x2="50" y2="677.9" stroke="#000" stroke-width="1.6" /><line x1="47" y1="698.15" x2="50" y2="698.15" stroke="#000" stroke-width="1.6" />
<line x1="69.7" y1="718.5" x2="69.7" y2="715.5" stroke="#000" stroke-width="1.6" /><line x1="106.7" y1="718.5" x2="106.7" y2="715.5" stroke="#000" stroke-width="1.6" /><line x1="143.7" y1="718.5" x2="143.7" y2="715.5" stroke="#000" stroke-width="1.6" /><line x1="180.7" y1="718.5" x2="180.7" y2="715.5" stroke="#000" stroke-width="1.6" />
<text x="45.3" y="627.4" font-size="11.4" font-weight="bold" text-anchor="end" fill="#000" >1.2</text>
<text x="45.3" y="642.9" font-size="11.4" font-weight="bold" text-anchor="end" fill="#000" >0.8</text>
<text x="45.3" y="658.4" font-size="11.4" font-weight="bold" text-anchor="end" fill="#000" >0.4</text>
<text x="45.3" y="673.3" font-size="11.4" font-weight="bold" text-anchor="end" fill="#000" >0.0</text>
<text x="42" y="681.8" font-size="11.4" font-weight="bold" text-anchor="end" fill="#000" >8</text>
<text x="42" y="702.05" font-size="11.4" font-weight="bold" text-anchor="end" fill="#000" >4</text>
<text x="42" y="722.3" font-size="11.4" font-weight="bold" text-anchor="end" fill="#000" >0</text>
<text x="69.7" y="730.6" font-size="11.4" font-weight="bold" text-anchor="middle" fill="#000" >1.6</text>
<text x="106.7" y="730.6" font-size="11.4" font-weight="bold" text-anchor="middle" fill="#000" >1.7</text>
<text x="143.7" y="730.6" font-size="11.4" font-weight="bold" text-anchor="middle" fill="#000" >1.8</text>
<text x="180.7" y="730.6" font-size="11.4" font-weight="bold" text-anchor="middle" fill="#000" >1.9</text>
<text x="124.9" y="742.8" font-size="12.3" font-weight="bold" text-anchor="middle" fill="#000" >Energy (eV)</text>
<text x="21.9" y="590.2" font-size="8.5"  text-anchor="middle" fill="#000" transform="rotate(-90 21.9 590.2)" >Absorbance (a.u.)</text>
<text x="21.9" y="647.3" font-size="8.3"  text-anchor="middle" fill="#000" transform="rotate(-90 21.9 647.3)" >Current (nA)</text>
<text x="21.9" y="696.6" font-size="8.8"  text-anchor="middle" fill="#000" transform="rotate(-90 21.9 696.6)" >Current (pA)</text>
<text x="213.6" y="647.8" font-size="8.6"  text-anchor="middle" fill="#111" transform="rotate(-90 213.6 647.8)" stroke="#111" stroke-width="0.25">(<tspan font-style="italic">I</tspan><tspan font-size="5.4" dy="1.6">ph</tspan><tspan dy="-1.6">(hv)</tspan><tspan font-size="5.4" dy="-3">2</tspan><tspan dy="3">)</tspan><tspan font-size="5.4" dy="-3">1/2</tspan></text>
<text x="213.6" y="696.4" font-size="8.6"  text-anchor="middle" fill="#111" transform="rotate(-90 213.6 696.4)" stroke="#111" stroke-width="0.25">(<tspan font-style="italic">I</tspan><tspan font-size="5.4" dy="1.6">ph</tspan><tspan dy="-1.6">(hv)</tspan><tspan font-size="5.4" dy="-3">2</tspan><tspan dy="3">)</tspan><tspan font-size="5.4" dy="-3">1/2</tspan></text>
<text x="227.5" y="561.5" font-size="22" font-weight="bold" text-anchor="start" fill="#000" >k</text>
<line x1="265.7" y1="694.23" x2="259.34" y2="577.92" stroke="#e3e3e3" stroke-width="0.5" />
<line x1="265.7" y1="694.23" x2="356.11" y2="742.78" stroke="#e3e3e3" stroke-width="0.5" />
<line x1="273.28" y1="689.96" x2="267.63" y2="575.51" stroke="#e3e3e3" stroke-width="0.5" />
<line x1="273.28" y1="689.96" x2="363.23" y2="737.6" stroke="#e3e3e3" stroke-width="0.5" />
<line x1="280.86" y1="685.69" x2="275.91" y2="573.1" stroke="#e3e3e3" stroke-width="0.5" />
<line x1="280.86" y1="685.69" x2="370.34" y2="732.42" stroke="#e3e3e3" stroke-width="0.5" />
<line x1="288.44" y1="681.42" x2="284.2" y2="570.69" stroke="#e3e3e3" stroke-width="0.5" />
<line x1="288.44" y1="681.42" x2="377.45" y2="727.25" stroke="#e3e3e3" stroke-width="0.5" />
<line x1="296.01" y1="677.15" x2="292.48" y2="568.28" stroke="#e3e3e3" stroke-width="0.5" />
<line x1="296.01" y1="677.15" x2="384.57" y2="722.07" stroke="#e3e3e3" stroke-width="0.5" />
<line x1="303.59" y1="672.87" x2="300.77" y2="565.87" stroke="#e3e3e3" stroke-width="0.5" />
<line x1="303.59" y1="672.87" x2="391.68" y2="716.89" stroke="#e3e3e3" stroke-width="0.5" />
<line x1="311.17" y1="668.6" x2="309.05" y2="563.46" stroke="#e3e3e3" stroke-width="0.5" />
<line x1="311.17" y1="668.6" x2="398.79" y2="711.72" stroke="#e3e3e3" stroke-width="0.5" />
<line x1="318.75" y1="664.33" x2="317.34" y2="561.06" stroke="#e3e3e3" stroke-width="0.5" />
<line x1="318.75" y1="664.33" x2="405.91" y2="706.54" stroke="#e3e3e3" stroke-width="0.5" />
<line x1="326.33" y1="660.06" x2="325.62" y2="558.65" stroke="#e3e3e3" stroke-width="0.5" />
<line x1="326.33" y1="660.06" x2="413.02" y2="701.36" stroke="#e3e3e3" stroke-width="0.5" />
<line x1="352.65" y1="664.57" x2="354.45" y2="560.85" stroke="#e3e3e3" stroke-width="0.5" />
<line x1="352.65" y1="664.57" x2="277.88" y2="709.25" stroke="#e3e3e3" stroke-width="0.5" />
<line x1="371.4" y1="673.35" x2="375" y2="565.45" stroke="#e3e3e3" stroke-width="0.5" />
<line x1="371.4" y1="673.35" x2="297.63" y2="720" stroke="#e3e3e3" stroke-width="0.5" />
<line x1="390.14" y1="682.14" x2="395.54" y2="570.06" stroke="#e3e3e3" stroke-width="0.5" />
<line x1="390.14" y1="682.14" x2="317.39" y2="730.75" stroke="#e3e3e3" stroke-width="0.5" />
<line x1="408.89" y1="690.92" x2="416.09" y2="574.67" stroke="#e3e3e3" stroke-width="0.5" />
<line x1="408.89" y1="690.92" x2="337.15" y2="741.5" stroke="#e3e3e3" stroke-width="0.5" />
<line x1="428.29" y1="579.3" x2="333.91" y2="557.8" stroke="#e3e3e3" stroke-width="0.5" />
<line x1="251.17" y1="582.18" x2="333.91" y2="557.8" stroke="#e3e3e3" stroke-width="0.5" />
<line x1="426.52" y1="604.6" x2="333.91" y2="579.01" stroke="#e3e3e3" stroke-width="0.5" />
<line x1="252.67" y1="607.36" x2="333.91" y2="579.01" stroke="#e3e3e3" stroke-width="0.5" />
<line x1="424.87" y1="628.3" x2="333.91" y2="598.88" stroke="#e3e3e3" stroke-width="0.5" />
<line x1="254.08" y1="630.94" x2="333.91" y2="598.88" stroke="#e3e3e3" stroke-width="0.5" />
<line x1="423.18" y1="652.48" x2="333.91" y2="619.15" stroke="#e3e3e3" stroke-width="0.5" />
<line x1="255.52" y1="655.01" x2="333.91" y2="619.15" stroke="#e3e3e3" stroke-width="0.5" />
<line x1="421.72" y1="673.48" x2="333.91" y2="636.76" stroke="#e3e3e3" stroke-width="0.5" />
<line x1="256.77" y1="675.91" x2="333.91" y2="636.76" stroke="#e3e3e3" stroke-width="0.5" />
<line x1="251.06" y1="580.32" x2="333.91" y2="556.24" stroke="#aaa" stroke-width="0.6" />
<line x1="333.91" y1="556.24" x2="428.42" y2="577.43" stroke="#aaa" stroke-width="0.6" />
<line x1="333.91" y1="655.79" x2="333.91" y2="556.24" stroke="#aaa" stroke-width="0.6" />
<line x1="258.12" y1="698.5" x2="333.91" y2="655.79" stroke="#aaa" stroke-width="0.6" />
<line x1="333.91" y1="655.79" x2="420.13" y2="696.19" stroke="#aaa" stroke-width="0.6" />
<line x1="258.12" y1="698.5" x2="251.06" y2="580.32" stroke="#888" stroke-width="0.6" stroke-dasharray="2 1.5"/>
<line x1="258.12" y1="698.5" x2="349" y2="747.95" stroke="#222" stroke-width="0.9" />
<line x1="349" y1="747.95" x2="420.13" y2="696.19" stroke="#222" stroke-width="0.9" />
<line x1="420.13" y1="696.19" x2="428.42" y2="577.43" stroke="#222" stroke-width="0.9" />
<line x1="428.29" y1="579.3" x2="426.09" y2="579.9" stroke="#222" stroke-width="0.8" />
<text x="430.89" y="582.3" font-size="8.4" font-weight="bold" text-anchor="start" fill="#111" >5</text>
<line x1="426.52" y1="604.6" x2="424.32" y2="605.2" stroke="#222" stroke-width="0.8" />
<text x="429.12" y="607.6" font-size="8.4" font-weight="bold" text-anchor="start" fill="#111" >4</text>
<line x1="424.87" y1="628.3" x2="422.67" y2="628.9" stroke="#222" stroke-width="0.8" />
<text x="427.47" y="631.3" font-size="8.4" font-weight="bold" text-anchor="start" fill="#111" >3</text>
<line x1="423.18" y1="652.48" x2="420.98" y2="653.08" stroke="#222" stroke-width="0.8" />
<text x="425.78" y="655.48" font-size="8.4" font-weight="bold" text-anchor="start" fill="#111" >2</text>
<line x1="421.72" y1="673.48" x2="419.52" y2="674.08" stroke="#222" stroke-width="0.8" />
<text x="424.32" y="676.48" font-size="8.4" font-weight="bold" text-anchor="start" fill="#111" >1</text>
<line x1="420.17" y1="695.58" x2="417.97" y2="696.18" stroke="#222" stroke-width="0.8" />
<text x="422.77" y="698.58" font-size="8.4" font-weight="bold" text-anchor="start" fill="#111" >0</text>
<text x="443.4" y="636.2" font-size="9.6" font-weight="bold" text-anchor="middle" fill="#111" transform="rotate(-90 443.4 636.2)" >-Z'' (Reactance) / MΩ</text>
<text x="255.87" y="711.68" font-size="9" font-weight="bold" text-anchor="middle" fill="#111" transform="rotate(25 255.87 711.68)" >5</text>
<line x1="261.24" y1="700.2" x2="260.04" y2="702.4" stroke="#222" stroke-width="0.8" />
<text x="263.26" y="714.89" font-size="9" font-weight="bold" text-anchor="middle" fill="#111" transform="rotate(25 263.26 714.89)" >4</text>
<line x1="270.15" y1="705.05" x2="268.95" y2="707.25" stroke="#222" stroke-width="0.8" />
<text x="270.97" y="719.06" font-size="9" font-weight="bold" text-anchor="middle" fill="#111" transform="rotate(25 270.97 719.06)" >3</text>
<line x1="279.06" y1="709.89" x2="277.86" y2="712.09" stroke="#222" stroke-width="0.8" />
<text x="278.99" y="723.56" font-size="9" font-weight="bold" text-anchor="middle" fill="#111" transform="rotate(25 278.99 723.56)" >2</text>
<line x1="287.97" y1="714.74" x2="286.77" y2="716.94" stroke="#222" stroke-width="0.8" />
<text x="287.02" y="727.73" font-size="9" font-weight="bold" text-anchor="middle" fill="#111" transform="rotate(25 287.02 727.73)" >1</text>
<line x1="296.88" y1="719.59" x2="295.68" y2="721.79" stroke="#222" stroke-width="0.8" />
<text x="295.37" y="731.91" font-size="9" font-weight="bold" text-anchor="middle" fill="#111" transform="rotate(25 295.37 731.91)" >0</text>
<line x1="305.79" y1="724.44" x2="304.59" y2="726.64" stroke="#222" stroke-width="0.8" />
<text x="304.04" y="736.72" font-size="9" font-weight="bold" text-anchor="middle" fill="#111" transform="rotate(25 304.04 736.72)" >-1</text>
<line x1="314.7" y1="729.29" x2="313.5" y2="731.49" stroke="#222" stroke-width="0.8" />
<text x="313.68" y="740.58" font-size="9" font-weight="bold" text-anchor="middle" fill="#111" transform="rotate(25 313.68 740.58)" >-2</text>
<line x1="323.61" y1="734.14" x2="322.41" y2="736.34" stroke="#222" stroke-width="0.8" />
<text x="323.31" y="745.4" font-size="9" font-weight="bold" text-anchor="middle" fill="#111" transform="rotate(25 323.31 745.4)" >-3</text>
<line x1="332.52" y1="738.98" x2="331.32" y2="741.18" stroke="#222" stroke-width="0.8" />
<text x="332.94" y="751.18" font-size="9" font-weight="bold" text-anchor="middle" fill="#111" transform="rotate(25 332.94 751.18)" >-4</text>
<line x1="341.43" y1="743.83" x2="340.23" y2="746.03" stroke="#222" stroke-width="0.8" />
<text x="283.17" y="740.68" font-size="9.7" font-weight="bold" text-anchor="middle" fill="#111" transform="rotate(28 283.17 740.68)" >Voltage (V)</text>
<text x="358.64" y="751.82" font-size="9" font-weight="bold" text-anchor="middle" fill="#111" transform="rotate(-36 358.64 751.82)" >0</text>
<text x="375.33" y="740.58" font-size="9" font-weight="bold" text-anchor="middle" fill="#111" transform="rotate(-36 375.33 740.58)" >1</text>
<text x="391.39" y="728.38" font-size="9" font-weight="bold" text-anchor="middle" fill="#111" transform="rotate(-36 391.39 728.38)" >2</text>
<text x="406.16" y="718.1" font-size="9" font-weight="bold" text-anchor="middle" fill="#111" transform="rotate(-36 406.16 718.1)" >3</text>
<text x="418.04" y="708.47" font-size="9" font-weight="bold" text-anchor="middle" fill="#111" transform="rotate(-36 418.04 708.47)" >4</text>
<line x1="353.98" y1="744.33" x2="355.18" y2="746.53" stroke="#222" stroke-width="0.8" />
<line x1="370.34" y1="732.42" x2="371.54" y2="734.62" stroke="#222" stroke-width="0.8" />
<line x1="385.99" y1="721.04" x2="387.19" y2="723.24" stroke="#222" stroke-width="0.8" />
<line x1="400.93" y1="710.17" x2="402.13" y2="712.37" stroke="#222" stroke-width="0.8" />
<line x1="414.44" y1="700.33" x2="415.64" y2="702.53" stroke="#222" stroke-width="0.8" />
<text x="404.24" y="736.82" font-size="9.2" font-weight="bold" text-anchor="middle" fill="#111" transform="rotate(-36.5 404.24 736.82)" >Z' (Resistance) / MΩ</text>
<defs><radialGradient id="rb" cx="0.35" cy="0.35" r="0.7"><stop offset="0" stop-color="#e46060"/><stop offset="0.55" stop-color="#b82424"/><stop offset="1" stop-color="#7a0e0e"/></radialGradient></defs>
<polyline points="266.47,694.33 266.47,692.08 266.47,690.15 266.79,687.9 266.79,685.33 267.11,682.44 267.43,678.27 268.4,672.81 270,667.03 272.25,660.61 275.14,654.18 278.35,648.4 282.53,643.91 289.59,638.13 295.69,636.52 302.44,630.1 319.14,577.11" fill="none" stroke="#cc3a3a" stroke-width="0.8" />
<circle cx="266.47" cy="694.33" r="1.85" fill="url(#rb)" stroke="none" stroke-width="1" />
<circle cx="266.47" cy="692.08" r="1.85" fill="url(#rb)" stroke="none" stroke-width="1" />
<circle cx="266.47" cy="690.15" r="1.85" fill="url(#rb)" stroke="none" stroke-width="1" />
<circle cx="266.79" cy="687.9" r="1.85" fill="url(#rb)" stroke="none" stroke-width="1" />
<circle cx="266.79" cy="685.33" r="1.85" fill="url(#rb)" stroke="none" stroke-width="1" />
<circle cx="267.11" cy="682.44" r="1.85" fill="url(#rb)" stroke="none" stroke-width="1" />
<circle cx="267.43" cy="678.27" r="1.85" fill="url(#rb)" stroke="none" stroke-width="1" />
<circle cx="268.4" cy="672.81" r="1.85" fill="url(#rb)" stroke="none" stroke-width="1" />
<circle cx="270" cy="667.03" r="1.85" fill="url(#rb)" stroke="none" stroke-width="1" />
<circle cx="272.25" cy="660.61" r="1.85" fill="url(#rb)" stroke="none" stroke-width="1" />
<circle cx="275.14" cy="654.18" r="1.85" fill="url(#rb)" stroke="none" stroke-width="1" />
<circle cx="278.35" cy="648.4" r="1.85" fill="url(#rb)" stroke="none" stroke-width="1" />
<circle cx="282.53" cy="643.91" r="1.85" fill="url(#rb)" stroke="none" stroke-width="1" />
<circle cx="289.59" cy="638.13" r="1.85" fill="url(#rb)" stroke="none" stroke-width="1" />
<circle cx="295.69" cy="636.52" r="1.85" fill="url(#rb)" stroke="none" stroke-width="1" />
<circle cx="302.44" cy="630.1" r="1.85" fill="url(#rb)" stroke="none" stroke-width="1" />
<circle cx="319.14" cy="577.11" r="1.85" fill="url(#rb)" stroke="none" stroke-width="1" />
<polyline points="274.18,697.54 274.18,695.29 274.18,693.36 274.5,691.11 274.5,688.55 274.82,685.33 275.14,681.48 276.1,675.06 277.39,668.64 279.64,661.25 282.53,654.83 285.74,650.01 294.73,640.7 301.47,631.06 308.86,619.5 325.88,573.26" fill="none" stroke="#cc3a3a" stroke-width="0.8" />
<circle cx="274.18" cy="697.54" r="1.85" fill="url(#rb)" stroke="none" stroke-width="1" />
<circle cx="274.18" cy="695.29" r="1.85" fill="url(#rb)" stroke="none" stroke-width="1" />
<circle cx="274.18" cy="693.36" r="1.85" fill="url(#rb)" stroke="none" stroke-width="1" />
<circle cx="274.5" cy="691.11" r="1.85" fill="url(#rb)" stroke="none" stroke-width="1" />
<circle cx="274.5" cy="688.55" r="1.85" fill="url(#rb)" stroke="none" stroke-width="1" />
<circle cx="274.82" cy="685.33" r="1.85" fill="url(#rb)" stroke="none" stroke-width="1" />
<circle cx="275.14" cy="681.48" r="1.85" fill="url(#rb)" stroke="none" stroke-width="1" />
<circle cx="276.1" cy="675.06" r="1.85" fill="url(#rb)" stroke="none" stroke-width="1" />
<circle cx="277.39" cy="668.64" r="1.85" fill="url(#rb)" stroke="none" stroke-width="1" />
<circle cx="279.64" cy="661.25" r="1.85" fill="url(#rb)" stroke="none" stroke-width="1" />
<circle cx="282.53" cy="654.83" r="1.85" fill="url(#rb)" stroke="none" stroke-width="1" />
<circle cx="285.74" cy="650.01" r="1.85" fill="url(#rb)" stroke="none" stroke-width="1" />
<circle cx="294.73" cy="640.7" r="1.85" fill="url(#rb)" stroke="none" stroke-width="1" />
<circle cx="301.47" cy="631.06" r="1.85" fill="url(#rb)" stroke="none" stroke-width="1" />
<circle cx="308.86" cy="619.5" r="1.85" fill="url(#rb)" stroke="none" stroke-width="1" />
<circle cx="325.88" cy="573.26" r="1.85" fill="url(#rb)" stroke="none" stroke-width="1" />
<polyline points="282.21,701.39 282.21,699.14 282.21,696.89 282.53,694.65 282.53,692.08 282.85,688.87 283.17,684.69 284.13,677.31 285.42,670.24 287.34,662.85 289.59,656.43 294.73,645.51 300.51,633.95 306.29,615.65 333.27,570.05" fill="none" stroke="#cc3a3a" stroke-width="0.8" />
<circle cx="282.21" cy="701.39" r="1.85" fill="url(#rb)" stroke="none" stroke-width="1" />
<circle cx="282.21" cy="699.14" r="1.85" fill="url(#rb)" stroke="none" stroke-width="1" />
<circle cx="282.21" cy="696.89" r="1.85" fill="url(#rb)" stroke="none" stroke-width="1" />
<circle cx="282.53" cy="694.65" r="1.85" fill="url(#rb)" stroke="none" stroke-width="1" />
<circle cx="282.53" cy="692.08" r="1.85" fill="url(#rb)" stroke="none" stroke-width="1" />
<circle cx="282.85" cy="688.87" r="1.85" fill="url(#rb)" stroke="none" stroke-width="1" />
<circle cx="283.17" cy="684.69" r="1.85" fill="url(#rb)" stroke="none" stroke-width="1" />
<circle cx="284.13" cy="677.31" r="1.85" fill="url(#rb)" stroke="none" stroke-width="1" />
<circle cx="285.42" cy="670.24" r="1.85" fill="url(#rb)" stroke="none" stroke-width="1" />
<circle cx="287.34" cy="662.85" r="1.85" fill="url(#rb)" stroke="none" stroke-width="1" />
<circle cx="289.59" cy="656.43" r="1.85" fill="url(#rb)" stroke="none" stroke-width="1" />
<circle cx="294.73" cy="645.51" r="1.85" fill="url(#rb)" stroke="none" stroke-width="1" />
<circle cx="300.51" cy="633.95" r="1.85" fill="url(#rb)" stroke="none" stroke-width="1" />
<circle cx="306.29" cy="615.65" r="1.85" fill="url(#rb)" stroke="none" stroke-width="1" />
<circle cx="333.27" cy="570.05" r="1.85" fill="url(#rb)" stroke="none" stroke-width="1" />
<polyline points="290.23,705.57 290.23,703.32 290.23,701.07 290.56,698.5 290.56,695.93 290.88,692.72 291.2,688.55 291.84,681.48 293.12,673.45 294.09,664.78 295.05,656.75 296.34,648.4 303.72,643.27 307.25,621.43 331.34,588.35" fill="none" stroke="#cc3a3a" stroke-width="0.8" />
<circle cx="290.23" cy="705.57" r="1.85" fill="url(#rb)" stroke="none" stroke-width="1" />
<circle cx="290.23" cy="703.32" r="1.85" fill="url(#rb)" stroke="none" stroke-width="1" />
<circle cx="290.23" cy="701.07" r="1.85" fill="url(#rb)" stroke="none" stroke-width="1" />
<circle cx="290.56" cy="698.5" r="1.85" fill="url(#rb)" stroke="none" stroke-width="1" />
<circle cx="290.56" cy="695.93" r="1.85" fill="url(#rb)" stroke="none" stroke-width="1" />
<circle cx="290.88" cy="692.72" r="1.85" fill="url(#rb)" stroke="none" stroke-width="1" />
<circle cx="291.2" cy="688.55" r="1.85" fill="url(#rb)" stroke="none" stroke-width="1" />
<circle cx="291.84" cy="681.48" r="1.85" fill="url(#rb)" stroke="none" stroke-width="1" />
<circle cx="293.12" cy="673.45" r="1.85" fill="url(#rb)" stroke="none" stroke-width="1" />
<circle cx="294.09" cy="664.78" r="1.85" fill="url(#rb)" stroke="none" stroke-width="1" />
<circle cx="295.05" cy="656.75" r="1.85" fill="url(#rb)" stroke="none" stroke-width="1" />
<circle cx="296.34" cy="648.4" r="1.85" fill="url(#rb)" stroke="none" stroke-width="1" />
<circle cx="303.72" cy="643.27" r="1.85" fill="url(#rb)" stroke="none" stroke-width="1" />
<circle cx="307.25" cy="621.43" r="1.85" fill="url(#rb)" stroke="none" stroke-width="1" />
<circle cx="331.34" cy="588.35" r="1.85" fill="url(#rb)" stroke="none" stroke-width="1" />
<polyline points="298.58,709.74 298.58,707.49 298.58,705.24 298.9,702.68 298.9,700.11 299.23,696.89 299.55,692.08 300.51,683.73 301.47,675.06 302.44,666.39 303.4,656.75 304.69,643.91 305.97,631.06 319.78,627.21 328.77,619.5" fill="none" stroke="#cc3a3a" stroke-width="0.8" />
<circle cx="298.58" cy="709.74" r="1.85" fill="url(#rb)" stroke="none" stroke-width="1" />
<circle cx="298.58" cy="707.49" r="1.85" fill="url(#rb)" stroke="none" stroke-width="1" />
<circle cx="298.58" cy="705.24" r="1.85" fill="url(#rb)" stroke="none" stroke-width="1" />
<circle cx="298.9" cy="702.68" r="1.85" fill="url(#rb)" stroke="none" stroke-width="1" />
<circle cx="298.9" cy="700.11" r="1.85" fill="url(#rb)" stroke="none" stroke-width="1" />
<circle cx="299.23" cy="696.89" r="1.85" fill="url(#rb)" stroke="none" stroke-width="1" />
<circle cx="299.55" cy="692.08" r="1.85" fill="url(#rb)" stroke="none" stroke-width="1" />
<circle cx="300.51" cy="683.73" r="1.85" fill="url(#rb)" stroke="none" stroke-width="1" />
<circle cx="301.47" cy="675.06" r="1.85" fill="url(#rb)" stroke="none" stroke-width="1" />
<circle cx="302.44" cy="666.39" r="1.85" fill="url(#rb)" stroke="none" stroke-width="1" />
<circle cx="303.4" cy="656.75" r="1.85" fill="url(#rb)" stroke="none" stroke-width="1" />
<circle cx="304.69" cy="643.91" r="1.85" fill="url(#rb)" stroke="none" stroke-width="1" />
<circle cx="305.97" cy="631.06" r="1.85" fill="url(#rb)" stroke="none" stroke-width="1" />
<circle cx="319.78" cy="627.21" r="1.85" fill="url(#rb)" stroke="none" stroke-width="1" />
<circle cx="328.77" cy="619.5" r="1.85" fill="url(#rb)" stroke="none" stroke-width="1" />
<polyline points="307.58,713.59 307.58,711.35 307.58,709.1 307.9,706.53 307.9,703.96 308.22,700.43 308.54,694.65 309.5,685.01 311.11,675.06 313.03,662.21 314.96,648.4 319.78,627.85 331.34,588.35" fill="none" stroke="#cc3a3a" stroke-width="0.8" />
<circle cx="307.58" cy="713.59" r="1.85" fill="url(#rb)" stroke="none" stroke-width="1" />
<circle cx="307.58" cy="711.35" r="1.85" fill="url(#rb)" stroke="none" stroke-width="1" />
<circle cx="307.58" cy="709.1" r="1.85" fill="url(#rb)" stroke="none" stroke-width="1" />
<circle cx="307.9" cy="706.53" r="1.85" fill="url(#rb)" stroke="none" stroke-width="1" />
<circle cx="307.9" cy="703.96" r="1.85" fill="url(#rb)" stroke="none" stroke-width="1" />
<circle cx="308.22" cy="700.43" r="1.85" fill="url(#rb)" stroke="none" stroke-width="1" />
<circle cx="308.54" cy="694.65" r="1.85" fill="url(#rb)" stroke="none" stroke-width="1" />
<circle cx="309.5" cy="685.01" r="1.85" fill="url(#rb)" stroke="none" stroke-width="1" />
<circle cx="311.11" cy="675.06" r="1.85" fill="url(#rb)" stroke="none" stroke-width="1" />
<circle cx="313.03" cy="662.21" r="1.85" fill="url(#rb)" stroke="none" stroke-width="1" />
<circle cx="314.96" cy="648.4" r="1.85" fill="url(#rb)" stroke="none" stroke-width="1" />
<circle cx="319.78" cy="627.85" r="1.85" fill="url(#rb)" stroke="none" stroke-width="1" />
<circle cx="331.34" cy="588.35" r="1.85" fill="url(#rb)" stroke="none" stroke-width="1" />
<polyline points="316.89,718.41 316.89,716.16 316.89,713.91 317.21,711.35 317.21,708.46 317.53,704.92 317.85,698.5 319.14,688.55 321.06,677.31 323.31,664.46 326.52,650.01 331.34,627.21 345.79,585.78" fill="none" stroke="#cc3a3a" stroke-width="0.8" />
<circle cx="316.89" cy="718.41" r="1.85" fill="url(#rb)" stroke="none" stroke-width="1" />
<circle cx="316.89" cy="716.16" r="1.85" fill="url(#rb)" stroke="none" stroke-width="1" />
<circle cx="316.89" cy="713.91" r="1.85" fill="url(#rb)" stroke="none" stroke-width="1" />
<circle cx="317.21" cy="711.35" r="1.85" fill="url(#rb)" stroke="none" stroke-width="1" />
<circle cx="317.21" cy="708.46" r="1.85" fill="url(#rb)" stroke="none" stroke-width="1" />
<circle cx="317.53" cy="704.92" r="1.85" fill="url(#rb)" stroke="none" stroke-width="1" />
<circle cx="317.85" cy="698.5" r="1.85" fill="url(#rb)" stroke="none" stroke-width="1" />
<circle cx="319.14" cy="688.55" r="1.85" fill="url(#rb)" stroke="none" stroke-width="1" />
<circle cx="321.06" cy="677.31" r="1.85" fill="url(#rb)" stroke="none" stroke-width="1" />
<circle cx="323.31" cy="664.46" r="1.85" fill="url(#rb)" stroke="none" stroke-width="1" />
<circle cx="326.52" cy="650.01" r="1.85" fill="url(#rb)" stroke="none" stroke-width="1" />
<circle cx="331.34" cy="627.21" r="1.85" fill="url(#rb)" stroke="none" stroke-width="1" />
<circle cx="345.79" cy="585.78" r="1.85" fill="url(#rb)" stroke="none" stroke-width="1" />
<polyline points="326.52,722.59 326.52,720.34 326.52,718.09 326.84,715.52 326.84,712.63 327.16,708.78 327.81,703 329.09,693.68 331.34,683.09 335.19,669.28 340.33,656.11 349,632.67 369.87,590.92" fill="none" stroke="#cc3a3a" stroke-width="0.8" />
<circle cx="326.52" cy="722.59" r="1.85" fill="url(#rb)" stroke="none" stroke-width="1" />
<circle cx="326.52" cy="720.34" r="1.85" fill="url(#rb)" stroke="none" stroke-width="1" />
<circle cx="326.52" cy="718.09" r="1.85" fill="url(#rb)" stroke="none" stroke-width="1" />
<circle cx="326.84" cy="715.52" r="1.85" fill="url(#rb)" stroke="none" stroke-width="1" />
<circle cx="326.84" cy="712.63" r="1.85" fill="url(#rb)" stroke="none" stroke-width="1" />
<circle cx="327.16" cy="708.78" r="1.85" fill="url(#rb)" stroke="none" stroke-width="1" />
<circle cx="327.81" cy="703" r="1.85" fill="url(#rb)" stroke="none" stroke-width="1" />
<circle cx="329.09" cy="693.68" r="1.85" fill="url(#rb)" stroke="none" stroke-width="1" />
<circle cx="331.34" cy="683.09" r="1.85" fill="url(#rb)" stroke="none" stroke-width="1" />
<circle cx="335.19" cy="669.28" r="1.85" fill="url(#rb)" stroke="none" stroke-width="1" />
<circle cx="340.33" cy="656.11" r="1.85" fill="url(#rb)" stroke="none" stroke-width="1" />
<circle cx="349" cy="632.67" r="1.85" fill="url(#rb)" stroke="none" stroke-width="1" />
<circle cx="369.87" cy="590.92" r="1.85" fill="url(#rb)" stroke="none" stroke-width="1" />
<polyline points="336.8,728.04 336.8,725.8 336.8,723.55 337.12,720.98 337.12,718.09 337.44,714.56 338.08,709.42 339.37,701.71 341.29,692.08 344.51,681.48 349,671.85 353.82,658.04 365.06,638.13 389.78,613.08" fill="none" stroke="#cc3a3a" stroke-width="0.8" />
<circle cx="336.8" cy="728.04" r="1.85" fill="url(#rb)" stroke="none" stroke-width="1" />
<circle cx="336.8" cy="725.8" r="1.85" fill="url(#rb)" stroke="none" stroke-width="1" />
<circle cx="336.8" cy="723.55" r="1.85" fill="url(#rb)" stroke="none" stroke-width="1" />
<circle cx="337.12" cy="720.98" r="1.85" fill="url(#rb)" stroke="none" stroke-width="1" />
<circle cx="337.12" cy="718.09" r="1.85" fill="url(#rb)" stroke="none" stroke-width="1" />
<circle cx="337.44" cy="714.56" r="1.85" fill="url(#rb)" stroke="none" stroke-width="1" />
<circle cx="338.08" cy="709.42" r="1.85" fill="url(#rb)" stroke="none" stroke-width="1" />
<circle cx="339.37" cy="701.71" r="1.85" fill="url(#rb)" stroke="none" stroke-width="1" />
<circle cx="341.29" cy="692.08" r="1.85" fill="url(#rb)" stroke="none" stroke-width="1" />
<circle cx="344.51" cy="681.48" r="1.85" fill="url(#rb)" stroke="none" stroke-width="1" />
<circle cx="349" cy="671.85" r="1.85" fill="url(#rb)" stroke="none" stroke-width="1" />
<circle cx="353.82" cy="658.04" r="1.85" fill="url(#rb)" stroke="none" stroke-width="1" />
<circle cx="365.06" cy="638.13" r="1.85" fill="url(#rb)" stroke="none" stroke-width="1" />
<circle cx="389.78" cy="613.08" r="1.85" fill="url(#rb)" stroke="none" stroke-width="1" />
<polyline points="346.43,735.11 346.43,732.86 346.43,730.61 346.75,728.04 346.75,725.15 347.07,720.98 348.04,713.27 349.96,703.96 352.85,694.33 356.71,684.69 361.85,676.02 368.27,664.78 380.47,650.97 401.35,639.41" fill="none" stroke="#cc3a3a" stroke-width="0.8" />
<circle cx="346.43" cy="735.11" r="1.85" fill="url(#rb)" stroke="none" stroke-width="1" />
<circle cx="346.43" cy="732.86" r="1.85" fill="url(#rb)" stroke="none" stroke-width="1" />
<circle cx="346.43" cy="730.61" r="1.85" fill="url(#rb)" stroke="none" stroke-width="1" />
<circle cx="346.75" cy="728.04" r="1.85" fill="url(#rb)" stroke="none" stroke-width="1" />
<circle cx="346.75" cy="725.15" r="1.85" fill="url(#rb)" stroke="none" stroke-width="1" />
<circle cx="347.07" cy="720.98" r="1.85" fill="url(#rb)" stroke="none" stroke-width="1" />
<circle cx="348.04" cy="713.27" r="1.85" fill="url(#rb)" stroke="none" stroke-width="1" />
<circle cx="349.96" cy="703.96" r="1.85" fill="url(#rb)" stroke="none" stroke-width="1" />
<circle cx="352.85" cy="694.33" r="1.85" fill="url(#rb)" stroke="none" stroke-width="1" />
<circle cx="356.71" cy="684.69" r="1.85" fill="url(#rb)" stroke="none" stroke-width="1" />
<circle cx="361.85" cy="676.02" r="1.85" fill="url(#rb)" stroke="none" stroke-width="1" />
<circle cx="368.27" cy="664.78" r="1.85" fill="url(#rb)" stroke="none" stroke-width="1" />
<circle cx="380.47" cy="650.97" r="1.85" fill="url(#rb)" stroke="none" stroke-width="1" />
<circle cx="401.35" cy="639.41" r="1.85" fill="url(#rb)" stroke="none" stroke-width="1" />
<rect x="461.4" y="549.5" width="3.3" height="16" fill="#000" stroke="none" stroke-width="1" />
<polyline points="508.8,716.65 545.15,716.05 581.5,717.26 617.85,716.65 654.2,716.65" fill="none" stroke="#000000" stroke-width="0.95" />
<circle cx="508.8" cy="716.65" r="2.2" fill="#000000" stroke="none" stroke-width="1" />
<circle cx="508.2" cy="716.05" r="0.65" fill="#fff" stroke="none" stroke-width="0" opacity="0.6"/>
<circle cx="545.15" cy="716.05" r="2.2" fill="#000000" stroke="none" stroke-width="1" />
<circle cx="544.55" cy="715.45" r="0.65" fill="#fff" stroke="none" stroke-width="0" opacity="0.6"/>
<circle cx="581.5" cy="717.26" r="2.2" fill="#000000" stroke="none" stroke-width="1" />
<circle cx="580.9" cy="716.66" r="0.65" fill="#fff" stroke="none" stroke-width="0" opacity="0.6"/>
<circle cx="617.85" cy="716.65" r="2.2" fill="#000000" stroke="none" stroke-width="1" />
<circle cx="617.25" cy="716.05" r="0.65" fill="#fff" stroke="none" stroke-width="0" opacity="0.6"/>
<circle cx="654.2" cy="716.65" r="2.2" fill="#000000" stroke="none" stroke-width="1" />
<circle cx="653.6" cy="716.05" r="0.65" fill="#fff" stroke="none" stroke-width="0" opacity="0.6"/>
<polyline points="508.8,716.65 545.15,661.46 581.5,680.87 617.85,688.15 654.2,691.79" fill="none" stroke="#c9cdc9" stroke-width="0.95" />
<circle cx="508.8" cy="716.65" r="2.2" fill="#c9cdc9" stroke="none" stroke-width="1" />
<circle cx="508.2" cy="716.05" r="0.65" fill="#fff" stroke="none" stroke-width="0" opacity="0.6"/>
<circle cx="545.15" cy="661.46" r="2.2" fill="#c9cdc9" stroke="none" stroke-width="1" />
<circle cx="544.55" cy="660.86" r="0.65" fill="#fff" stroke="none" stroke-width="0" opacity="0.6"/>
<circle cx="581.5" cy="680.87" r="2.2" fill="#c9cdc9" stroke="none" stroke-width="1" />
<circle cx="580.9" cy="680.27" r="0.65" fill="#fff" stroke="none" stroke-width="0" opacity="0.6"/>
<circle cx="617.85" cy="688.15" r="2.2" fill="#c9cdc9" stroke="none" stroke-width="1" />
<circle cx="617.25" cy="687.55" r="0.65" fill="#fff" stroke="none" stroke-width="0" opacity="0.6"/>
<circle cx="654.2" cy="691.79" r="2.2" fill="#c9cdc9" stroke="none" stroke-width="1" />
<circle cx="653.6" cy="691.19" r="0.65" fill="#fff" stroke="none" stroke-width="0" opacity="0.6"/>
<polyline points="508.8,716.65 545.15,714.83 581.5,663.89 617.85,667.53 654.2,696.64" fill="none" stroke="#68b2e4" stroke-width="0.95" />
<circle cx="508.8" cy="716.65" r="2.2" fill="#68b2e4" stroke="none" stroke-width="1" />
<circle cx="508.2" cy="716.05" r="0.65" fill="#fff" stroke="none" stroke-width="0" opacity="0.6"/>
<circle cx="545.15" cy="714.83" r="2.2" fill="#68b2e4" stroke="none" stroke-width="1" />
<circle cx="544.55" cy="714.23" r="0.65" fill="#fff" stroke="none" stroke-width="0" opacity="0.6"/>
<circle cx="581.5" cy="663.89" r="2.2" fill="#68b2e4" stroke="none" stroke-width="1" />
<circle cx="580.9" cy="663.29" r="0.65" fill="#fff" stroke="none" stroke-width="0" opacity="0.6"/>
<circle cx="617.85" cy="667.53" r="2.2" fill="#68b2e4" stroke="none" stroke-width="1" />
<circle cx="617.25" cy="666.93" r="0.65" fill="#fff" stroke="none" stroke-width="0" opacity="0.6"/>
<circle cx="654.2" cy="696.64" r="2.2" fill="#68b2e4" stroke="none" stroke-width="1" />
<circle cx="653.6" cy="696.04" r="0.65" fill="#fff" stroke="none" stroke-width="0" opacity="0.6"/>
<polyline points="508.8,716.65 545.15,716.05 581.5,715.44 617.85,663.89 654.2,672.38" fill="none" stroke="#1414e6" stroke-width="0.95" />
<circle cx="508.8" cy="716.65" r="2.2" fill="#1414e6" stroke="none" stroke-width="1" />
<circle cx="508.2" cy="716.05" r="0.65" fill="#fff" stroke="none" stroke-width="0" opacity="0.6"/>
<circle cx="545.15" cy="716.05" r="2.2" fill="#1414e6" stroke="none" stroke-width="1" />
<circle cx="544.55" cy="715.45" r="0.65" fill="#fff" stroke="none" stroke-width="0" opacity="0.6"/>
<circle cx="581.5" cy="715.44" r="2.2" fill="#1414e6" stroke="none" stroke-width="1" />
<circle cx="580.9" cy="714.84" r="0.65" fill="#fff" stroke="none" stroke-width="0" opacity="0.6"/>
<circle cx="617.85" cy="663.89" r="2.2" fill="#1414e6" stroke="none" stroke-width="1" />
<circle cx="617.25" cy="663.29" r="0.65" fill="#fff" stroke="none" stroke-width="0" opacity="0.6"/>
<circle cx="654.2" cy="672.38" r="2.2" fill="#1414e6" stroke="none" stroke-width="1" />
<circle cx="653.6" cy="671.78" r="0.65" fill="#fff" stroke="none" stroke-width="0" opacity="0.6"/>
<polyline points="508.8,716.65 545.15,716.05 581.5,717.87 617.85,716.65 654.2,665.1" fill="none" stroke="#12e6f0" stroke-width="0.95" />
<circle cx="508.8" cy="716.65" r="2.2" fill="#12e6f0" stroke="none" stroke-width="1" />
<circle cx="508.2" cy="716.05" r="0.65" fill="#fff" stroke="none" stroke-width="0" opacity="0.6"/>
<circle cx="545.15" cy="716.05" r="2.2" fill="#12e6f0" stroke="none" stroke-width="1" />
<circle cx="544.55" cy="715.45" r="0.65" fill="#fff" stroke="none" stroke-width="0" opacity="0.6"/>
<circle cx="581.5" cy="717.87" r="2.2" fill="#12e6f0" stroke="none" stroke-width="1" />
<circle cx="580.9" cy="717.27" r="0.65" fill="#fff" stroke="none" stroke-width="0" opacity="0.6"/>
<circle cx="617.85" cy="716.65" r="2.2" fill="#12e6f0" stroke="none" stroke-width="1" />
<circle cx="617.25" cy="716.05" r="0.65" fill="#fff" stroke="none" stroke-width="0" opacity="0.6"/>
<circle cx="654.2" cy="665.1" r="2.2" fill="#12e6f0" stroke="none" stroke-width="1" />
<circle cx="653.6" cy="664.5" r="0.65" fill="#fff" stroke="none" stroke-width="0" opacity="0.6"/>
<polyline points="508.8,716.65 545.15,662.68 581.5,638.42 617.85,657.82 654.2,676.02" fill="none" stroke="#f416e6" stroke-width="0.95" />
<circle cx="508.8" cy="716.65" r="2.2" fill="#f416e6" stroke="none" stroke-width="1" />
<circle cx="508.2" cy="716.05" r="0.65" fill="#fff" stroke="none" stroke-width="0" opacity="0.6"/>
<circle cx="545.15" cy="662.68" r="2.2" fill="#f416e6" stroke="none" stroke-width="1" />
<circle cx="544.55" cy="662.08" r="0.65" fill="#fff" stroke="none" stroke-width="0" opacity="0.6"/>
<circle cx="581.5" cy="638.42" r="2.2" fill="#f416e6" stroke="none" stroke-width="1" />
<circle cx="580.9" cy="637.82" r="0.65" fill="#fff" stroke="none" stroke-width="0" opacity="0.6"/>
<circle cx="617.85" cy="657.82" r="2.2" fill="#f416e6" stroke="none" stroke-width="1" />
<circle cx="617.25" cy="657.22" r="0.65" fill="#fff" stroke="none" stroke-width="0" opacity="0.6"/>
<circle cx="654.2" cy="676.02" r="2.2" fill="#f416e6" stroke="none" stroke-width="1" />
<circle cx="653.6" cy="675.42" r="0.65" fill="#fff" stroke="none" stroke-width="0" opacity="0.6"/>
<polyline points="508.8,716.65 545.15,712.41 581.5,686.33 617.85,663.89 654.2,685.72" fill="none" stroke="#f5ee12" stroke-width="0.95" />
<circle cx="508.8" cy="716.65" r="2.2" fill="#f5ee12" stroke="none" stroke-width="1" />
<circle cx="508.2" cy="716.05" r="0.65" fill="#fff" stroke="none" stroke-width="0" opacity="0.6"/>
<circle cx="545.15" cy="712.41" r="2.2" fill="#f5ee12" stroke="none" stroke-width="1" />
<circle cx="544.55" cy="711.81" r="0.65" fill="#fff" stroke="none" stroke-width="0" opacity="0.6"/>
<circle cx="581.5" cy="686.33" r="2.2" fill="#f5ee12" stroke="none" stroke-width="1" />
<circle cx="580.9" cy="685.73" r="0.65" fill="#fff" stroke="none" stroke-width="0" opacity="0.6"/>
<circle cx="617.85" cy="663.89" r="2.2" fill="#f5ee12" stroke="none" stroke-width="1" />
<circle cx="617.25" cy="663.29" r="0.65" fill="#fff" stroke="none" stroke-width="0" opacity="0.6"/>
<circle cx="654.2" cy="685.72" r="2.2" fill="#f5ee12" stroke="none" stroke-width="1" />
<circle cx="653.6" cy="685.12" r="0.65" fill="#fff" stroke="none" stroke-width="0" opacity="0.6"/>
<polyline points="508.8,716.65 545.15,659.04 581.5,686.94 617.85,692.39 654.2,653.58" fill="none" stroke="#8a8a10" stroke-width="0.95" />
<circle cx="508.8" cy="716.65" r="2.2" fill="#8a8a10" stroke="none" stroke-width="1" />
<circle cx="508.2" cy="716.05" r="0.65" fill="#fff" stroke="none" stroke-width="0" opacity="0.6"/>
<circle cx="545.15" cy="659.04" r="2.2" fill="#8a8a10" stroke="none" stroke-width="1" />
<circle cx="544.55" cy="658.44" r="0.65" fill="#fff" stroke="none" stroke-width="0" opacity="0.6"/>
<circle cx="581.5" cy="686.94" r="2.2" fill="#8a8a10" stroke="none" stroke-width="1" />
<circle cx="580.9" cy="686.34" r="0.65" fill="#fff" stroke="none" stroke-width="0" opacity="0.6"/>
<circle cx="617.85" cy="692.39" r="2.2" fill="#8a8a10" stroke="none" stroke-width="1" />
<circle cx="617.25" cy="691.79" r="0.65" fill="#fff" stroke="none" stroke-width="0" opacity="0.6"/>
<circle cx="654.2" cy="653.58" r="2.2" fill="#8a8a10" stroke="none" stroke-width="1" />
<circle cx="653.6" cy="652.98" r="0.65" fill="#fff" stroke="none" stroke-width="0" opacity="0.6"/>
<polyline points="508.8,716.65 545.15,713.62 581.5,677.23 617.85,648.12 654.2,667.53" fill="none" stroke="#d4607c" stroke-width="0.95" />
<circle cx="508.8" cy="716.65" r="2.2" fill="#d4607c" stroke="none" stroke-width="1" />
<circle cx="508.2" cy="716.05" r="0.65" fill="#fff" stroke="none" stroke-width="0" opacity="0.6"/>
<circle cx="545.15" cy="713.62" r="2.2" fill="#d4607c" stroke="none" stroke-width="1" />
<circle cx="544.55" cy="713.02" r="0.65" fill="#fff" stroke="none" stroke-width="0" opacity="0.6"/>
<circle cx="581.5" cy="677.23" r="2.2" fill="#d4607c" stroke="none" stroke-width="1" />
<circle cx="580.9" cy="676.63" r="0.65" fill="#fff" stroke="none" stroke-width="0" opacity="0.6"/>
<circle cx="617.85" cy="648.12" r="2.2" fill="#d4607c" stroke="none" stroke-width="1" />
<circle cx="617.25" cy="647.52" r="0.65" fill="#fff" stroke="none" stroke-width="0" opacity="0.6"/>
<circle cx="654.2" cy="667.53" r="2.2" fill="#d4607c" stroke="none" stroke-width="1" />
<circle cx="653.6" cy="666.93" r="0.65" fill="#fff" stroke="none" stroke-width="0" opacity="0.6"/>
<polyline points="508.8,716.65 545.15,714.83 581.5,659.04 617.85,686.94 654.2,644.48" fill="none" stroke="#9a149a" stroke-width="0.95" />
<circle cx="508.8" cy="716.65" r="2.2" fill="#9a149a" stroke="none" stroke-width="1" />
<circle cx="508.2" cy="716.05" r="0.65" fill="#fff" stroke="none" stroke-width="0" opacity="0.6"/>
<circle cx="545.15" cy="714.83" r="2.2" fill="#9a149a" stroke="none" stroke-width="1" />
<circle cx="544.55" cy="714.23" r="0.65" fill="#fff" stroke="none" stroke-width="0" opacity="0.6"/>
<circle cx="581.5" cy="659.04" r="2.2" fill="#9a149a" stroke="none" stroke-width="1" />
<circle cx="580.9" cy="658.44" r="0.65" fill="#fff" stroke="none" stroke-width="0" opacity="0.6"/>
<circle cx="617.85" cy="686.94" r="2.2" fill="#9a149a" stroke="none" stroke-width="1" />
<circle cx="617.25" cy="686.34" r="0.65" fill="#fff" stroke="none" stroke-width="0" opacity="0.6"/>
<circle cx="654.2" cy="644.48" r="2.2" fill="#9a149a" stroke="none" stroke-width="1" />
<circle cx="653.6" cy="643.88" r="0.65" fill="#fff" stroke="none" stroke-width="0" opacity="0.6"/>
<polyline points="508.8,716.65 545.15,714.83 581.5,716.05 617.85,677.23 654.2,638.42" fill="none" stroke="#981414" stroke-width="0.95" />
<circle cx="508.8" cy="716.65" r="2.2" fill="#981414" stroke="none" stroke-width="1" />
<circle cx="508.2" cy="716.05" r="0.65" fill="#fff" stroke="none" stroke-width="0" opacity="0.6"/>
<circle cx="545.15" cy="714.83" r="2.2" fill="#981414" stroke="none" stroke-width="1" />
<circle cx="544.55" cy="714.23" r="0.65" fill="#fff" stroke="none" stroke-width="0" opacity="0.6"/>
<circle cx="581.5" cy="716.05" r="2.2" fill="#981414" stroke="none" stroke-width="1" />
<circle cx="580.9" cy="715.45" r="0.65" fill="#fff" stroke="none" stroke-width="0" opacity="0.6"/>
<circle cx="617.85" cy="677.23" r="2.2" fill="#981414" stroke="none" stroke-width="1" />
<circle cx="617.25" cy="676.63" r="0.65" fill="#fff" stroke="none" stroke-width="0" opacity="0.6"/>
<circle cx="654.2" cy="638.42" r="2.2" fill="#981414" stroke="none" stroke-width="1" />
<circle cx="653.6" cy="637.82" r="0.65" fill="#fff" stroke="none" stroke-width="0" opacity="0.6"/>
<polyline points="508.8,716.65 545.15,672.38 581.5,648.12 617.85,619.61 654.2,648.12" fill="none" stroke="#a988c0" stroke-width="0.95" />
<circle cx="508.8" cy="716.65" r="2.2" fill="#a988c0" stroke="none" stroke-width="1" />
<circle cx="508.2" cy="716.05" r="0.65" fill="#fff" stroke="none" stroke-width="0" opacity="0.6"/>
<circle cx="545.15" cy="672.38" r="2.2" fill="#a988c0" stroke="none" stroke-width="1" />
<circle cx="544.55" cy="671.78" r="0.65" fill="#fff" stroke="none" stroke-width="0" opacity="0.6"/>
<circle cx="581.5" cy="648.12" r="2.2" fill="#a988c0" stroke="none" stroke-width="1" />
<circle cx="580.9" cy="647.52" r="0.65" fill="#fff" stroke="none" stroke-width="0" opacity="0.6"/>
<circle cx="617.85" cy="619.61" r="2.2" fill="#a988c0" stroke="none" stroke-width="1" />
<circle cx="617.25" cy="619.01" r="0.65" fill="#fff" stroke="none" stroke-width="0" opacity="0.6"/>
<circle cx="654.2" cy="648.12" r="2.2" fill="#a988c0" stroke="none" stroke-width="1" />
<circle cx="653.6" cy="647.52" r="0.65" fill="#fff" stroke="none" stroke-width="0" opacity="0.6"/>
<polyline points="508.8,716.65 545.15,686.94 581.5,652.97 617.85,657.82 654.2,625.07" fill="none" stroke="#7890ac" stroke-width="0.95" />
<circle cx="508.8" cy="716.65" r="2.2" fill="#7890ac" stroke="none" stroke-width="1" />
<circle cx="508.2" cy="716.05" r="0.65" fill="#fff" stroke="none" stroke-width="0" opacity="0.6"/>
<circle cx="545.15" cy="686.94" r="2.2" fill="#7890ac" stroke="none" stroke-width="1" />
<circle cx="544.55" cy="686.34" r="0.65" fill="#fff" stroke="none" stroke-width="0" opacity="0.6"/>
<circle cx="581.5" cy="652.97" r="2.2" fill="#7890ac" stroke="none" stroke-width="1" />
<circle cx="580.9" cy="652.37" r="0.65" fill="#fff" stroke="none" stroke-width="0" opacity="0.6"/>
<circle cx="617.85" cy="657.82" r="2.2" fill="#7890ac" stroke="none" stroke-width="1" />
<circle cx="617.25" cy="657.22" r="0.65" fill="#fff" stroke="none" stroke-width="0" opacity="0.6"/>
<circle cx="654.2" cy="625.07" r="2.2" fill="#7890ac" stroke="none" stroke-width="1" />
<circle cx="653.6" cy="624.47" r="0.65" fill="#fff" stroke="none" stroke-width="0" opacity="0.6"/>
<polyline points="508.8,716.65 545.15,667.53 581.5,682.08 617.85,657.82 654.2,629.32" fill="none" stroke="#1430c0" stroke-width="0.95" />
<circle cx="508.8" cy="716.65" r="2.2" fill="#1430c0" stroke="none" stroke-width="1" />
<circle cx="508.2" cy="716.05" r="0.65" fill="#fff" stroke="none" stroke-width="0" opacity="0.6"/>
<circle cx="545.15" cy="667.53" r="2.2" fill="#1430c0" stroke="none" stroke-width="1" />
<circle cx="544.55" cy="666.93" r="0.65" fill="#fff" stroke="none" stroke-width="0" opacity="0.6"/>
<circle cx="581.5" cy="682.08" r="2.2" fill="#1430c0" stroke="none" stroke-width="1" />
<circle cx="580.9" cy="681.48" r="0.65" fill="#fff" stroke="none" stroke-width="0" opacity="0.6"/>
<circle cx="617.85" cy="657.82" r="2.2" fill="#1430c0" stroke="none" stroke-width="1" />
<circle cx="617.25" cy="657.22" r="0.65" fill="#fff" stroke="none" stroke-width="0" opacity="0.6"/>
<circle cx="654.2" cy="629.32" r="2.2" fill="#1430c0" stroke="none" stroke-width="1" />
<circle cx="653.6" cy="628.72" r="0.65" fill="#fff" stroke="none" stroke-width="0" opacity="0.6"/>
<polyline points="508.8,716.65 545.15,711.2 581.5,691.79 617.85,663.89 654.2,634.17" fill="none" stroke="#f58a14" stroke-width="0.95" />
<circle cx="508.8" cy="716.65" r="2.2" fill="#f58a14" stroke="none" stroke-width="1" />
<circle cx="508.2" cy="716.05" r="0.65" fill="#fff" stroke="none" stroke-width="0" opacity="0.6"/>
<circle cx="545.15" cy="711.2" r="2.2" fill="#f58a14" stroke="none" stroke-width="1" />
<circle cx="544.55" cy="710.6" r="0.65" fill="#fff" stroke="none" stroke-width="0" opacity="0.6"/>
<circle cx="581.5" cy="691.79" r="2.2" fill="#f58a14" stroke="none" stroke-width="1" />
<circle cx="580.9" cy="691.19" r="0.65" fill="#fff" stroke="none" stroke-width="0" opacity="0.6"/>
<circle cx="617.85" cy="663.89" r="2.2" fill="#f58a14" stroke="none" stroke-width="1" />
<circle cx="617.25" cy="663.29" r="0.65" fill="#fff" stroke="none" stroke-width="0" opacity="0.6"/>
<circle cx="654.2" cy="634.17" r="2.2" fill="#f58a14" stroke="none" stroke-width="1" />
<circle cx="653.6" cy="633.57" r="0.65" fill="#fff" stroke="none" stroke-width="0" opacity="0.6"/>
<polyline points="508.8,716.65 545.15,662.68 581.5,638.42 617.85,614.76 654.2,595.35" fill="none" stroke="#a014f0" stroke-width="0.95" />
<circle cx="508.8" cy="716.65" r="2.2" fill="#a014f0" stroke="none" stroke-width="1" />
<circle cx="508.2" cy="716.05" r="0.65" fill="#fff" stroke="none" stroke-width="0" opacity="0.6"/>
<circle cx="545.15" cy="662.68" r="2.2" fill="#a014f0" stroke="none" stroke-width="1" />
<circle cx="544.55" cy="662.08" r="0.65" fill="#fff" stroke="none" stroke-width="0" opacity="0.6"/>
<circle cx="581.5" cy="638.42" r="2.2" fill="#a014f0" stroke="none" stroke-width="1" />
<circle cx="580.9" cy="637.82" r="0.65" fill="#fff" stroke="none" stroke-width="0" opacity="0.6"/>
<circle cx="617.85" cy="614.76" r="2.2" fill="#a014f0" stroke="none" stroke-width="1" />
<circle cx="617.25" cy="614.16" r="0.65" fill="#fff" stroke="none" stroke-width="0" opacity="0.6"/>
<circle cx="654.2" cy="595.35" r="2.2" fill="#a014f0" stroke="none" stroke-width="1" />
<circle cx="653.6" cy="594.75" r="0.65" fill="#fff" stroke="none" stroke-width="0" opacity="0.6"/>
<line x1="496.2" y1="581.3" x2="511.5" y2="581.3" stroke="#000000" stroke-width="1" />
<circle cx="503.8" cy="581.3" r="2" fill="#000000" stroke="none" stroke-width="1" />
<circle cx="503.2" cy="580.7" r="0.65" fill="#fff" stroke="none" stroke-width="0" opacity="0.6"/>
<text x="513.2" y="583.8" font-size="6.9"  text-anchor="start" fill="#111" >[0000]</text>
<line x1="496.2" y1="589.8" x2="511.5" y2="589.8" stroke="#c9cdc9" stroke-width="1" />
<circle cx="503.8" cy="589.8" r="2" fill="#c9cdc9" stroke="none" stroke-width="1" />
<circle cx="503.2" cy="589.2" r="0.65" fill="#fff" stroke="none" stroke-width="0" opacity="0.6"/>
<text x="513.2" y="592.3" font-size="6.9"  text-anchor="start" fill="#111" >[1000]</text>
<line x1="496.2" y1="598.1" x2="511.5" y2="598.1" stroke="#68b2e4" stroke-width="1" />
<circle cx="503.8" cy="598.1" r="2" fill="#68b2e4" stroke="none" stroke-width="1" />
<circle cx="503.2" cy="597.5" r="0.65" fill="#fff" stroke="none" stroke-width="0" opacity="0.6"/>
<text x="513.2" y="600.6" font-size="6.9"  text-anchor="start" fill="#111" >[0100]</text>
<line x1="496.2" y1="606.5" x2="511.5" y2="606.5" stroke="#1414e6" stroke-width="1" />
<circle cx="503.8" cy="606.5" r="2" fill="#1414e6" stroke="none" stroke-width="1" />
<circle cx="503.2" cy="605.9" r="0.65" fill="#fff" stroke="none" stroke-width="0" opacity="0.6"/>
<text x="513.2" y="609" font-size="6.9"  text-anchor="start" fill="#111" >[0010]</text>
<line x1="496.2" y1="614.9" x2="511.5" y2="614.9" stroke="#12e6f0" stroke-width="1" />
<circle cx="503.8" cy="614.9" r="2" fill="#12e6f0" stroke="none" stroke-width="1" />
<circle cx="503.2" cy="614.3" r="0.65" fill="#fff" stroke="none" stroke-width="0" opacity="0.6"/>
<text x="513.2" y="617.4" font-size="6.9"  text-anchor="start" fill="#111" >[0001]</text>
<line x1="496.2" y1="623.3" x2="511.5" y2="623.3" stroke="#f416e6" stroke-width="1" />
<circle cx="503.8" cy="623.3" r="2" fill="#f416e6" stroke="none" stroke-width="1" />
<circle cx="503.2" cy="622.7" r="0.65" fill="#fff" stroke="none" stroke-width="0" opacity="0.6"/>
<text x="513.2" y="625.8" font-size="6.9"  text-anchor="start" fill="#111" >[1100]</text>
<line x1="496.2" y1="631.4" x2="511.5" y2="631.4" stroke="#f5ee12" stroke-width="1" />
<circle cx="503.8" cy="631.4" r="2" fill="#f5ee12" stroke="none" stroke-width="1" />
<circle cx="503.2" cy="630.8" r="0.65" fill="#fff" stroke="none" stroke-width="0" opacity="0.6"/>
<text x="513.2" y="633.9" font-size="6.9"  text-anchor="start" fill="#111" >[1010]</text>
<line x1="496.2" y1="639.8" x2="511.5" y2="639.8" stroke="#8a8a10" stroke-width="1" />
<circle cx="503.8" cy="639.8" r="2" fill="#8a8a10" stroke="none" stroke-width="1" />
<circle cx="503.2" cy="639.2" r="0.65" fill="#fff" stroke="none" stroke-width="0" opacity="0.6"/>
<text x="513.2" y="642.3" font-size="6.9"  text-anchor="start" fill="#111" >[1001]</text>
<line x1="532.1" y1="581.3" x2="547.4" y2="581.3" stroke="#d4607c" stroke-width="1" />
<circle cx="539.7" cy="581.3" r="2" fill="#d4607c" stroke="none" stroke-width="1" />
<circle cx="539.1" cy="580.7" r="0.65" fill="#fff" stroke="none" stroke-width="0" opacity="0.6"/>
<text x="549.1" y="583.8" font-size="6.9"  text-anchor="start" fill="#111" >[0110]</text>
<line x1="532.1" y1="589.8" x2="547.4" y2="589.8" stroke="#9a149a" stroke-width="1" />
<circle cx="539.7" cy="589.8" r="2" fill="#9a149a" stroke="none" stroke-width="1" />
<circle cx="539.1" cy="589.2" r="0.65" fill="#fff" stroke="none" stroke-width="0" opacity="0.6"/>
<text x="549.1" y="592.3" font-size="6.9"  text-anchor="start" fill="#111" >[0101]</text>
<line x1="532.1" y1="598.1" x2="547.4" y2="598.1" stroke="#981414" stroke-width="1" />
<circle cx="539.7" cy="598.1" r="2" fill="#981414" stroke="none" stroke-width="1" />
<circle cx="539.1" cy="597.5" r="0.65" fill="#fff" stroke="none" stroke-width="0" opacity="0.6"/>
<text x="549.1" y="600.6" font-size="6.9"  text-anchor="start" fill="#111" >[0011]</text>
<line x1="532.1" y1="606.5" x2="547.4" y2="606.5" stroke="#a988c0" stroke-width="1" />
<circle cx="539.7" cy="606.5" r="2" fill="#a988c0" stroke="none" stroke-width="1" />
<circle cx="539.1" cy="605.9" r="0.65" fill="#fff" stroke="none" stroke-width="0" opacity="0.6"/>
<text x="549.1" y="609" font-size="6.9"  text-anchor="start" fill="#111" >[1110]</text>
<line x1="532.1" y1="614.9" x2="547.4" y2="614.9" stroke="#7890ac" stroke-width="1" />
<circle cx="539.7" cy="614.9" r="2" fill="#7890ac" stroke="none" stroke-width="1" />
<circle cx="539.1" cy="614.3" r="0.65" fill="#fff" stroke="none" stroke-width="0" opacity="0.6"/>
<text x="549.1" y="617.4" font-size="6.9"  text-anchor="start" fill="#111" >[1101]</text>
<line x1="532.1" y1="623.3" x2="547.4" y2="623.3" stroke="#1430c0" stroke-width="1" />
<circle cx="539.7" cy="623.3" r="2" fill="#1430c0" stroke="none" stroke-width="1" />
<circle cx="539.1" cy="622.7" r="0.65" fill="#fff" stroke="none" stroke-width="0" opacity="0.6"/>
<text x="549.1" y="625.8" font-size="6.9"  text-anchor="start" fill="#111" >[1011]</text>
<line x1="532.1" y1="631.4" x2="547.4" y2="631.4" stroke="#f58a14" stroke-width="1" />
<circle cx="539.7" cy="631.4" r="2" fill="#f58a14" stroke="none" stroke-width="1" />
<circle cx="539.1" cy="630.8" r="0.65" fill="#fff" stroke="none" stroke-width="0" opacity="0.6"/>
<text x="549.1" y="633.9" font-size="6.9"  text-anchor="start" fill="#111" >[0111]</text>
<line x1="532.1" y1="639.8" x2="547.4" y2="639.8" stroke="#a014f0" stroke-width="1" />
<circle cx="539.7" cy="639.8" r="2" fill="#a014f0" stroke="none" stroke-width="1" />
<circle cx="539.1" cy="639.2" r="0.65" fill="#fff" stroke="none" stroke-width="0" opacity="0.6"/>
<text x="549.1" y="642.3" font-size="6.9"  text-anchor="start" fill="#111" >[1111]</text>
<rect x="491" y="575.35" width="181.7" height="145.55" fill="none" stroke="#000" stroke-width="1.6" />
<line x1="491" y1="623.86" x2="493.6" y2="623.86" stroke="#000" stroke-width="1.6" /><line x1="491" y1="672.38" x2="493.6" y2="672.38" stroke="#000" stroke-width="1.6" />
<line x1="508.8" y1="720.9" x2="508.8" y2="718.3" stroke="#000" stroke-width="1.6" /><line x1="545.15" y1="720.9" x2="545.15" y2="718.3" stroke="#000" stroke-width="1.6" /><line x1="581.5" y1="720.9" x2="581.5" y2="718.3" stroke="#000" stroke-width="1.6" /><line x1="617.85" y1="720.9" x2="617.85" y2="718.3" stroke="#000" stroke-width="1.6" /><line x1="654.2" y1="720.9" x2="654.2" y2="718.3" stroke="#000" stroke-width="1.6" />
<text x="488.2" y="577.44" font-size="12.8" font-weight="bold" text-anchor="end" fill="#000" >1.2</text>
<text x="488.2" y="627.76" font-size="12.8" font-weight="bold" text-anchor="end" fill="#000" >0.8</text>
<text x="488.2" y="676.28" font-size="12.8" font-weight="bold" text-anchor="end" fill="#000" >0.4</text>
<text x="488.2" y="724.8" font-size="12.8" font-weight="bold" text-anchor="end" fill="#000" >0.0</text>
<text x="508.4" y="731.9" font-size="12.8" font-weight="bold" text-anchor="middle" fill="#000" >0</text>
<text x="544.75" y="731.9" font-size="12.8" font-weight="bold" text-anchor="middle" fill="#000" >1</text>
<text x="581.1" y="731.9" font-size="12.8" font-weight="bold" text-anchor="middle" fill="#000" >2</text>
<text x="617.45" y="731.9" font-size="12.8" font-weight="bold" text-anchor="middle" fill="#000" >3</text>
<text x="653.8" y="731.9" font-size="12.8" font-weight="bold" text-anchor="middle" fill="#000" >4</text>
<text x="583.4" y="742.8" font-size="12.3" font-weight="bold" text-anchor="middle" fill="#000" >Pulse number</text>
<text x="465.2" y="635" font-size="12.3" font-weight="bold" text-anchor="middle" fill="#000" transform="rotate(-90 465.2 635)" >Read voltage(V)</text>
</svg>
</body></html>
